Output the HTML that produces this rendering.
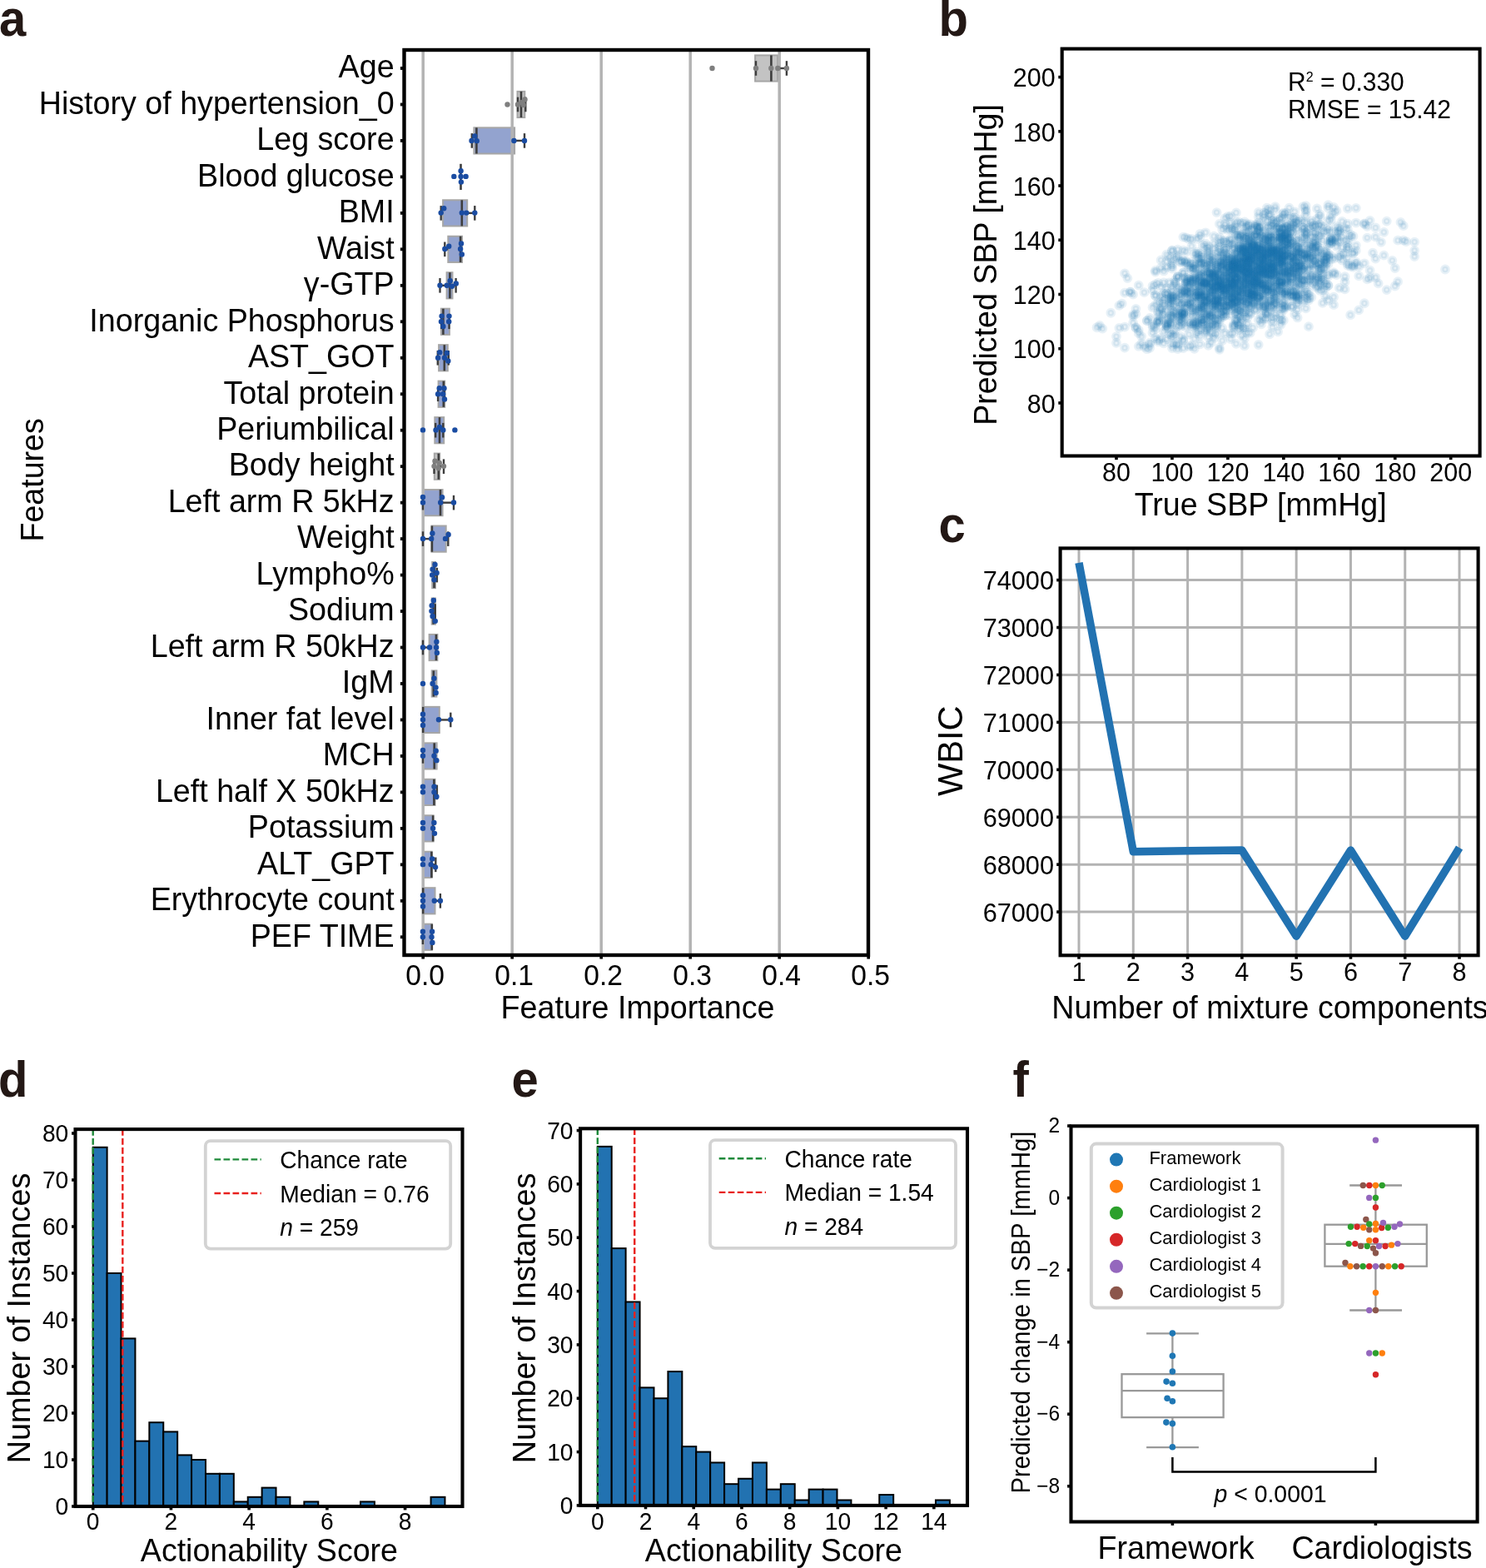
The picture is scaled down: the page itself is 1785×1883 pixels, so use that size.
<!DOCTYPE html>
<html><head><meta charset="utf-8"><title>Figure</title>
<style>html,body{margin:0;padding:0;background:#fff;}svg{display:block;}
svg text{font-family:'Liberation Sans', Arial, Helvetica, sans-serif;}</style></head>
<body><svg width="1785" height="1883" viewBox="0 0 1785 1883">
<rect x="0" y="0" width="1785" height="1883" fill="#fff"/>
<text x="0" y="0" transform="translate(-1,43.3) scale(1,1.04)" font-size="58" font-weight="bold" fill="#231815">a</text>
<text x="0" y="0" transform="translate(1127.5,43.3) scale(1,1.04)" font-size="58" font-weight="bold" fill="#231815">b</text>
<text x="0" y="0" transform="translate(1127.5,651) scale(1,1.04)" font-size="58" font-weight="bold" fill="#231815">c</text>
<text x="0" y="0" transform="translate(-2,1317.4) scale(1,1.04)" font-size="58" font-weight="bold" fill="#231815">d</text>
<text x="0" y="0" transform="translate(614.5,1317.2) scale(1,1.04)" font-size="58" font-weight="bold" fill="#231815">e</text>
<text x="0" y="0" transform="translate(1216.5,1317) scale(1,1.04)" font-size="58" font-weight="bold" fill="#231815">f</text>
<rect x="907.1" y="66.4" width="27" height="31.2" fill="#c3c3c3" stroke="#a6a6a6" stroke-width="2"/>
<rect x="621.5" y="109.87" width="8.8" height="31.2" fill="#c3c3c3" stroke="#a6a6a6" stroke-width="2"/>
<rect x="569.4" y="153.34" width="48.7" height="31.2" fill="#93a3cf" stroke="#a6a6a6" stroke-width="2"/>
<rect x="532.1" y="240.28" width="29.1" height="31.2" fill="#93a3cf" stroke="#a6a6a6" stroke-width="2"/>
<rect x="538.3" y="283.75" width="16.7" height="31.2" fill="#93a3cf" stroke="#a6a6a6" stroke-width="2"/>
<rect x="536.6" y="327.22" width="6.9" height="31.2" fill="#93a3cf" stroke="#a6a6a6" stroke-width="2"/>
<rect x="529.9" y="370.69" width="10" height="31.2" fill="#93a3cf" stroke="#a6a6a6" stroke-width="2"/>
<rect x="527.1" y="414.16" width="10.7" height="31.2" fill="#93a3cf" stroke="#a6a6a6" stroke-width="2"/>
<rect x="526.6" y="457.63" width="7.6" height="31.2" fill="#93a3cf" stroke="#a6a6a6" stroke-width="2"/>
<rect x="522.3" y="501.1" width="10.9" height="31.2" fill="#93a3cf" stroke="#a6a6a6" stroke-width="2"/>
<rect x="521.8" y="544.57" width="6.4" height="31.2" fill="#c3c3c3" stroke="#a6a6a6" stroke-width="2"/>
<rect x="508.2" y="588.04" width="23.4" height="31.2" fill="#93a3cf" stroke="#a6a6a6" stroke-width="2"/>
<rect x="518.5" y="631.51" width="17.2" height="31.2" fill="#93a3cf" stroke="#a6a6a6" stroke-width="2"/>
<rect x="519.2" y="674.98" width="3.8" height="31.2" fill="#93a3cf" stroke="#a6a6a6" stroke-width="2"/>
<rect x="518.7" y="718.45" width="4.3" height="31.2" fill="#93a3cf" stroke="#a6a6a6" stroke-width="2"/>
<rect x="515.6" y="761.92" width="9.8" height="31.2" fill="#93a3cf" stroke="#a6a6a6" stroke-width="2"/>
<rect x="518.7" y="805.39" width="5.7" height="31.2" fill="#93a3cf" stroke="#a6a6a6" stroke-width="2"/>
<rect x="508.2" y="848.86" width="19.6" height="31.2" fill="#93a3cf" stroke="#a6a6a6" stroke-width="2"/>
<rect x="508.2" y="892.33" width="16.4" height="31.2" fill="#93a3cf" stroke="#a6a6a6" stroke-width="2"/>
<rect x="508.2" y="935.8" width="14.3" height="31.2" fill="#93a3cf" stroke="#a6a6a6" stroke-width="2"/>
<rect x="508.2" y="979.27" width="12.4" height="31.2" fill="#93a3cf" stroke="#a6a6a6" stroke-width="2"/>
<rect x="508.2" y="1022.74" width="10.5" height="31.2" fill="#93a3cf" stroke="#a6a6a6" stroke-width="2"/>
<rect x="508.2" y="1066.21" width="14.3" height="31.2" fill="#93a3cf" stroke="#a6a6a6" stroke-width="2"/>
<rect x="508.2" y="1109.68" width="10.6" height="31.2" fill="#93a3cf" stroke="#a6a6a6" stroke-width="2"/>
<line x1="508.2" y1="60" x2="508.2" y2="1147" stroke="#b3b3b3" stroke-width="3.5"/>
<line x1="615.2" y1="60" x2="615.2" y2="1147" stroke="#b3b3b3" stroke-width="3.5"/>
<line x1="722.2" y1="60" x2="722.2" y2="1147" stroke="#b3b3b3" stroke-width="3.5"/>
<line x1="829.2" y1="60" x2="829.2" y2="1147" stroke="#b3b3b3" stroke-width="3.5"/>
<line x1="936.2" y1="60" x2="936.2" y2="1147" stroke="#b3b3b3" stroke-width="3.5"/>
<line x1="934.1" y1="82" x2="944.9" y2="82" stroke="#3d3d3d" stroke-width="2.4"/>
<line x1="908" y1="73.2" x2="908" y2="90.8" stroke="#3d3d3d" stroke-width="2.4"/>
<line x1="944.9" y1="73.2" x2="944.9" y2="90.8" stroke="#3d3d3d" stroke-width="2.4"/>
<line x1="926.4" y1="66.4" x2="926.4" y2="97.6" stroke="#3d3d3d" stroke-width="2.6"/>
<line x1="630.3" y1="125.47" x2="631.3" y2="125.47" stroke="#3d3d3d" stroke-width="2.4"/>
<line x1="622" y1="116.67" x2="622" y2="134.27" stroke="#3d3d3d" stroke-width="2.4"/>
<line x1="631.3" y1="116.67" x2="631.3" y2="134.27" stroke="#3d3d3d" stroke-width="2.4"/>
<line x1="626" y1="109.87" x2="626" y2="141.07" stroke="#3d3d3d" stroke-width="2.6"/>
<line x1="566.8" y1="168.94" x2="569.4" y2="168.94" stroke="#3d3d3d" stroke-width="2.4"/>
<line x1="618.1" y1="168.94" x2="630" y2="168.94" stroke="#3d3d3d" stroke-width="2.4"/>
<line x1="566.8" y1="160.14" x2="566.8" y2="177.74" stroke="#3d3d3d" stroke-width="2.4"/>
<line x1="630" y1="160.14" x2="630" y2="177.74" stroke="#3d3d3d" stroke-width="2.4"/>
<line x1="572.4" y1="153.34" x2="572.4" y2="184.54" stroke="#3d3d3d" stroke-width="2.6"/>
<line x1="553.5" y1="196.81" x2="553.5" y2="228.01" stroke="#3d3d3d" stroke-width="2.6"/>
<line x1="529.7" y1="255.88" x2="532.1" y2="255.88" stroke="#3d3d3d" stroke-width="2.4"/>
<line x1="561.2" y1="255.88" x2="570.3" y2="255.88" stroke="#3d3d3d" stroke-width="2.4"/>
<line x1="529.7" y1="247.08" x2="529.7" y2="264.68" stroke="#3d3d3d" stroke-width="2.4"/>
<line x1="570.3" y1="247.08" x2="570.3" y2="264.68" stroke="#3d3d3d" stroke-width="2.4"/>
<line x1="554.8" y1="240.28" x2="554.8" y2="271.48" stroke="#3d3d3d" stroke-width="2.6"/>
<line x1="534.3" y1="299.35" x2="538.3" y2="299.35" stroke="#3d3d3d" stroke-width="2.4"/>
<line x1="534.3" y1="290.55" x2="534.3" y2="308.15" stroke="#3d3d3d" stroke-width="2.4"/>
<line x1="553.1" y1="283.75" x2="553.1" y2="314.95" stroke="#3d3d3d" stroke-width="2.6"/>
<line x1="528.5" y1="342.82" x2="536.6" y2="342.82" stroke="#3d3d3d" stroke-width="2.4"/>
<line x1="543.5" y1="342.82" x2="547.6" y2="342.82" stroke="#3d3d3d" stroke-width="2.4"/>
<line x1="528.5" y1="334.02" x2="528.5" y2="351.62" stroke="#3d3d3d" stroke-width="2.4"/>
<line x1="547.6" y1="334.02" x2="547.6" y2="351.62" stroke="#3d3d3d" stroke-width="2.4"/>
<line x1="540.4" y1="327.22" x2="540.4" y2="358.42" stroke="#3d3d3d" stroke-width="2.6"/>
<line x1="530.2" y1="377.49" x2="530.2" y2="395.09" stroke="#3d3d3d" stroke-width="2.4"/>
<line x1="539.5" y1="377.49" x2="539.5" y2="395.09" stroke="#3d3d3d" stroke-width="2.4"/>
<line x1="532.4" y1="370.69" x2="532.4" y2="401.89" stroke="#3d3d3d" stroke-width="2.6"/>
<line x1="525.8" y1="429.76" x2="527.1" y2="429.76" stroke="#3d3d3d" stroke-width="2.4"/>
<line x1="537.8" y1="429.76" x2="538.8" y2="429.76" stroke="#3d3d3d" stroke-width="2.4"/>
<line x1="525.8" y1="420.96" x2="525.8" y2="438.56" stroke="#3d3d3d" stroke-width="2.4"/>
<line x1="538.8" y1="420.96" x2="538.8" y2="438.56" stroke="#3d3d3d" stroke-width="2.4"/>
<line x1="533.8" y1="414.16" x2="533.8" y2="445.36" stroke="#3d3d3d" stroke-width="2.6"/>
<line x1="526.1" y1="473.23" x2="526.6" y2="473.23" stroke="#3d3d3d" stroke-width="2.4"/>
<line x1="526.1" y1="464.43" x2="526.1" y2="482.03" stroke="#3d3d3d" stroke-width="2.4"/>
<line x1="534" y1="464.43" x2="534" y2="482.03" stroke="#3d3d3d" stroke-width="2.4"/>
<line x1="532.8" y1="457.63" x2="532.8" y2="488.83" stroke="#3d3d3d" stroke-width="2.6"/>
<line x1="523.2" y1="507.9" x2="523.2" y2="525.5" stroke="#3d3d3d" stroke-width="2.4"/>
<line x1="532.3" y1="507.9" x2="532.3" y2="525.5" stroke="#3d3d3d" stroke-width="2.4"/>
<line x1="528" y1="501.1" x2="528" y2="532.3" stroke="#3d3d3d" stroke-width="2.6"/>
<line x1="521.5" y1="560.17" x2="521.8" y2="560.17" stroke="#3d3d3d" stroke-width="2.4"/>
<line x1="528.2" y1="560.17" x2="533" y2="560.17" stroke="#3d3d3d" stroke-width="2.4"/>
<line x1="521.5" y1="551.37" x2="521.5" y2="568.97" stroke="#3d3d3d" stroke-width="2.4"/>
<line x1="533" y1="551.37" x2="533" y2="568.97" stroke="#3d3d3d" stroke-width="2.4"/>
<line x1="526.8" y1="544.57" x2="526.8" y2="575.77" stroke="#3d3d3d" stroke-width="2.6"/>
<line x1="508" y1="603.64" x2="508.2" y2="603.64" stroke="#3d3d3d" stroke-width="2.4"/>
<line x1="531.6" y1="603.64" x2="545" y2="603.64" stroke="#3d3d3d" stroke-width="2.4"/>
<line x1="508" y1="594.84" x2="508" y2="612.44" stroke="#3d3d3d" stroke-width="2.4"/>
<line x1="545" y1="594.84" x2="545" y2="612.44" stroke="#3d3d3d" stroke-width="2.4"/>
<line x1="529" y1="588.04" x2="529" y2="619.24" stroke="#3d3d3d" stroke-width="2.6"/>
<line x1="508" y1="647.11" x2="518.5" y2="647.11" stroke="#3d3d3d" stroke-width="2.4"/>
<line x1="535.7" y1="647.11" x2="538.3" y2="647.11" stroke="#3d3d3d" stroke-width="2.4"/>
<line x1="508" y1="638.31" x2="508" y2="655.91" stroke="#3d3d3d" stroke-width="2.4"/>
<line x1="538.3" y1="638.31" x2="538.3" y2="655.91" stroke="#3d3d3d" stroke-width="2.4"/>
<line x1="518.9" y1="631.51" x2="518.9" y2="662.71" stroke="#3d3d3d" stroke-width="2.6"/>
<line x1="523" y1="690.58" x2="524.9" y2="690.58" stroke="#3d3d3d" stroke-width="2.4"/>
<line x1="524.9" y1="681.78" x2="524.9" y2="699.38" stroke="#3d3d3d" stroke-width="2.4"/>
<line x1="521.5" y1="674.98" x2="521.5" y2="706.18" stroke="#3d3d3d" stroke-width="2.6"/>
<line x1="522.8" y1="725.25" x2="522.8" y2="742.85" stroke="#3d3d3d" stroke-width="2.4"/>
<line x1="520.6" y1="718.45" x2="520.6" y2="749.65" stroke="#3d3d3d" stroke-width="2.6"/>
<line x1="508" y1="777.52" x2="515.6" y2="777.52" stroke="#3d3d3d" stroke-width="2.4"/>
<line x1="508" y1="768.72" x2="508" y2="786.32" stroke="#3d3d3d" stroke-width="2.4"/>
<line x1="523.9" y1="761.92" x2="523.9" y2="793.12" stroke="#3d3d3d" stroke-width="2.6"/>
<line x1="520.8" y1="805.39" x2="520.8" y2="836.59" stroke="#3d3d3d" stroke-width="2.6"/>
<line x1="527.8" y1="864.46" x2="541.3" y2="864.46" stroke="#3d3d3d" stroke-width="2.4"/>
<line x1="541.3" y1="855.66" x2="541.3" y2="873.26" stroke="#3d3d3d" stroke-width="2.4"/>
<line x1="508.2" y1="848.86" x2="508.2" y2="880.06" stroke="#3d3d3d" stroke-width="2.6"/>
<line x1="508" y1="907.93" x2="508.2" y2="907.93" stroke="#3d3d3d" stroke-width="2.4"/>
<line x1="508" y1="899.13" x2="508" y2="916.73" stroke="#3d3d3d" stroke-width="2.4"/>
<line x1="521.7" y1="892.33" x2="521.7" y2="923.53" stroke="#3d3d3d" stroke-width="2.6"/>
<line x1="522.5" y1="951.4" x2="524.9" y2="951.4" stroke="#3d3d3d" stroke-width="2.4"/>
<line x1="524.9" y1="942.6" x2="524.9" y2="960.2" stroke="#3d3d3d" stroke-width="2.4"/>
<line x1="521.4" y1="935.8" x2="521.4" y2="967" stroke="#3d3d3d" stroke-width="2.6"/>
<line x1="520.1" y1="979.27" x2="520.1" y2="1010.47" stroke="#3d3d3d" stroke-width="2.6"/>
<line x1="518.7" y1="1038.34" x2="523.3" y2="1038.34" stroke="#3d3d3d" stroke-width="2.4"/>
<line x1="523.3" y1="1029.54" x2="523.3" y2="1047.14" stroke="#3d3d3d" stroke-width="2.4"/>
<line x1="518.4" y1="1022.74" x2="518.4" y2="1053.94" stroke="#3d3d3d" stroke-width="2.6"/>
<line x1="522.5" y1="1081.81" x2="528.9" y2="1081.81" stroke="#3d3d3d" stroke-width="2.4"/>
<line x1="528.9" y1="1073.01" x2="528.9" y2="1090.61" stroke="#3d3d3d" stroke-width="2.4"/>
<line x1="508.2" y1="1066.21" x2="508.2" y2="1097.41" stroke="#3d3d3d" stroke-width="2.6"/>
<line x1="507.9" y1="1125.28" x2="508.2" y2="1125.28" stroke="#3d3d3d" stroke-width="2.4"/>
<line x1="507.9" y1="1116.48" x2="507.9" y2="1134.08" stroke="#3d3d3d" stroke-width="2.4"/>
<line x1="518.8" y1="1109.68" x2="518.8" y2="1140.88" stroke="#3d3d3d" stroke-width="2.6"/>
<circle cx="855.5" cy="82" r="3.2" fill="#7f7f7f"/>
<circle cx="908" cy="82" r="3.2" fill="#7f7f7f"/>
<circle cx="926.3" cy="82" r="3.2" fill="#7f7f7f"/>
<circle cx="934.3" cy="82" r="3.2" fill="#7f7f7f"/>
<circle cx="944.9" cy="82" r="3.2" fill="#7f7f7f"/>
<circle cx="609.5" cy="125.47" r="3.2" fill="#7f7f7f"/>
<circle cx="622" cy="125.47" r="3.2" fill="#7f7f7f"/>
<circle cx="630.5" cy="119.47" r="3.2" fill="#7f7f7f"/>
<circle cx="628.6" cy="125.97" r="3.2" fill="#7f7f7f"/>
<circle cx="626.5" cy="122.97" r="3.2" fill="#7f7f7f"/>
<circle cx="566.5" cy="168.94" r="3.2" fill="#1a4ca2"/>
<circle cx="570.3" cy="163.44" r="3.2" fill="#1a4ca2"/>
<circle cx="572.7" cy="169.14" r="3.2" fill="#1a4ca2"/>
<circle cx="617.4" cy="168.94" r="3.2" fill="#1a4ca2"/>
<circle cx="630" cy="168.94" r="3.2" fill="#1a4ca2"/>
<circle cx="545.3" cy="211.91" r="3.2" fill="#1a4ca2"/>
<circle cx="553.6" cy="205.21" r="3.2" fill="#1a4ca2"/>
<circle cx="553.6" cy="211.91" r="3.2" fill="#1a4ca2"/>
<circle cx="559.6" cy="211.91" r="3.2" fill="#1a4ca2"/>
<circle cx="553.9" cy="218.61" r="3.2" fill="#1a4ca2"/>
<circle cx="529.7" cy="255.58" r="3.2" fill="#1a4ca2"/>
<circle cx="533.2" cy="250.28" r="3.2" fill="#1a4ca2"/>
<circle cx="554.8" cy="255.58" r="3.2" fill="#1a4ca2"/>
<circle cx="560.3" cy="255.58" r="3.2" fill="#1a4ca2"/>
<circle cx="570.3" cy="255.58" r="3.2" fill="#1a4ca2"/>
<circle cx="534.3" cy="298.95" r="3.2" fill="#1a4ca2"/>
<circle cx="539.2" cy="295.75" r="3.2" fill="#1a4ca2"/>
<circle cx="554" cy="292.55" r="3.2" fill="#1a4ca2"/>
<circle cx="553.1" cy="298.95" r="3.2" fill="#1a4ca2"/>
<circle cx="554.8" cy="305.45" r="3.2" fill="#1a4ca2"/>
<circle cx="528.5" cy="342.82" r="3.2" fill="#1a4ca2"/>
<circle cx="536.8" cy="342.82" r="3.2" fill="#1a4ca2"/>
<circle cx="540.7" cy="337.32" r="3.2" fill="#1a4ca2"/>
<circle cx="542.9" cy="343.82" r="3.2" fill="#1a4ca2"/>
<circle cx="547.8" cy="340.42" r="3.2" fill="#1a4ca2"/>
<circle cx="530.6" cy="379.59" r="3.2" fill="#1a4ca2"/>
<circle cx="530" cy="386.29" r="3.2" fill="#1a4ca2"/>
<circle cx="532.4" cy="391.99" r="3.2" fill="#1a4ca2"/>
<circle cx="539.5" cy="379.59" r="3.2" fill="#1a4ca2"/>
<circle cx="539.2" cy="386.29" r="3.2" fill="#1a4ca2"/>
<circle cx="528.2" cy="423.16" r="3.2" fill="#1a4ca2"/>
<circle cx="526.1" cy="429.66" r="3.2" fill="#1a4ca2"/>
<circle cx="536.8" cy="424.06" r="3.2" fill="#1a4ca2"/>
<circle cx="534" cy="429.66" r="3.2" fill="#1a4ca2"/>
<circle cx="538.3" cy="433.46" r="3.2" fill="#1a4ca2"/>
<circle cx="527.8" cy="466.23" r="3.2" fill="#1a4ca2"/>
<circle cx="533.5" cy="466.23" r="3.2" fill="#1a4ca2"/>
<circle cx="526.1" cy="473.13" r="3.2" fill="#1a4ca2"/>
<circle cx="532.1" cy="473.13" r="3.2" fill="#1a4ca2"/>
<circle cx="534" cy="479.43" r="3.2" fill="#1a4ca2"/>
<circle cx="508" cy="516.4" r="3.2" fill="#1a4ca2"/>
<circle cx="523.5" cy="516.4" r="3.2" fill="#1a4ca2"/>
<circle cx="528" cy="513" r="3.2" fill="#1a4ca2"/>
<circle cx="532.3" cy="516.4" r="3.2" fill="#1a4ca2"/>
<circle cx="546.4" cy="516.4" r="3.2" fill="#1a4ca2"/>
<circle cx="522.5" cy="553.67" r="3.2" fill="#7f7f7f"/>
<circle cx="521.5" cy="559.87" r="3.2" fill="#7f7f7f"/>
<circle cx="527.8" cy="555.97" r="3.2" fill="#7f7f7f"/>
<circle cx="526.8" cy="562.27" r="3.2" fill="#7f7f7f"/>
<circle cx="533" cy="559.87" r="3.2" fill="#7f7f7f"/>
<circle cx="508" cy="597.04" r="3.2" fill="#1a4ca2"/>
<circle cx="508" cy="603.44" r="3.2" fill="#1a4ca2"/>
<circle cx="531.1" cy="597.24" r="3.2" fill="#1a4ca2"/>
<circle cx="529.2" cy="603.44" r="3.2" fill="#1a4ca2"/>
<circle cx="545" cy="603.44" r="3.2" fill="#1a4ca2"/>
<circle cx="508" cy="646.91" r="3.2" fill="#1a4ca2"/>
<circle cx="518.2" cy="646.91" r="3.2" fill="#1a4ca2"/>
<circle cx="519.4" cy="640.41" r="3.2" fill="#1a4ca2"/>
<circle cx="535" cy="646.91" r="3.2" fill="#1a4ca2"/>
<circle cx="538.6" cy="642.01" r="3.2" fill="#1a4ca2"/>
<circle cx="522.5" cy="677.98" r="3.2" fill="#1a4ca2"/>
<circle cx="519.6" cy="683.68" r="3.2" fill="#1a4ca2"/>
<circle cx="524.6" cy="687.98" r="3.2" fill="#1a4ca2"/>
<circle cx="519.2" cy="690.38" r="3.2" fill="#1a4ca2"/>
<circle cx="521.5" cy="696.18" r="3.2" fill="#1a4ca2"/>
<circle cx="520.8" cy="720.95" r="3.2" fill="#1a4ca2"/>
<circle cx="518.7" cy="727.15" r="3.2" fill="#1a4ca2"/>
<circle cx="518.4" cy="733.85" r="3.2" fill="#1a4ca2"/>
<circle cx="519.6" cy="740.05" r="3.2" fill="#1a4ca2"/>
<circle cx="522.8" cy="745.85" r="3.2" fill="#1a4ca2"/>
<circle cx="508" cy="777.52" r="3.2" fill="#1a4ca2"/>
<circle cx="516" cy="777.52" r="3.2" fill="#1a4ca2"/>
<circle cx="524.4" cy="770.82" r="3.2" fill="#1a4ca2"/>
<circle cx="524.1" cy="777.52" r="3.2" fill="#1a4ca2"/>
<circle cx="524.9" cy="783.92" r="3.2" fill="#1a4ca2"/>
<circle cx="508" cy="820.99" r="3.2" fill="#1a4ca2"/>
<circle cx="521.4" cy="814.79" r="3.2" fill="#1a4ca2"/>
<circle cx="519.6" cy="820.99" r="3.2" fill="#1a4ca2"/>
<circle cx="523.5" cy="825.59" r="3.2" fill="#1a4ca2"/>
<circle cx="523.7" cy="831.99" r="3.2" fill="#1a4ca2"/>
<circle cx="508" cy="857.76" r="3.2" fill="#1a4ca2"/>
<circle cx="508" cy="864.26" r="3.2" fill="#1a4ca2"/>
<circle cx="508" cy="870.96" r="3.2" fill="#1a4ca2"/>
<circle cx="527" cy="864.26" r="3.2" fill="#1a4ca2"/>
<circle cx="541.3" cy="864.26" r="3.2" fill="#1a4ca2"/>
<circle cx="508" cy="900.93" r="3.2" fill="#1a4ca2"/>
<circle cx="508" cy="907.73" r="3.2" fill="#1a4ca2"/>
<circle cx="523.7" cy="901.63" r="3.2" fill="#1a4ca2"/>
<circle cx="521.5" cy="907.73" r="3.2" fill="#1a4ca2"/>
<circle cx="524.4" cy="913.13" r="3.2" fill="#1a4ca2"/>
<circle cx="508" cy="944.8" r="3.2" fill="#1a4ca2"/>
<circle cx="508" cy="951.2" r="3.2" fill="#1a4ca2"/>
<circle cx="521.5" cy="944.8" r="3.2" fill="#1a4ca2"/>
<circle cx="521.5" cy="951.2" r="3.2" fill="#1a4ca2"/>
<circle cx="524.4" cy="956.8" r="3.2" fill="#1a4ca2"/>
<circle cx="508" cy="988.07" r="3.2" fill="#1a4ca2"/>
<circle cx="508" cy="994.77" r="3.2" fill="#1a4ca2"/>
<circle cx="521.4" cy="988.07" r="3.2" fill="#1a4ca2"/>
<circle cx="520.1" cy="994.77" r="3.2" fill="#1a4ca2"/>
<circle cx="522" cy="1000.87" r="3.2" fill="#1a4ca2"/>
<circle cx="508" cy="1031.44" r="3.2" fill="#1a4ca2"/>
<circle cx="508" cy="1038.14" r="3.2" fill="#1a4ca2"/>
<circle cx="519.2" cy="1031.44" r="3.2" fill="#1a4ca2"/>
<circle cx="517.7" cy="1038.14" r="3.2" fill="#1a4ca2"/>
<circle cx="523" cy="1041.34" r="3.2" fill="#1a4ca2"/>
<circle cx="508" cy="1075.31" r="3.2" fill="#1a4ca2"/>
<circle cx="508" cy="1081.81" r="3.2" fill="#1a4ca2"/>
<circle cx="508" cy="1088.51" r="3.2" fill="#1a4ca2"/>
<circle cx="521.8" cy="1081.81" r="3.2" fill="#1a4ca2"/>
<circle cx="528.9" cy="1081.81" r="3.2" fill="#1a4ca2"/>
<circle cx="507.9" cy="1118.78" r="3.2" fill="#1a4ca2"/>
<circle cx="507.9" cy="1125.18" r="3.2" fill="#1a4ca2"/>
<circle cx="519.1" cy="1118.78" r="3.2" fill="#1a4ca2"/>
<circle cx="518.5" cy="1125.18" r="3.2" fill="#1a4ca2"/>
<circle cx="519.4" cy="1131.88" r="3.2" fill="#1a4ca2"/>
<rect x="485.5" y="60" width="557.5" height="1087" fill="none" stroke="#000" stroke-width="4.4" stroke-linejoin="miter"/>
<line x1="508.2" y1="1147" x2="508.2" y2="1151.6" stroke="#000" stroke-width="3.6"/>
<text x="0" y="0" transform="translate(510.7,1182.8) scale(1,1.04)" font-size="33.6" text-anchor="middle">0.0</text>
<line x1="615.2" y1="1147" x2="615.2" y2="1151.6" stroke="#000" stroke-width="3.6"/>
<text x="0" y="0" transform="translate(617.7,1182.8) scale(1,1.04)" font-size="33.6" text-anchor="middle">0.1</text>
<line x1="722.2" y1="1147" x2="722.2" y2="1151.6" stroke="#000" stroke-width="3.6"/>
<text x="0" y="0" transform="translate(724.7,1182.8) scale(1,1.04)" font-size="33.6" text-anchor="middle">0.2</text>
<line x1="829.2" y1="1147" x2="829.2" y2="1151.6" stroke="#000" stroke-width="3.6"/>
<text x="0" y="0" transform="translate(831.7,1182.8) scale(1,1.04)" font-size="33.6" text-anchor="middle">0.3</text>
<line x1="936.2" y1="1147" x2="936.2" y2="1151.6" stroke="#000" stroke-width="3.6"/>
<text x="0" y="0" transform="translate(938.7,1182.8) scale(1,1.04)" font-size="33.6" text-anchor="middle">0.4</text>
<line x1="1043.2" y1="1147" x2="1043.2" y2="1151.6" stroke="#000" stroke-width="3.6"/>
<text x="0" y="0" transform="translate(1045.7,1182.8) scale(1,1.04)" font-size="33.6" text-anchor="middle">0.5</text>
<line x1="480.9" y1="82" x2="485.5" y2="82" stroke="#000" stroke-width="3.8"/>
<text x="0" y="0" transform="translate(473.6,93.3) scale(1,1.04)" font-size="37.65" text-anchor="end">Age</text>
<line x1="480.9" y1="125.47" x2="485.5" y2="125.47" stroke="#000" stroke-width="3.8"/>
<text x="0" y="0" transform="translate(473.6,136.77) scale(1,1.04)" font-size="37.65" text-anchor="end">History of hypertension_0</text>
<line x1="480.9" y1="168.94" x2="485.5" y2="168.94" stroke="#000" stroke-width="3.8"/>
<text x="0" y="0" transform="translate(473.6,180.24) scale(1,1.04)" font-size="37.65" text-anchor="end">Leg score</text>
<line x1="480.9" y1="212.41" x2="485.5" y2="212.41" stroke="#000" stroke-width="3.8"/>
<text x="0" y="0" transform="translate(473.6,223.71) scale(1,1.04)" font-size="37.65" text-anchor="end">Blood glucose</text>
<line x1="480.9" y1="255.88" x2="485.5" y2="255.88" stroke="#000" stroke-width="3.8"/>
<text x="0" y="0" transform="translate(473.6,267.18) scale(1,1.04)" font-size="37.65" text-anchor="end">BMI</text>
<line x1="480.9" y1="299.35" x2="485.5" y2="299.35" stroke="#000" stroke-width="3.8"/>
<text x="0" y="0" transform="translate(473.6,310.65) scale(1,1.04)" font-size="37.65" text-anchor="end">Waist</text>
<line x1="480.9" y1="342.82" x2="485.5" y2="342.82" stroke="#000" stroke-width="3.8"/>
<text x="0" y="0" transform="translate(473.6,354.12) scale(1,1.04)" font-size="37.65" text-anchor="end">&#947;-GTP</text>
<line x1="480.9" y1="386.29" x2="485.5" y2="386.29" stroke="#000" stroke-width="3.8"/>
<text x="0" y="0" transform="translate(473.6,397.59) scale(1,1.04)" font-size="37.65" text-anchor="end">Inorganic Phosphorus</text>
<line x1="480.9" y1="429.76" x2="485.5" y2="429.76" stroke="#000" stroke-width="3.8"/>
<text x="0" y="0" transform="translate(473.6,441.06) scale(1,1.04)" font-size="37.65" text-anchor="end">AST_GOT</text>
<line x1="480.9" y1="473.23" x2="485.5" y2="473.23" stroke="#000" stroke-width="3.8"/>
<text x="0" y="0" transform="translate(473.6,484.53) scale(1,1.04)" font-size="37.65" text-anchor="end">Total protein</text>
<line x1="480.9" y1="516.7" x2="485.5" y2="516.7" stroke="#000" stroke-width="3.8"/>
<text x="0" y="0" transform="translate(473.6,528) scale(1,1.04)" font-size="37.65" text-anchor="end">Periumbilical</text>
<line x1="480.9" y1="560.17" x2="485.5" y2="560.17" stroke="#000" stroke-width="3.8"/>
<text x="0" y="0" transform="translate(473.6,571.47) scale(1,1.04)" font-size="37.65" text-anchor="end">Body height</text>
<line x1="480.9" y1="603.64" x2="485.5" y2="603.64" stroke="#000" stroke-width="3.8"/>
<text x="0" y="0" transform="translate(473.6,614.94) scale(1,1.04)" font-size="37.65" text-anchor="end">Left arm R 5kHz</text>
<line x1="480.9" y1="647.11" x2="485.5" y2="647.11" stroke="#000" stroke-width="3.8"/>
<text x="0" y="0" transform="translate(473.6,658.41) scale(1,1.04)" font-size="37.65" text-anchor="end">Weight</text>
<line x1="480.9" y1="690.58" x2="485.5" y2="690.58" stroke="#000" stroke-width="3.8"/>
<text x="0" y="0" transform="translate(473.6,701.88) scale(1,1.04)" font-size="37.65" text-anchor="end">Lympho%</text>
<line x1="480.9" y1="734.05" x2="485.5" y2="734.05" stroke="#000" stroke-width="3.8"/>
<text x="0" y="0" transform="translate(473.6,745.35) scale(1,1.04)" font-size="37.65" text-anchor="end">Sodium</text>
<line x1="480.9" y1="777.52" x2="485.5" y2="777.52" stroke="#000" stroke-width="3.8"/>
<text x="0" y="0" transform="translate(473.6,788.82) scale(1,1.04)" font-size="37.65" text-anchor="end">Left arm R 50kHz</text>
<line x1="480.9" y1="820.99" x2="485.5" y2="820.99" stroke="#000" stroke-width="3.8"/>
<text x="0" y="0" transform="translate(473.6,832.29) scale(1,1.04)" font-size="37.65" text-anchor="end">IgM</text>
<line x1="480.9" y1="864.46" x2="485.5" y2="864.46" stroke="#000" stroke-width="3.8"/>
<text x="0" y="0" transform="translate(473.6,875.76) scale(1,1.04)" font-size="37.65" text-anchor="end">Inner fat level</text>
<line x1="480.9" y1="907.93" x2="485.5" y2="907.93" stroke="#000" stroke-width="3.8"/>
<text x="0" y="0" transform="translate(473.6,919.23) scale(1,1.04)" font-size="37.65" text-anchor="end">MCH</text>
<line x1="480.9" y1="951.4" x2="485.5" y2="951.4" stroke="#000" stroke-width="3.8"/>
<text x="0" y="0" transform="translate(473.6,962.7) scale(1,1.04)" font-size="37.65" text-anchor="end">Left half X 50kHz</text>
<line x1="480.9" y1="994.87" x2="485.5" y2="994.87" stroke="#000" stroke-width="3.8"/>
<text x="0" y="0" transform="translate(473.6,1006.17) scale(1,1.04)" font-size="37.65" text-anchor="end">Potassium</text>
<line x1="480.9" y1="1038.34" x2="485.5" y2="1038.34" stroke="#000" stroke-width="3.8"/>
<text x="0" y="0" transform="translate(473.6,1049.64) scale(1,1.04)" font-size="37.65" text-anchor="end">ALT_GPT</text>
<line x1="480.9" y1="1081.81" x2="485.5" y2="1081.81" stroke="#000" stroke-width="3.8"/>
<text x="0" y="0" transform="translate(473.6,1093.11) scale(1,1.04)" font-size="37.65" text-anchor="end">Erythrocyte count</text>
<line x1="480.9" y1="1125.28" x2="485.5" y2="1125.28" stroke="#000" stroke-width="3.8"/>
<text x="0" y="0" transform="translate(473.6,1136.58) scale(1,1.04)" font-size="37.65" text-anchor="end">PEF TIME</text>
<text x="0" y="0" transform="translate(766,1222.8) scale(1,1.04)" font-size="37.7" text-anchor="middle">Feature Importance</text>
<text x="0" y="0" transform="translate(51.5,576.4) rotate(-90) scale(1,1.04)" font-size="37.6" text-anchor="middle">Features</text>
<g fill="#1f77b4" fill-opacity="0.1" stroke="#1f77b4" stroke-opacity="0.1" stroke-width="4.4"><circle cx="1736.01" cy="323.48" r="3.7"/><circle cx="1317.57" cy="393.26" r="3.7"/><circle cx="1558.59" cy="296.86" r="3.7"/><circle cx="1478.25" cy="331.23" r="3.7"/><circle cx="1401.26" cy="346.5" r="3.7"/><circle cx="1508.38" cy="282.48" r="3.7"/><circle cx="1444.77" cy="366.2" r="3.7"/><circle cx="1605.45" cy="284.39" r="3.7"/><circle cx="1515.07" cy="310.42" r="3.7"/><circle cx="1511.72" cy="341.43" r="3.7"/><circle cx="1461.51" cy="366.37" r="3.7"/><circle cx="1515.07" cy="318.37" r="3.7"/><circle cx="1471.55" cy="368.14" r="3.7"/><circle cx="1441.42" cy="370.73" r="3.7"/><circle cx="1521.77" cy="365.72" r="3.7"/><circle cx="1434.73" cy="373.61" r="3.7"/><circle cx="1491.64" cy="356.11" r="3.7"/><circle cx="1541.85" cy="291.16" r="3.7"/><circle cx="1535.15" cy="286.17" r="3.7"/><circle cx="1448.12" cy="395.62" r="3.7"/><circle cx="1531.81" cy="335.14" r="3.7"/><circle cx="1434.73" cy="379.3" r="3.7"/><circle cx="1568.63" cy="370.43" r="3.7"/><circle cx="1484.94" cy="342.81" r="3.7"/><circle cx="1484.94" cy="303.95" r="3.7"/><circle cx="1558.59" cy="305.04" r="3.7"/><circle cx="1511.72" cy="316.55" r="3.7"/><circle cx="1525.11" cy="302.04" r="3.7"/><circle cx="1511.72" cy="332.81" r="3.7"/><circle cx="1384.52" cy="399.48" r="3.7"/><circle cx="1528.46" cy="336.29" r="3.7"/><circle cx="1421.34" cy="313.91" r="3.7"/><circle cx="1518.42" cy="305.77" r="3.7"/><circle cx="1505.03" cy="291.05" r="3.7"/><circle cx="1494.99" cy="327.07" r="3.7"/><circle cx="1448.12" cy="321.21" r="3.7"/><circle cx="1471.55" cy="373.16" r="3.7"/><circle cx="1488.29" cy="341.42" r="3.7"/><circle cx="1518.42" cy="382.63" r="3.7"/><circle cx="1451.47" cy="329.23" r="3.7"/><circle cx="1481.6" cy="342.94" r="3.7"/><circle cx="1505.03" cy="308.53" r="3.7"/><circle cx="1498.33" cy="328.4" r="3.7"/><circle cx="1538.5" cy="296.59" r="3.7"/><circle cx="1551.89" cy="341.04" r="3.7"/><circle cx="1494.99" cy="301.52" r="3.7"/><circle cx="1575.33" cy="265.44" r="3.7"/><circle cx="1431.38" cy="350.9" r="3.7"/><circle cx="1538.5" cy="297.13" r="3.7"/><circle cx="1511.72" cy="339.73" r="3.7"/><circle cx="1561.93" cy="320.68" r="3.7"/><circle cx="1484.94" cy="335.43" r="3.7"/><circle cx="1608.8" cy="309.54" r="3.7"/><circle cx="1491.64" cy="301.83" r="3.7"/><circle cx="1505.03" cy="363.62" r="3.7"/><circle cx="1478.25" cy="316.85" r="3.7"/><circle cx="1608.8" cy="306.98" r="3.7"/><circle cx="1535.15" cy="360.9" r="3.7"/><circle cx="1444.77" cy="355.03" r="3.7"/><circle cx="1541.85" cy="308.38" r="3.7"/><circle cx="1652.32" cy="333.28" r="3.7"/><circle cx="1471.55" cy="322.54" r="3.7"/><circle cx="1508.38" cy="305.37" r="3.7"/><circle cx="1585.37" cy="339.73" r="3.7"/><circle cx="1438.08" cy="400.18" r="3.7"/><circle cx="1431.38" cy="415.27" r="3.7"/><circle cx="1498.33" cy="363.57" r="3.7"/><circle cx="1508.38" cy="351.68" r="3.7"/><circle cx="1551.89" cy="316.46" r="3.7"/><circle cx="1582.02" cy="322.03" r="3.7"/><circle cx="1518.42" cy="308.71" r="3.7"/><circle cx="1508.38" cy="341.1" r="3.7"/><circle cx="1578.67" cy="311.98" r="3.7"/><circle cx="1468.2" cy="345.33" r="3.7"/><circle cx="1578.67" cy="314.52" r="3.7"/><circle cx="1551.89" cy="324.25" r="3.7"/><circle cx="1515.07" cy="341.24" r="3.7"/><circle cx="1484.94" cy="311.59" r="3.7"/><circle cx="1491.64" cy="299.17" r="3.7"/><circle cx="1541.85" cy="328.06" r="3.7"/><circle cx="1391.21" cy="410.33" r="3.7"/><circle cx="1555.24" cy="328.32" r="3.7"/><circle cx="1484.94" cy="334.38" r="3.7"/><circle cx="1498.33" cy="326.13" r="3.7"/><circle cx="1528.46" cy="286.94" r="3.7"/><circle cx="1448.12" cy="359.68" r="3.7"/><circle cx="1404.6" cy="389.58" r="3.7"/><circle cx="1458.16" cy="353.9" r="3.7"/><circle cx="1505.03" cy="362.31" r="3.7"/><circle cx="1505.03" cy="393.7" r="3.7"/><circle cx="1444.77" cy="375.48" r="3.7"/><circle cx="1474.9" cy="368.66" r="3.7"/><circle cx="1361.09" cy="379.63" r="3.7"/><circle cx="1592.06" cy="355.41" r="3.7"/><circle cx="1371.13" cy="412.59" r="3.7"/><circle cx="1515.07" cy="310.65" r="3.7"/><circle cx="1535.15" cy="305.15" r="3.7"/><circle cx="1448.12" cy="397.16" r="3.7"/><circle cx="1548.55" cy="271.44" r="3.7"/><circle cx="1568.63" cy="258.49" r="3.7"/><circle cx="1324.26" cy="394.56" r="3.7"/><circle cx="1528.46" cy="289.94" r="3.7"/><circle cx="1478.25" cy="318.81" r="3.7"/><circle cx="1494.99" cy="335.83" r="3.7"/><circle cx="1484.94" cy="331.37" r="3.7"/><circle cx="1448.12" cy="376.02" r="3.7"/><circle cx="1595.41" cy="308.64" r="3.7"/><circle cx="1531.81" cy="301.65" r="3.7"/><circle cx="1505.03" cy="350.11" r="3.7"/><circle cx="1384.52" cy="348.38" r="3.7"/><circle cx="1494.99" cy="312.43" r="3.7"/><circle cx="1417.99" cy="385.32" r="3.7"/><circle cx="1578.67" cy="289.89" r="3.7"/><circle cx="1618.84" cy="268.77" r="3.7"/><circle cx="1505.03" cy="338.32" r="3.7"/><circle cx="1598.76" cy="278.18" r="3.7"/><circle cx="1458.16" cy="312.37" r="3.7"/><circle cx="1491.64" cy="315.04" r="3.7"/><circle cx="1498.33" cy="313.89" r="3.7"/><circle cx="1531.81" cy="309.98" r="3.7"/><circle cx="1464.86" cy="293.38" r="3.7"/><circle cx="1461.51" cy="343.71" r="3.7"/><circle cx="1538.5" cy="311.29" r="3.7"/><circle cx="1488.29" cy="370.86" r="3.7"/><circle cx="1364.43" cy="377.07" r="3.7"/><circle cx="1521.77" cy="349.66" r="3.7"/><circle cx="1525.11" cy="345.24" r="3.7"/><circle cx="1541.85" cy="354.45" r="3.7"/><circle cx="1454.82" cy="330.99" r="3.7"/><circle cx="1511.72" cy="315.17" r="3.7"/><circle cx="1494.99" cy="311.55" r="3.7"/><circle cx="1558.59" cy="361.93" r="3.7"/><circle cx="1488.29" cy="309.91" r="3.7"/><circle cx="1464.86" cy="337.54" r="3.7"/><circle cx="1484.94" cy="255.45" r="3.7"/><circle cx="1454.82" cy="353.65" r="3.7"/><circle cx="1675.75" cy="322.01" r="3.7"/><circle cx="1541.85" cy="301.7" r="3.7"/><circle cx="1642.28" cy="285.62" r="3.7"/><circle cx="1481.6" cy="329.45" r="3.7"/><circle cx="1481.6" cy="313.7" r="3.7"/><circle cx="1404.6" cy="380.57" r="3.7"/><circle cx="1471.55" cy="400.38" r="3.7"/><circle cx="1421.34" cy="284.56" r="3.7"/><circle cx="1484.94" cy="376.94" r="3.7"/><circle cx="1558.59" cy="365.46" r="3.7"/><circle cx="1484.94" cy="389.28" r="3.7"/><circle cx="1431.38" cy="363.77" r="3.7"/><circle cx="1531.81" cy="370.4" r="3.7"/><circle cx="1565.28" cy="337.7" r="3.7"/><circle cx="1498.33" cy="320.96" r="3.7"/><circle cx="1478.25" cy="324.87" r="3.7"/><circle cx="1421.34" cy="378.76" r="3.7"/><circle cx="1598.76" cy="287.98" r="3.7"/><circle cx="1407.95" cy="413.67" r="3.7"/><circle cx="1478.25" cy="337.89" r="3.7"/><circle cx="1454.82" cy="351.79" r="3.7"/><circle cx="1588.71" cy="310.07" r="3.7"/><circle cx="1541.85" cy="308.2" r="3.7"/><circle cx="1417.99" cy="349.59" r="3.7"/><circle cx="1511.72" cy="324.84" r="3.7"/><circle cx="1448.12" cy="339.41" r="3.7"/><circle cx="1498.33" cy="350.76" r="3.7"/><circle cx="1417.99" cy="374.28" r="3.7"/><circle cx="1561.93" cy="324.35" r="3.7"/><circle cx="1501.68" cy="300.82" r="3.7"/><circle cx="1645.62" cy="264.84" r="3.7"/><circle cx="1505.03" cy="293.35" r="3.7"/><circle cx="1484.94" cy="315.04" r="3.7"/><circle cx="1628.88" cy="314.61" r="3.7"/><circle cx="1481.6" cy="319.09" r="3.7"/><circle cx="1488.29" cy="396.18" r="3.7"/><circle cx="1491.64" cy="323.42" r="3.7"/><circle cx="1618.84" cy="298" r="3.7"/><circle cx="1498.33" cy="353.37" r="3.7"/><circle cx="1511.72" cy="338.6" r="3.7"/><circle cx="1538.5" cy="262.85" r="3.7"/><circle cx="1498.33" cy="277.58" r="3.7"/><circle cx="1585.37" cy="284.64" r="3.7"/><circle cx="1625.54" cy="320.85" r="3.7"/><circle cx="1541.85" cy="299.17" r="3.7"/><circle cx="1505.03" cy="342.1" r="3.7"/><circle cx="1625.54" cy="303.7" r="3.7"/><circle cx="1565.28" cy="362.37" r="3.7"/><circle cx="1598.76" cy="286.59" r="3.7"/><circle cx="1421.34" cy="327.22" r="3.7"/><circle cx="1471.55" cy="291.42" r="3.7"/><circle cx="1525.11" cy="318.09" r="3.7"/><circle cx="1414.64" cy="299.72" r="3.7"/><circle cx="1535.15" cy="342.87" r="3.7"/><circle cx="1505.03" cy="331.94" r="3.7"/><circle cx="1341" cy="411.95" r="3.7"/><circle cx="1458.16" cy="359.94" r="3.7"/><circle cx="1518.42" cy="303.84" r="3.7"/><circle cx="1615.49" cy="288.33" r="3.7"/><circle cx="1618.84" cy="316.56" r="3.7"/><circle cx="1505.03" cy="302.56" r="3.7"/><circle cx="1525.11" cy="317.21" r="3.7"/><circle cx="1541.85" cy="273.98" r="3.7"/><circle cx="1434.73" cy="388.76" r="3.7"/><circle cx="1531.81" cy="322.16" r="3.7"/><circle cx="1515.07" cy="306.93" r="3.7"/><circle cx="1491.64" cy="372.99" r="3.7"/><circle cx="1414.64" cy="369.58" r="3.7"/><circle cx="1538.5" cy="385.64" r="3.7"/><circle cx="1545.2" cy="307.66" r="3.7"/><circle cx="1488.29" cy="348.69" r="3.7"/><circle cx="1381.17" cy="382.02" r="3.7"/><circle cx="1494.99" cy="278.5" r="3.7"/><circle cx="1448.12" cy="327.4" r="3.7"/><circle cx="1488.29" cy="311.22" r="3.7"/><circle cx="1555.24" cy="264.68" r="3.7"/><circle cx="1464.86" cy="338.92" r="3.7"/><circle cx="1434.73" cy="304.86" r="3.7"/><circle cx="1521.77" cy="281.38" r="3.7"/><circle cx="1458.16" cy="329.13" r="3.7"/><circle cx="1528.46" cy="322.36" r="3.7"/><circle cx="1471.55" cy="378.87" r="3.7"/><circle cx="1484.94" cy="326.64" r="3.7"/><circle cx="1628.88" cy="267.54" r="3.7"/><circle cx="1575.33" cy="318.26" r="3.7"/><circle cx="1454.82" cy="343.49" r="3.7"/><circle cx="1582.02" cy="317.6" r="3.7"/><circle cx="1561.93" cy="304.38" r="3.7"/><circle cx="1458.16" cy="333.94" r="3.7"/><circle cx="1531.81" cy="326.35" r="3.7"/><circle cx="1464.86" cy="314.82" r="3.7"/><circle cx="1528.46" cy="265.75" r="3.7"/><circle cx="1458.16" cy="345.96" r="3.7"/><circle cx="1458.16" cy="292.77" r="3.7"/><circle cx="1515.07" cy="271.51" r="3.7"/><circle cx="1558.59" cy="320.54" r="3.7"/><circle cx="1505.03" cy="294.77" r="3.7"/><circle cx="1528.46" cy="323.07" r="3.7"/><circle cx="1515.07" cy="319.05" r="3.7"/><circle cx="1592.06" cy="342.11" r="3.7"/><circle cx="1628.88" cy="300.94" r="3.7"/><circle cx="1578.67" cy="297.42" r="3.7"/><circle cx="1461.51" cy="324.1" r="3.7"/><circle cx="1541.85" cy="312.27" r="3.7"/><circle cx="1525.11" cy="323.18" r="3.7"/><circle cx="1511.72" cy="295.96" r="3.7"/><circle cx="1521.77" cy="349.4" r="3.7"/><circle cx="1441.42" cy="348.57" r="3.7"/><circle cx="1515.07" cy="295.17" r="3.7"/><circle cx="1555.24" cy="304.47" r="3.7"/><circle cx="1498.33" cy="337.4" r="3.7"/><circle cx="1615.49" cy="274.41" r="3.7"/><circle cx="1494.99" cy="395.4" r="3.7"/><circle cx="1478.25" cy="259.61" r="3.7"/><circle cx="1488.29" cy="283.75" r="3.7"/><circle cx="1494.99" cy="327.21" r="3.7"/><circle cx="1565.28" cy="330.5" r="3.7"/><circle cx="1538.5" cy="310.54" r="3.7"/><circle cx="1632.23" cy="319.99" r="3.7"/><circle cx="1494.99" cy="297.34" r="3.7"/><circle cx="1528.46" cy="326.12" r="3.7"/><circle cx="1488.29" cy="389.16" r="3.7"/><circle cx="1458.16" cy="362.38" r="3.7"/><circle cx="1431.38" cy="317.53" r="3.7"/><circle cx="1528.46" cy="269.14" r="3.7"/><circle cx="1511.72" cy="320.54" r="3.7"/><circle cx="1424.69" cy="285.3" r="3.7"/><circle cx="1541.85" cy="314.56" r="3.7"/><circle cx="1551.89" cy="290.5" r="3.7"/><circle cx="1458.16" cy="338" r="3.7"/><circle cx="1434.73" cy="388.23" r="3.7"/><circle cx="1545.2" cy="349.29" r="3.7"/><circle cx="1521.77" cy="341.57" r="3.7"/><circle cx="1431.38" cy="322.44" r="3.7"/><circle cx="1498.33" cy="305.62" r="3.7"/><circle cx="1551.89" cy="337.8" r="3.7"/><circle cx="1354.39" cy="334.07" r="3.7"/><circle cx="1508.38" cy="269.6" r="3.7"/><circle cx="1521.77" cy="320.86" r="3.7"/><circle cx="1541.85" cy="366.01" r="3.7"/><circle cx="1541.85" cy="306.3" r="3.7"/><circle cx="1545.2" cy="324.71" r="3.7"/><circle cx="1454.82" cy="339.48" r="3.7"/><circle cx="1521.77" cy="324.9" r="3.7"/><circle cx="1468.2" cy="355.13" r="3.7"/><circle cx="1521.77" cy="303.99" r="3.7"/><circle cx="1428.04" cy="386.04" r="3.7"/><circle cx="1548.55" cy="309.63" r="3.7"/><circle cx="1515.07" cy="298.15" r="3.7"/><circle cx="1518.42" cy="358.36" r="3.7"/><circle cx="1541.85" cy="294.43" r="3.7"/><circle cx="1481.6" cy="345.01" r="3.7"/><circle cx="1478.25" cy="365.6" r="3.7"/><circle cx="1448.12" cy="279.28" r="3.7"/><circle cx="1448.12" cy="361.92" r="3.7"/><circle cx="1622.19" cy="378.22" r="3.7"/><circle cx="1525.11" cy="272.06" r="3.7"/><circle cx="1618.84" cy="298.13" r="3.7"/><circle cx="1521.77" cy="348.34" r="3.7"/><circle cx="1464.86" cy="337.63" r="3.7"/><circle cx="1417.99" cy="378.85" r="3.7"/><circle cx="1565.28" cy="286.03" r="3.7"/><circle cx="1464.86" cy="342.55" r="3.7"/><circle cx="1367.78" cy="396.33" r="3.7"/><circle cx="1394.56" cy="372.35" r="3.7"/><circle cx="1505.03" cy="311.08" r="3.7"/><circle cx="1561.93" cy="314.68" r="3.7"/><circle cx="1548.55" cy="325.17" r="3.7"/><circle cx="1417.99" cy="404.13" r="3.7"/><circle cx="1505.03" cy="347.35" r="3.7"/><circle cx="1558.59" cy="357.25" r="3.7"/><circle cx="1508.38" cy="294.59" r="3.7"/><circle cx="1474.9" cy="326.68" r="3.7"/><circle cx="1478.25" cy="400.54" r="3.7"/><circle cx="1407.95" cy="389.48" r="3.7"/><circle cx="1511.72" cy="336.77" r="3.7"/><circle cx="1421.34" cy="376.58" r="3.7"/><circle cx="1431.38" cy="338.87" r="3.7"/><circle cx="1461.51" cy="371.73" r="3.7"/><circle cx="1575.33" cy="300.78" r="3.7"/><circle cx="1505.03" cy="274.33" r="3.7"/><circle cx="1461.51" cy="338.7" r="3.7"/><circle cx="1518.42" cy="311.26" r="3.7"/><circle cx="1548.55" cy="293.54" r="3.7"/><circle cx="1575.33" cy="295.96" r="3.7"/><circle cx="1484.94" cy="386.37" r="3.7"/><circle cx="1558.59" cy="297.73" r="3.7"/><circle cx="1525.11" cy="323.87" r="3.7"/><circle cx="1588.71" cy="305.94" r="3.7"/><circle cx="1618.84" cy="318.93" r="3.7"/><circle cx="1528.46" cy="386.36" r="3.7"/><circle cx="1441.42" cy="311.99" r="3.7"/><circle cx="1531.81" cy="331.26" r="3.7"/><circle cx="1538.5" cy="285.53" r="3.7"/><circle cx="1508.38" cy="301.82" r="3.7"/><circle cx="1491.64" cy="323.44" r="3.7"/><circle cx="1568.63" cy="247.1" r="3.7"/><circle cx="1525.11" cy="330.22" r="3.7"/><circle cx="1548.55" cy="286.63" r="3.7"/><circle cx="1424.69" cy="313.6" r="3.7"/><circle cx="1394.56" cy="406.23" r="3.7"/><circle cx="1575.33" cy="308.92" r="3.7"/><circle cx="1508.38" cy="347.92" r="3.7"/><circle cx="1448.12" cy="363.75" r="3.7"/><circle cx="1464.86" cy="335.28" r="3.7"/><circle cx="1598.76" cy="286.06" r="3.7"/><circle cx="1612.15" cy="284.02" r="3.7"/><circle cx="1505.03" cy="359.64" r="3.7"/><circle cx="1525.11" cy="303.97" r="3.7"/><circle cx="1528.46" cy="315.41" r="3.7"/><circle cx="1498.33" cy="306" r="3.7"/><circle cx="1528.46" cy="352.98" r="3.7"/><circle cx="1458.16" cy="370.09" r="3.7"/><circle cx="1451.47" cy="327.48" r="3.7"/><circle cx="1481.6" cy="298.7" r="3.7"/><circle cx="1541.85" cy="306.48" r="3.7"/><circle cx="1441.42" cy="309.48" r="3.7"/><circle cx="1501.68" cy="353.42" r="3.7"/><circle cx="1561.93" cy="263.28" r="3.7"/><circle cx="1461.51" cy="336.14" r="3.7"/><circle cx="1488.29" cy="351.04" r="3.7"/><circle cx="1518.42" cy="320.41" r="3.7"/><circle cx="1488.29" cy="316.46" r="3.7"/><circle cx="1484.94" cy="361.87" r="3.7"/><circle cx="1454.82" cy="339.59" r="3.7"/><circle cx="1464.86" cy="345.07" r="3.7"/><circle cx="1515.07" cy="312.5" r="3.7"/><circle cx="1679.1" cy="338.19" r="3.7"/><circle cx="1404.6" cy="360.33" r="3.7"/><circle cx="1501.68" cy="313.1" r="3.7"/><circle cx="1545.2" cy="305.45" r="3.7"/><circle cx="1458.16" cy="401.06" r="3.7"/><circle cx="1488.29" cy="293.54" r="3.7"/><circle cx="1511.72" cy="359.95" r="3.7"/><circle cx="1505.03" cy="329.84" r="3.7"/><circle cx="1505.03" cy="275.77" r="3.7"/><circle cx="1494.99" cy="357.1" r="3.7"/><circle cx="1478.25" cy="315.99" r="3.7"/><circle cx="1438.08" cy="389.58" r="3.7"/><circle cx="1558.59" cy="314.4" r="3.7"/><circle cx="1461.51" cy="400.96" r="3.7"/><circle cx="1484.94" cy="372.84" r="3.7"/><circle cx="1515.07" cy="280.92" r="3.7"/><circle cx="1525.11" cy="327.94" r="3.7"/><circle cx="1598.76" cy="259.22" r="3.7"/><circle cx="1505.03" cy="320.41" r="3.7"/><circle cx="1468.2" cy="381.1" r="3.7"/><circle cx="1494.99" cy="341.11" r="3.7"/><circle cx="1428.04" cy="317.22" r="3.7"/><circle cx="1511.72" cy="330.87" r="3.7"/><circle cx="1615.49" cy="338.55" r="3.7"/><circle cx="1505.03" cy="311.8" r="3.7"/><circle cx="1555.24" cy="356.24" r="3.7"/><circle cx="1531.81" cy="354.97" r="3.7"/><circle cx="1518.42" cy="313.11" r="3.7"/><circle cx="1511.72" cy="297.91" r="3.7"/><circle cx="1538.5" cy="310.85" r="3.7"/><circle cx="1484.94" cy="362.2" r="3.7"/><circle cx="1561.93" cy="317.43" r="3.7"/><circle cx="1484.94" cy="338.71" r="3.7"/><circle cx="1407.95" cy="349.26" r="3.7"/><circle cx="1478.25" cy="372.5" r="3.7"/><circle cx="1511.72" cy="333.91" r="3.7"/><circle cx="1498.33" cy="327.24" r="3.7"/><circle cx="1531.81" cy="351.98" r="3.7"/><circle cx="1501.68" cy="313.07" r="3.7"/><circle cx="1558.59" cy="298.15" r="3.7"/><circle cx="1458.16" cy="349.81" r="3.7"/><circle cx="1535.15" cy="329.96" r="3.7"/><circle cx="1498.33" cy="281.45" r="3.7"/><circle cx="1545.2" cy="302.23" r="3.7"/><circle cx="1417.99" cy="389.88" r="3.7"/><circle cx="1528.46" cy="262.59" r="3.7"/><circle cx="1558.59" cy="303.34" r="3.7"/><circle cx="1538.5" cy="343.88" r="3.7"/><circle cx="1494.99" cy="326.33" r="3.7"/><circle cx="1558.59" cy="308.42" r="3.7"/><circle cx="1401.26" cy="388.53" r="3.7"/><circle cx="1538.5" cy="289.01" r="3.7"/><circle cx="1428.04" cy="344.05" r="3.7"/><circle cx="1548.55" cy="325.56" r="3.7"/><circle cx="1481.6" cy="317.77" r="3.7"/><circle cx="1468.2" cy="355.63" r="3.7"/><circle cx="1582.02" cy="295.8" r="3.7"/><circle cx="1525.11" cy="336.07" r="3.7"/><circle cx="1558.59" cy="319.22" r="3.7"/><circle cx="1528.46" cy="319.5" r="3.7"/><circle cx="1471.55" cy="314.57" r="3.7"/><circle cx="1528.46" cy="303.74" r="3.7"/><circle cx="1407.95" cy="355.29" r="3.7"/><circle cx="1571.98" cy="299.37" r="3.7"/><circle cx="1551.89" cy="354.69" r="3.7"/><circle cx="1555.24" cy="353.8" r="3.7"/><circle cx="1494.99" cy="303.62" r="3.7"/><circle cx="1555.24" cy="314.24" r="3.7"/><circle cx="1454.82" cy="340.37" r="3.7"/><circle cx="1585.37" cy="298.14" r="3.7"/><circle cx="1407.95" cy="388.58" r="3.7"/><circle cx="1421.34" cy="379.89" r="3.7"/><circle cx="1571.98" cy="354.43" r="3.7"/><circle cx="1545.2" cy="328.11" r="3.7"/><circle cx="1464.86" cy="383.12" r="3.7"/><circle cx="1518.42" cy="353.29" r="3.7"/><circle cx="1381.17" cy="411.57" r="3.7"/><circle cx="1505.03" cy="343.65" r="3.7"/><circle cx="1488.29" cy="297.74" r="3.7"/><circle cx="1471.55" cy="372.94" r="3.7"/><circle cx="1464.86" cy="385.71" r="3.7"/><circle cx="1491.64" cy="362.28" r="3.7"/><circle cx="1488.29" cy="320.73" r="3.7"/><circle cx="1582.02" cy="304.62" r="3.7"/><circle cx="1468.2" cy="346.88" r="3.7"/><circle cx="1511.72" cy="327.78" r="3.7"/><circle cx="1501.68" cy="369.05" r="3.7"/><circle cx="1538.5" cy="316.02" r="3.7"/><circle cx="1538.5" cy="279.07" r="3.7"/><circle cx="1471.55" cy="329.09" r="3.7"/><circle cx="1441.42" cy="316.98" r="3.7"/><circle cx="1568.63" cy="331.08" r="3.7"/><circle cx="1448.12" cy="338.35" r="3.7"/><circle cx="1642.28" cy="335.3" r="3.7"/><circle cx="1414.64" cy="391.61" r="3.7"/><circle cx="1505.03" cy="285.15" r="3.7"/><circle cx="1571.98" cy="293.28" r="3.7"/><circle cx="1461.51" cy="344.42" r="3.7"/><circle cx="1555.24" cy="261.41" r="3.7"/><circle cx="1498.33" cy="327.79" r="3.7"/><circle cx="1545.2" cy="351.47" r="3.7"/><circle cx="1531.81" cy="362.12" r="3.7"/><circle cx="1595.41" cy="249.74" r="3.7"/><circle cx="1535.15" cy="311.58" r="3.7"/><circle cx="1464.86" cy="345.64" r="3.7"/><circle cx="1699.18" cy="308.06" r="3.7"/><circle cx="1494.99" cy="315.65" r="3.7"/><circle cx="1508.38" cy="272.18" r="3.7"/><circle cx="1568.63" cy="253.81" r="3.7"/><circle cx="1555.24" cy="254.28" r="3.7"/><circle cx="1511.72" cy="368.4" r="3.7"/><circle cx="1521.77" cy="376.95" r="3.7"/><circle cx="1471.55" cy="374.11" r="3.7"/><circle cx="1387.87" cy="354.71" r="3.7"/><circle cx="1491.64" cy="308.76" r="3.7"/><circle cx="1478.25" cy="335.49" r="3.7"/><circle cx="1538.5" cy="285.86" r="3.7"/><circle cx="1622.19" cy="281.73" r="3.7"/><circle cx="1441.42" cy="383.29" r="3.7"/><circle cx="1568.63" cy="336.56" r="3.7"/><circle cx="1434.73" cy="392.58" r="3.7"/><circle cx="1441.42" cy="395.47" r="3.7"/><circle cx="1638.93" cy="364.24" r="3.7"/><circle cx="1508.38" cy="333.47" r="3.7"/><circle cx="1417.99" cy="346" r="3.7"/><circle cx="1454.82" cy="398.88" r="3.7"/><circle cx="1481.6" cy="364.22" r="3.7"/><circle cx="1521.77" cy="308.22" r="3.7"/><circle cx="1454.82" cy="376.81" r="3.7"/><circle cx="1535.15" cy="398.35" r="3.7"/><circle cx="1491.64" cy="323.9" r="3.7"/><circle cx="1448.12" cy="362.62" r="3.7"/><circle cx="1568.63" cy="306.28" r="3.7"/><circle cx="1481.6" cy="305.76" r="3.7"/><circle cx="1448.12" cy="351.28" r="3.7"/><circle cx="1501.68" cy="290.41" r="3.7"/><circle cx="1458.16" cy="329" r="3.7"/><circle cx="1374.47" cy="416.44" r="3.7"/><circle cx="1444.77" cy="389.96" r="3.7"/><circle cx="1448.12" cy="367.12" r="3.7"/><circle cx="1441.42" cy="337.89" r="3.7"/><circle cx="1518.42" cy="310.85" r="3.7"/><circle cx="1575.33" cy="328.91" r="3.7"/><circle cx="1481.6" cy="358.4" r="3.7"/><circle cx="1521.77" cy="364.98" r="3.7"/><circle cx="1394.56" cy="383.57" r="3.7"/><circle cx="1491.64" cy="316.21" r="3.7"/><circle cx="1428.04" cy="364.88" r="3.7"/><circle cx="1498.33" cy="389.12" r="3.7"/><circle cx="1424.69" cy="392.87" r="3.7"/><circle cx="1505.03" cy="339.2" r="3.7"/><circle cx="1464.86" cy="339.08" r="3.7"/><circle cx="1498.33" cy="270.99" r="3.7"/><circle cx="1598.76" cy="292.02" r="3.7"/><circle cx="1474.9" cy="341.54" r="3.7"/><circle cx="1454.82" cy="343.19" r="3.7"/><circle cx="1515.07" cy="336.19" r="3.7"/><circle cx="1387.87" cy="341.36" r="3.7"/><circle cx="1538.5" cy="382.91" r="3.7"/><circle cx="1528.46" cy="270.11" r="3.7"/><circle cx="1699.18" cy="290.59" r="3.7"/><circle cx="1505.03" cy="337.56" r="3.7"/><circle cx="1491.64" cy="349.38" r="3.7"/><circle cx="1478.25" cy="335.03" r="3.7"/><circle cx="1441.42" cy="368.43" r="3.7"/><circle cx="1558.59" cy="266.61" r="3.7"/><circle cx="1448.12" cy="384.34" r="3.7"/><circle cx="1421.34" cy="327.84" r="3.7"/><circle cx="1511.72" cy="362.44" r="3.7"/><circle cx="1638.93" cy="268.32" r="3.7"/><circle cx="1521.77" cy="344.4" r="3.7"/><circle cx="1602.11" cy="310.61" r="3.7"/><circle cx="1474.9" cy="306.92" r="3.7"/><circle cx="1434.73" cy="324.15" r="3.7"/><circle cx="1578.67" cy="340.24" r="3.7"/><circle cx="1541.85" cy="312.46" r="3.7"/><circle cx="1407.95" cy="399" r="3.7"/><circle cx="1602.11" cy="287.21" r="3.7"/><circle cx="1545.2" cy="341.73" r="3.7"/><circle cx="1558.59" cy="354.6" r="3.7"/><circle cx="1541.85" cy="327.31" r="3.7"/><circle cx="1401.26" cy="390.84" r="3.7"/><circle cx="1498.33" cy="399.64" r="3.7"/><circle cx="1428.04" cy="388.71" r="3.7"/><circle cx="1508.38" cy="302.31" r="3.7"/><circle cx="1511.72" cy="356.58" r="3.7"/><circle cx="1531.81" cy="365.81" r="3.7"/><circle cx="1391.21" cy="408.46" r="3.7"/><circle cx="1431.38" cy="363.15" r="3.7"/><circle cx="1511.72" cy="305.14" r="3.7"/><circle cx="1481.6" cy="362.47" r="3.7"/><circle cx="1441.42" cy="332.21" r="3.7"/><circle cx="1682.45" cy="266.91" r="3.7"/><circle cx="1558.59" cy="283.03" r="3.7"/><circle cx="1538.5" cy="279.58" r="3.7"/><circle cx="1484.94" cy="334.27" r="3.7"/><circle cx="1612.15" cy="304.76" r="3.7"/><circle cx="1454.82" cy="356.74" r="3.7"/><circle cx="1374.47" cy="351.18" r="3.7"/><circle cx="1558.59" cy="381.47" r="3.7"/><circle cx="1535.15" cy="310.32" r="3.7"/><circle cx="1511.72" cy="318.75" r="3.7"/><circle cx="1538.5" cy="338.58" r="3.7"/><circle cx="1515.07" cy="328.49" r="3.7"/><circle cx="1474.9" cy="327.86" r="3.7"/><circle cx="1494.99" cy="290.36" r="3.7"/><circle cx="1578.67" cy="318.78" r="3.7"/><circle cx="1464.86" cy="336.3" r="3.7"/><circle cx="1538.5" cy="315.07" r="3.7"/><circle cx="1494.99" cy="301.3" r="3.7"/><circle cx="1585.37" cy="338.26" r="3.7"/><circle cx="1518.42" cy="368.23" r="3.7"/><circle cx="1515.07" cy="323.45" r="3.7"/><circle cx="1501.68" cy="399.94" r="3.7"/><circle cx="1474.9" cy="298.07" r="3.7"/><circle cx="1535.15" cy="298.48" r="3.7"/><circle cx="1541.85" cy="288.02" r="3.7"/><circle cx="1498.33" cy="311.62" r="3.7"/><circle cx="1585.37" cy="301.44" r="3.7"/><circle cx="1622.19" cy="284.56" r="3.7"/><circle cx="1602.11" cy="327.25" r="3.7"/><circle cx="1535.15" cy="289.48" r="3.7"/><circle cx="1595.41" cy="329.08" r="3.7"/><circle cx="1448.12" cy="341.98" r="3.7"/><circle cx="1417.99" cy="358.83" r="3.7"/><circle cx="1501.68" cy="317.08" r="3.7"/><circle cx="1468.2" cy="346.08" r="3.7"/><circle cx="1491.64" cy="299.65" r="3.7"/><circle cx="1481.6" cy="276.6" r="3.7"/><circle cx="1528.46" cy="286.63" r="3.7"/><circle cx="1518.42" cy="329.9" r="3.7"/><circle cx="1608.8" cy="278.55" r="3.7"/><circle cx="1511.72" cy="289.83" r="3.7"/><circle cx="1494.99" cy="309.29" r="3.7"/><circle cx="1699.18" cy="300.82" r="3.7"/><circle cx="1535.15" cy="300.58" r="3.7"/><circle cx="1582.02" cy="288.43" r="3.7"/><circle cx="1508.38" cy="325.68" r="3.7"/><circle cx="1662.36" cy="278.87" r="3.7"/><circle cx="1434.73" cy="418.8" r="3.7"/><circle cx="1545.2" cy="327.21" r="3.7"/><circle cx="1481.6" cy="328.54" r="3.7"/><circle cx="1407.95" cy="358.27" r="3.7"/><circle cx="1508.38" cy="349.46" r="3.7"/><circle cx="1498.33" cy="365.19" r="3.7"/><circle cx="1438.08" cy="372.98" r="3.7"/><circle cx="1478.25" cy="339.35" r="3.7"/><circle cx="1438.08" cy="302.54" r="3.7"/><circle cx="1531.81" cy="282.93" r="3.7"/><circle cx="1401.26" cy="305.73" r="3.7"/><circle cx="1508.38" cy="308.21" r="3.7"/><circle cx="1464.86" cy="327.68" r="3.7"/><circle cx="1448.12" cy="378.65" r="3.7"/><circle cx="1598.76" cy="307.15" r="3.7"/><circle cx="1468.2" cy="341.96" r="3.7"/><circle cx="1541.85" cy="368.83" r="3.7"/><circle cx="1481.6" cy="363.88" r="3.7"/><circle cx="1605.45" cy="278.52" r="3.7"/><circle cx="1428.04" cy="358.8" r="3.7"/><circle cx="1484.94" cy="334.96" r="3.7"/><circle cx="1501.68" cy="308.2" r="3.7"/><circle cx="1494.99" cy="273.33" r="3.7"/><circle cx="1568.63" cy="281.09" r="3.7"/><circle cx="1571.98" cy="302.98" r="3.7"/><circle cx="1407.95" cy="376.63" r="3.7"/><circle cx="1558.59" cy="345.47" r="3.7"/><circle cx="1545.2" cy="287.17" r="3.7"/><circle cx="1491.64" cy="315.69" r="3.7"/><circle cx="1545.2" cy="281.04" r="3.7"/><circle cx="1541.85" cy="280.79" r="3.7"/><circle cx="1551.89" cy="261.79" r="3.7"/><circle cx="1451.47" cy="327.98" r="3.7"/><circle cx="1441.42" cy="358.41" r="3.7"/><circle cx="1505.03" cy="353.64" r="3.7"/><circle cx="1464.86" cy="313.86" r="3.7"/><circle cx="1538.5" cy="377.73" r="3.7"/><circle cx="1508.38" cy="333.26" r="3.7"/><circle cx="1625.54" cy="318.8" r="3.7"/><circle cx="1424.69" cy="341.24" r="3.7"/><circle cx="1474.9" cy="339.41" r="3.7"/><circle cx="1484.94" cy="333.7" r="3.7"/><circle cx="1592.06" cy="314.2" r="3.7"/><circle cx="1428.04" cy="401.44" r="3.7"/><circle cx="1508.38" cy="330.32" r="3.7"/><circle cx="1488.29" cy="286.33" r="3.7"/><circle cx="1371.13" cy="404.04" r="3.7"/><circle cx="1494.99" cy="292.68" r="3.7"/><circle cx="1541.85" cy="320.39" r="3.7"/><circle cx="1478.25" cy="348.37" r="3.7"/><circle cx="1561.93" cy="319.32" r="3.7"/><circle cx="1428.04" cy="352.07" r="3.7"/><circle cx="1518.42" cy="309.85" r="3.7"/><circle cx="1458.16" cy="331.32" r="3.7"/><circle cx="1558.59" cy="289.66" r="3.7"/><circle cx="1438.08" cy="380.49" r="3.7"/><circle cx="1525.11" cy="272.83" r="3.7"/><circle cx="1421.34" cy="375.81" r="3.7"/><circle cx="1481.6" cy="313.53" r="3.7"/><circle cx="1441.42" cy="355.83" r="3.7"/><circle cx="1548.55" cy="309.44" r="3.7"/><circle cx="1501.68" cy="288.4" r="3.7"/><circle cx="1461.51" cy="255.1" r="3.7"/><circle cx="1501.68" cy="345.23" r="3.7"/><circle cx="1538.5" cy="337.82" r="3.7"/><circle cx="1451.47" cy="327.22" r="3.7"/><circle cx="1528.46" cy="303.73" r="3.7"/><circle cx="1494.99" cy="347.55" r="3.7"/><circle cx="1444.77" cy="315.07" r="3.7"/><circle cx="1558.59" cy="355.88" r="3.7"/><circle cx="1491.64" cy="381.49" r="3.7"/><circle cx="1397.91" cy="365.86" r="3.7"/><circle cx="1521.77" cy="328.22" r="3.7"/><circle cx="1592.06" cy="302.74" r="3.7"/><circle cx="1351.04" cy="392.54" r="3.7"/><circle cx="1411.3" cy="341.7" r="3.7"/><circle cx="1454.82" cy="365.66" r="3.7"/><circle cx="1407.95" cy="356.94" r="3.7"/><circle cx="1441.42" cy="328.73" r="3.7"/><circle cx="1451.47" cy="300.1" r="3.7"/><circle cx="1434.73" cy="356.65" r="3.7"/><circle cx="1484.94" cy="317.33" r="3.7"/><circle cx="1474.9" cy="343.63" r="3.7"/><circle cx="1448.12" cy="297.44" r="3.7"/><circle cx="1535.15" cy="320.47" r="3.7"/><circle cx="1505.03" cy="328.56" r="3.7"/><circle cx="1434.73" cy="371.01" r="3.7"/><circle cx="1508.38" cy="362.65" r="3.7"/><circle cx="1428.04" cy="364.05" r="3.7"/><circle cx="1454.82" cy="328.5" r="3.7"/><circle cx="1414.64" cy="306.55" r="3.7"/><circle cx="1471.55" cy="341.02" r="3.7"/><circle cx="1438.08" cy="332.16" r="3.7"/><circle cx="1602.11" cy="356.72" r="3.7"/><circle cx="1421.34" cy="347.51" r="3.7"/><circle cx="1458.16" cy="313.94" r="3.7"/><circle cx="1521.77" cy="296.49" r="3.7"/><circle cx="1528.46" cy="350.24" r="3.7"/><circle cx="1565.28" cy="337.59" r="3.7"/><circle cx="1615.49" cy="304.74" r="3.7"/><circle cx="1521.77" cy="298.95" r="3.7"/><circle cx="1461.51" cy="344.3" r="3.7"/><circle cx="1444.77" cy="382.25" r="3.7"/><circle cx="1578.67" cy="308.15" r="3.7"/><circle cx="1411.3" cy="339.65" r="3.7"/><circle cx="1494.99" cy="332.37" r="3.7"/><circle cx="1538.5" cy="348.02" r="3.7"/><circle cx="1518.42" cy="287.3" r="3.7"/><circle cx="1488.29" cy="288.28" r="3.7"/><circle cx="1571.98" cy="308.31" r="3.7"/><circle cx="1521.77" cy="307.68" r="3.7"/><circle cx="1518.42" cy="312.53" r="3.7"/><circle cx="1391.21" cy="385.16" r="3.7"/><circle cx="1505.03" cy="336.46" r="3.7"/><circle cx="1501.68" cy="354.23" r="3.7"/><circle cx="1474.9" cy="322.33" r="3.7"/><circle cx="1595.41" cy="264.78" r="3.7"/><circle cx="1461.51" cy="316.45" r="3.7"/><circle cx="1608.8" cy="279.59" r="3.7"/><circle cx="1555.24" cy="318.72" r="3.7"/><circle cx="1498.33" cy="319.42" r="3.7"/><circle cx="1528.46" cy="338.7" r="3.7"/><circle cx="1515.07" cy="346.38" r="3.7"/><circle cx="1561.93" cy="318.21" r="3.7"/><circle cx="1498.33" cy="298.18" r="3.7"/><circle cx="1505.03" cy="300.23" r="3.7"/><circle cx="1394.56" cy="370.33" r="3.7"/><circle cx="1521.77" cy="294.45" r="3.7"/><circle cx="1541.85" cy="317.24" r="3.7"/><circle cx="1548.55" cy="286.55" r="3.7"/><circle cx="1478.25" cy="329.51" r="3.7"/><circle cx="1521.77" cy="345.4" r="3.7"/><circle cx="1515.07" cy="299.16" r="3.7"/><circle cx="1578.67" cy="296.58" r="3.7"/><circle cx="1545.2" cy="272.33" r="3.7"/><circle cx="1484.94" cy="275.76" r="3.7"/><circle cx="1394.56" cy="355.32" r="3.7"/><circle cx="1525.11" cy="294.76" r="3.7"/><circle cx="1394.56" cy="321.65" r="3.7"/><circle cx="1561.93" cy="320.32" r="3.7"/><circle cx="1468.2" cy="335.68" r="3.7"/><circle cx="1488.29" cy="266.71" r="3.7"/><circle cx="1468.2" cy="323.44" r="3.7"/><circle cx="1525.11" cy="258.35" r="3.7"/><circle cx="1424.69" cy="364.77" r="3.7"/><circle cx="1505.03" cy="356.1" r="3.7"/><circle cx="1451.47" cy="359.5" r="3.7"/><circle cx="1528.46" cy="307.76" r="3.7"/><circle cx="1461.51" cy="302.93" r="3.7"/><circle cx="1448.12" cy="361.24" r="3.7"/><circle cx="1491.64" cy="320.23" r="3.7"/><circle cx="1501.68" cy="311.65" r="3.7"/><circle cx="1484.94" cy="302.99" r="3.7"/><circle cx="1515.07" cy="385.19" r="3.7"/><circle cx="1528.46" cy="299.4" r="3.7"/><circle cx="1461.51" cy="384.59" r="3.7"/><circle cx="1424.69" cy="338.15" r="3.7"/><circle cx="1498.33" cy="269.25" r="3.7"/><circle cx="1471.55" cy="352.86" r="3.7"/><circle cx="1575.33" cy="333.03" r="3.7"/><circle cx="1511.72" cy="321.52" r="3.7"/><circle cx="1511.72" cy="299.05" r="3.7"/><circle cx="1545.2" cy="305.69" r="3.7"/><circle cx="1541.85" cy="259.72" r="3.7"/><circle cx="1488.29" cy="355.27" r="3.7"/><circle cx="1608.8" cy="274.5" r="3.7"/><circle cx="1411.3" cy="310.18" r="3.7"/><circle cx="1525.11" cy="296.89" r="3.7"/><circle cx="1508.38" cy="319.53" r="3.7"/><circle cx="1458.16" cy="345.37" r="3.7"/><circle cx="1471.55" cy="378.73" r="3.7"/><circle cx="1555.24" cy="313.02" r="3.7"/><circle cx="1521.77" cy="382.87" r="3.7"/><circle cx="1558.59" cy="313.99" r="3.7"/><circle cx="1391.21" cy="386.92" r="3.7"/><circle cx="1501.68" cy="360.45" r="3.7"/><circle cx="1525.11" cy="282.72" r="3.7"/><circle cx="1565.28" cy="324.96" r="3.7"/><circle cx="1454.82" cy="369.31" r="3.7"/><circle cx="1484.94" cy="353.3" r="3.7"/><circle cx="1541.85" cy="318.89" r="3.7"/><circle cx="1525.11" cy="329.67" r="3.7"/><circle cx="1461.51" cy="376.81" r="3.7"/><circle cx="1491.64" cy="346.45" r="3.7"/><circle cx="1535.15" cy="290.37" r="3.7"/><circle cx="1555.24" cy="295" r="3.7"/><circle cx="1431.38" cy="336.29" r="3.7"/><circle cx="1571.98" cy="358.29" r="3.7"/><circle cx="1518.42" cy="302.22" r="3.7"/><circle cx="1528.46" cy="314.69" r="3.7"/><circle cx="1515.07" cy="306.95" r="3.7"/><circle cx="1578.67" cy="285.85" r="3.7"/><circle cx="1528.46" cy="329.73" r="3.7"/><circle cx="1508.38" cy="282.86" r="3.7"/><circle cx="1541.85" cy="326.27" r="3.7"/><circle cx="1484.94" cy="351.72" r="3.7"/><circle cx="1511.72" cy="255" r="3.7"/><circle cx="1501.68" cy="377.22" r="3.7"/><circle cx="1401.26" cy="372.92" r="3.7"/><circle cx="1538.5" cy="261.84" r="3.7"/><circle cx="1515.07" cy="328.14" r="3.7"/><circle cx="1531.81" cy="276.73" r="3.7"/><circle cx="1387.87" cy="366.13" r="3.7"/><circle cx="1391.21" cy="386.19" r="3.7"/><circle cx="1528.46" cy="330.15" r="3.7"/><circle cx="1545.2" cy="351.55" r="3.7"/><circle cx="1575.33" cy="268.68" r="3.7"/><circle cx="1515.07" cy="302.16" r="3.7"/><circle cx="1414.64" cy="332.85" r="3.7"/><circle cx="1474.9" cy="322.97" r="3.7"/><circle cx="1535.15" cy="274.2" r="3.7"/><circle cx="1538.5" cy="389.93" r="3.7"/><circle cx="1548.55" cy="279.63" r="3.7"/><circle cx="1511.72" cy="324.11" r="3.7"/><circle cx="1491.64" cy="297.94" r="3.7"/><circle cx="1417.99" cy="374.25" r="3.7"/><circle cx="1578.67" cy="330.97" r="3.7"/><circle cx="1521.77" cy="348.9" r="3.7"/><circle cx="1404.6" cy="358.11" r="3.7"/><circle cx="1538.5" cy="340.08" r="3.7"/><circle cx="1474.9" cy="313.84" r="3.7"/><circle cx="1521.77" cy="254.07" r="3.7"/><circle cx="1474.9" cy="259.85" r="3.7"/><circle cx="1474.9" cy="333.13" r="3.7"/><circle cx="1478.25" cy="355.87" r="3.7"/><circle cx="1464.86" cy="308.5" r="3.7"/><circle cx="1478.25" cy="344.53" r="3.7"/><circle cx="1545.2" cy="292.62" r="3.7"/><circle cx="1501.68" cy="339.63" r="3.7"/><circle cx="1505.03" cy="354.21" r="3.7"/><circle cx="1551.89" cy="349.85" r="3.7"/><circle cx="1481.6" cy="320.16" r="3.7"/><circle cx="1521.77" cy="334.34" r="3.7"/><circle cx="1488.29" cy="332.58" r="3.7"/><circle cx="1521.77" cy="320.4" r="3.7"/><circle cx="1561.93" cy="303.43" r="3.7"/><circle cx="1568.63" cy="348.86" r="3.7"/><circle cx="1491.64" cy="341.09" r="3.7"/><circle cx="1508.38" cy="299.59" r="3.7"/><circle cx="1441.42" cy="352.82" r="3.7"/><circle cx="1468.2" cy="342.96" r="3.7"/><circle cx="1471.55" cy="353.43" r="3.7"/><circle cx="1518.42" cy="370.12" r="3.7"/><circle cx="1458.16" cy="343.6" r="3.7"/><circle cx="1478.25" cy="339.68" r="3.7"/><circle cx="1505.03" cy="320.23" r="3.7"/><circle cx="1541.85" cy="370.12" r="3.7"/><circle cx="1548.55" cy="284.2" r="3.7"/><circle cx="1444.77" cy="339.06" r="3.7"/><circle cx="1471.55" cy="367.09" r="3.7"/><circle cx="1578.67" cy="299.26" r="3.7"/><circle cx="1471.55" cy="344.77" r="3.7"/><circle cx="1357.74" cy="350.82" r="3.7"/><circle cx="1518.42" cy="373.95" r="3.7"/><circle cx="1464.86" cy="301.06" r="3.7"/><circle cx="1458.16" cy="333.66" r="3.7"/><circle cx="1555.24" cy="323.56" r="3.7"/><circle cx="1481.6" cy="292.4" r="3.7"/><circle cx="1561.93" cy="333.21" r="3.7"/><circle cx="1481.6" cy="347.26" r="3.7"/><circle cx="1518.42" cy="366.8" r="3.7"/><circle cx="1474.9" cy="332.33" r="3.7"/><circle cx="1494.99" cy="308.74" r="3.7"/><circle cx="1551.89" cy="308.44" r="3.7"/><circle cx="1481.6" cy="315.49" r="3.7"/><circle cx="1417.99" cy="382.68" r="3.7"/><circle cx="1501.68" cy="376.22" r="3.7"/><circle cx="1568.63" cy="283.81" r="3.7"/><circle cx="1518.42" cy="289.13" r="3.7"/><circle cx="1448.12" cy="336.2" r="3.7"/><circle cx="1545.2" cy="339.03" r="3.7"/><circle cx="1471.55" cy="298.5" r="3.7"/><circle cx="1498.33" cy="294.9" r="3.7"/><circle cx="1505.03" cy="309.65" r="3.7"/><circle cx="1505.03" cy="329.65" r="3.7"/><circle cx="1541.85" cy="315.73" r="3.7"/><circle cx="1448.12" cy="399.07" r="3.7"/><circle cx="1461.51" cy="337.1" r="3.7"/><circle cx="1417.99" cy="381.13" r="3.7"/><circle cx="1531.81" cy="265.88" r="3.7"/><circle cx="1401.26" cy="390.04" r="3.7"/><circle cx="1588.71" cy="348.19" r="3.7"/><circle cx="1491.64" cy="360.77" r="3.7"/><circle cx="1478.25" cy="350.06" r="3.7"/><circle cx="1538.5" cy="343.07" r="3.7"/><circle cx="1501.68" cy="324.69" r="3.7"/><circle cx="1548.55" cy="249.61" r="3.7"/><circle cx="1501.68" cy="364.84" r="3.7"/><circle cx="1521.77" cy="314.52" r="3.7"/><circle cx="1515.07" cy="340.24" r="3.7"/><circle cx="1582.02" cy="280.04" r="3.7"/><circle cx="1478.25" cy="346.79" r="3.7"/><circle cx="1484.94" cy="412.87" r="3.7"/><circle cx="1414.64" cy="361.57" r="3.7"/><circle cx="1438.08" cy="322.97" r="3.7"/><circle cx="1525.11" cy="322.66" r="3.7"/><circle cx="1538.5" cy="301.56" r="3.7"/><circle cx="1535.15" cy="309.04" r="3.7"/><circle cx="1551.89" cy="359.88" r="3.7"/><circle cx="1428.04" cy="343.61" r="3.7"/><circle cx="1585.37" cy="315.33" r="3.7"/><circle cx="1481.6" cy="314.86" r="3.7"/><circle cx="1461.51" cy="329.29" r="3.7"/><circle cx="1561.93" cy="353.56" r="3.7"/><circle cx="1397.91" cy="397.84" r="3.7"/><circle cx="1582.02" cy="344.14" r="3.7"/><circle cx="1545.2" cy="282.48" r="3.7"/><circle cx="1518.42" cy="340.68" r="3.7"/><circle cx="1461.51" cy="363" r="3.7"/><circle cx="1471.55" cy="269.24" r="3.7"/><circle cx="1508.38" cy="314.57" r="3.7"/><circle cx="1494.99" cy="334.27" r="3.7"/><circle cx="1448.12" cy="340.76" r="3.7"/><circle cx="1521.77" cy="272.56" r="3.7"/><circle cx="1551.89" cy="350.66" r="3.7"/><circle cx="1478.25" cy="358.81" r="3.7"/><circle cx="1431.38" cy="359.7" r="3.7"/><circle cx="1451.47" cy="344.16" r="3.7"/><circle cx="1397.91" cy="362.24" r="3.7"/><circle cx="1341" cy="404.1" r="3.7"/><circle cx="1565.28" cy="305.93" r="3.7"/><circle cx="1501.68" cy="357.02" r="3.7"/><circle cx="1414.64" cy="344.51" r="3.7"/><circle cx="1494.99" cy="323.67" r="3.7"/><circle cx="1505.03" cy="292.54" r="3.7"/><circle cx="1521.77" cy="289.87" r="3.7"/><circle cx="1618.84" cy="289.24" r="3.7"/><circle cx="1525.11" cy="302.78" r="3.7"/><circle cx="1481.6" cy="330.72" r="3.7"/><circle cx="1454.82" cy="390.54" r="3.7"/><circle cx="1498.33" cy="317.99" r="3.7"/><circle cx="1438.08" cy="343.08" r="3.7"/><circle cx="1481.6" cy="294.26" r="3.7"/><circle cx="1528.46" cy="310.53" r="3.7"/><circle cx="1481.6" cy="392.76" r="3.7"/><circle cx="1565.28" cy="323.96" r="3.7"/><circle cx="1468.2" cy="342.96" r="3.7"/><circle cx="1558.59" cy="294.87" r="3.7"/><circle cx="1588.71" cy="334.28" r="3.7"/><circle cx="1672.4" cy="312.87" r="3.7"/><circle cx="1481.6" cy="318.26" r="3.7"/><circle cx="1464.86" cy="331.03" r="3.7"/><circle cx="1454.82" cy="411.23" r="3.7"/><circle cx="1508.38" cy="341.9" r="3.7"/><circle cx="1428.04" cy="415.78" r="3.7"/><circle cx="1441.42" cy="331.92" r="3.7"/><circle cx="1461.51" cy="330.99" r="3.7"/><circle cx="1468.2" cy="314.68" r="3.7"/><circle cx="1494.99" cy="266.43" r="3.7"/><circle cx="1662.36" cy="306.63" r="3.7"/><circle cx="1494.99" cy="343.67" r="3.7"/><circle cx="1484.94" cy="345.67" r="3.7"/><circle cx="1575.33" cy="330.85" r="3.7"/><circle cx="1511.72" cy="324.73" r="3.7"/><circle cx="1518.42" cy="366.53" r="3.7"/><circle cx="1454.82" cy="347.63" r="3.7"/><circle cx="1505.03" cy="322.4" r="3.7"/><circle cx="1448.12" cy="292.69" r="3.7"/><circle cx="1464.86" cy="340.75" r="3.7"/><circle cx="1535.15" cy="273.11" r="3.7"/><circle cx="1491.64" cy="367.09" r="3.7"/><circle cx="1454.82" cy="318.4" r="3.7"/><circle cx="1474.9" cy="319.87" r="3.7"/><circle cx="1565.28" cy="342.02" r="3.7"/><circle cx="1515.07" cy="300.93" r="3.7"/><circle cx="1561.93" cy="299.5" r="3.7"/><circle cx="1628.88" cy="316.74" r="3.7"/><circle cx="1421.34" cy="408.01" r="3.7"/><circle cx="1471.55" cy="304.53" r="3.7"/><circle cx="1431.38" cy="371.66" r="3.7"/><circle cx="1551.89" cy="333.95" r="3.7"/><circle cx="1531.81" cy="248.06" r="3.7"/><circle cx="1571.98" cy="351.46" r="3.7"/><circle cx="1494.99" cy="287.74" r="3.7"/><circle cx="1498.33" cy="308.26" r="3.7"/><circle cx="1551.89" cy="355.75" r="3.7"/><circle cx="1578.67" cy="292" r="3.7"/><circle cx="1451.47" cy="379.33" r="3.7"/><circle cx="1498.33" cy="328.85" r="3.7"/><circle cx="1538.5" cy="343.09" r="3.7"/><circle cx="1538.5" cy="314.68" r="3.7"/><circle cx="1494.99" cy="359.72" r="3.7"/><circle cx="1441.42" cy="330.24" r="3.7"/><circle cx="1474.9" cy="361.43" r="3.7"/><circle cx="1458.16" cy="351.15" r="3.7"/><circle cx="1484.94" cy="266.73" r="3.7"/><circle cx="1484.94" cy="370.16" r="3.7"/><circle cx="1501.68" cy="310.7" r="3.7"/><circle cx="1428.04" cy="366.71" r="3.7"/><circle cx="1511.72" cy="344.59" r="3.7"/><circle cx="1525.11" cy="349.46" r="3.7"/><circle cx="1551.89" cy="368.41" r="3.7"/><circle cx="1551.89" cy="302.94" r="3.7"/><circle cx="1508.38" cy="339.25" r="3.7"/><circle cx="1494.99" cy="315.56" r="3.7"/><circle cx="1518.42" cy="356.43" r="3.7"/><circle cx="1545.2" cy="295.99" r="3.7"/><circle cx="1474.9" cy="368.68" r="3.7"/><circle cx="1525.11" cy="368.17" r="3.7"/><circle cx="1474.9" cy="363.71" r="3.7"/><circle cx="1501.68" cy="297.98" r="3.7"/><circle cx="1488.29" cy="328.34" r="3.7"/><circle cx="1478.25" cy="340.49" r="3.7"/><circle cx="1488.29" cy="356.36" r="3.7"/><circle cx="1501.68" cy="269.36" r="3.7"/><circle cx="1421.34" cy="409.05" r="3.7"/><circle cx="1407.95" cy="344.55" r="3.7"/><circle cx="1484.94" cy="326.88" r="3.7"/><circle cx="1434.73" cy="320.87" r="3.7"/><circle cx="1428.04" cy="335.77" r="3.7"/><circle cx="1461.51" cy="319.5" r="3.7"/><circle cx="1528.46" cy="326.71" r="3.7"/><circle cx="1484.94" cy="362.25" r="3.7"/><circle cx="1484.94" cy="323.19" r="3.7"/><circle cx="1444.77" cy="326.11" r="3.7"/><circle cx="1575.33" cy="336.97" r="3.7"/><circle cx="1444.77" cy="370.65" r="3.7"/><circle cx="1528.46" cy="344.45" r="3.7"/><circle cx="1545.2" cy="333.13" r="3.7"/><circle cx="1391.21" cy="381.36" r="3.7"/><circle cx="1491.64" cy="362.07" r="3.7"/><circle cx="1464.86" cy="377.29" r="3.7"/><circle cx="1501.68" cy="342.64" r="3.7"/><circle cx="1588.71" cy="278.39" r="3.7"/><circle cx="1578.67" cy="279.44" r="3.7"/><circle cx="1578.67" cy="290.74" r="3.7"/><circle cx="1478.25" cy="334.84" r="3.7"/><circle cx="1431.38" cy="338.35" r="3.7"/><circle cx="1545.2" cy="368.89" r="3.7"/><circle cx="1685.79" cy="271.18" r="3.7"/><circle cx="1494.99" cy="338.91" r="3.7"/><circle cx="1538.5" cy="348.38" r="3.7"/><circle cx="1474.9" cy="312.39" r="3.7"/><circle cx="1511.72" cy="304.34" r="3.7"/><circle cx="1391.21" cy="374.14" r="3.7"/><circle cx="1515.07" cy="346.53" r="3.7"/><circle cx="1541.85" cy="338.01" r="3.7"/><circle cx="1468.2" cy="319.29" r="3.7"/><circle cx="1618.84" cy="275.31" r="3.7"/><circle cx="1511.72" cy="356.97" r="3.7"/><circle cx="1535.15" cy="323.22" r="3.7"/><circle cx="1595.41" cy="317.13" r="3.7"/><circle cx="1535.15" cy="307.55" r="3.7"/><circle cx="1481.6" cy="340.95" r="3.7"/><circle cx="1481.6" cy="297.59" r="3.7"/><circle cx="1528.46" cy="282.86" r="3.7"/><circle cx="1461.51" cy="389.58" r="3.7"/><circle cx="1498.33" cy="334.49" r="3.7"/><circle cx="1535.15" cy="273.42" r="3.7"/><circle cx="1598.76" cy="291.96" r="3.7"/><circle cx="1511.72" cy="293.5" r="3.7"/><circle cx="1478.25" cy="339.13" r="3.7"/><circle cx="1618.84" cy="294.68" r="3.7"/><circle cx="1511.72" cy="267.42" r="3.7"/><circle cx="1525.11" cy="314.43" r="3.7"/><circle cx="1571.98" cy="324.04" r="3.7"/><circle cx="1484.94" cy="360.01" r="3.7"/><circle cx="1595.41" cy="277.4" r="3.7"/><circle cx="1344.35" cy="366.87" r="3.7"/><circle cx="1508.38" cy="318.53" r="3.7"/><circle cx="1568.63" cy="356.4" r="3.7"/><circle cx="1518.42" cy="327.8" r="3.7"/><circle cx="1471.55" cy="288.8" r="3.7"/><circle cx="1585.37" cy="270.51" r="3.7"/><circle cx="1471.55" cy="368.29" r="3.7"/><circle cx="1575.33" cy="294.76" r="3.7"/><circle cx="1484.94" cy="306.34" r="3.7"/><circle cx="1438.08" cy="340.82" r="3.7"/><circle cx="1511.72" cy="277.37" r="3.7"/><circle cx="1428.04" cy="353" r="3.7"/><circle cx="1491.64" cy="303.49" r="3.7"/><circle cx="1484.94" cy="338.95" r="3.7"/><circle cx="1481.6" cy="356.69" r="3.7"/><circle cx="1508.38" cy="301.62" r="3.7"/><circle cx="1585.37" cy="269.74" r="3.7"/><circle cx="1528.46" cy="368.79" r="3.7"/><circle cx="1464.86" cy="349.86" r="3.7"/><circle cx="1501.68" cy="291.17" r="3.7"/><circle cx="1545.2" cy="337.38" r="3.7"/><circle cx="1471.55" cy="348.32" r="3.7"/><circle cx="1468.2" cy="314.75" r="3.7"/><circle cx="1478.25" cy="311.4" r="3.7"/><circle cx="1451.47" cy="296.26" r="3.7"/><circle cx="1561.93" cy="347.27" r="3.7"/><circle cx="1498.33" cy="346.59" r="3.7"/><circle cx="1505.03" cy="355.45" r="3.7"/><circle cx="1494.99" cy="346.84" r="3.7"/><circle cx="1518.42" cy="317.33" r="3.7"/><circle cx="1612.15" cy="296.92" r="3.7"/><circle cx="1491.64" cy="385.16" r="3.7"/><circle cx="1505.03" cy="334.45" r="3.7"/><circle cx="1458.16" cy="331.66" r="3.7"/><circle cx="1531.81" cy="345.4" r="3.7"/><circle cx="1538.5" cy="304" r="3.7"/><circle cx="1481.6" cy="330.57" r="3.7"/><circle cx="1571.98" cy="310.26" r="3.7"/><circle cx="1478.25" cy="406.99" r="3.7"/><circle cx="1401.26" cy="407.36" r="3.7"/><circle cx="1438.08" cy="385.68" r="3.7"/><circle cx="1582.02" cy="301.91" r="3.7"/><circle cx="1491.64" cy="357.73" r="3.7"/><circle cx="1528.46" cy="315.99" r="3.7"/><circle cx="1588.71" cy="288.35" r="3.7"/><circle cx="1538.5" cy="307.04" r="3.7"/><circle cx="1468.2" cy="376.1" r="3.7"/><circle cx="1505.03" cy="283.31" r="3.7"/><circle cx="1444.77" cy="338.33" r="3.7"/><circle cx="1571.98" cy="304.5" r="3.7"/><circle cx="1471.55" cy="349.45" r="3.7"/><circle cx="1525.11" cy="342.5" r="3.7"/><circle cx="1414.64" cy="332.41" r="3.7"/><circle cx="1377.82" cy="384.83" r="3.7"/><circle cx="1387.87" cy="406.22" r="3.7"/><circle cx="1464.86" cy="328.75" r="3.7"/><circle cx="1384.52" cy="343.43" r="3.7"/><circle cx="1478.25" cy="275.78" r="3.7"/><circle cx="1595.41" cy="304.32" r="3.7"/><circle cx="1605.45" cy="290.99" r="3.7"/><circle cx="1555.24" cy="377.34" r="3.7"/><circle cx="1501.68" cy="334.92" r="3.7"/><circle cx="1441.42" cy="340.9" r="3.7"/><circle cx="1414.64" cy="352.18" r="3.7"/><circle cx="1444.77" cy="385.39" r="3.7"/><circle cx="1407.95" cy="418.05" r="3.7"/><circle cx="1434.73" cy="321.23" r="3.7"/><circle cx="1498.33" cy="285.54" r="3.7"/><circle cx="1561.93" cy="336.11" r="3.7"/><circle cx="1458.16" cy="338.84" r="3.7"/><circle cx="1548.55" cy="330.23" r="3.7"/><circle cx="1464.86" cy="348.34" r="3.7"/><circle cx="1585.37" cy="334.8" r="3.7"/><circle cx="1407.95" cy="373.44" r="3.7"/><circle cx="1481.6" cy="324.91" r="3.7"/><circle cx="1538.5" cy="328.11" r="3.7"/><circle cx="1528.46" cy="367.58" r="3.7"/><circle cx="1498.33" cy="308.8" r="3.7"/><circle cx="1494.99" cy="310.18" r="3.7"/><circle cx="1397.91" cy="358.47" r="3.7"/><circle cx="1481.6" cy="323.41" r="3.7"/><circle cx="1541.85" cy="340.75" r="3.7"/><circle cx="1605.45" cy="330.03" r="3.7"/><circle cx="1568.63" cy="288.47" r="3.7"/><circle cx="1548.55" cy="319.18" r="3.7"/><circle cx="1458.16" cy="367.27" r="3.7"/><circle cx="1441.42" cy="413.33" r="3.7"/><circle cx="1394.56" cy="312.34" r="3.7"/><circle cx="1541.85" cy="352.77" r="3.7"/><circle cx="1407.95" cy="353.3" r="3.7"/><circle cx="1484.94" cy="384.08" r="3.7"/><circle cx="1481.6" cy="319.91" r="3.7"/><circle cx="1521.77" cy="330.85" r="3.7"/><circle cx="1481.6" cy="339.13" r="3.7"/><circle cx="1494.99" cy="373.74" r="3.7"/><circle cx="1501.68" cy="352.75" r="3.7"/><circle cx="1357.74" cy="350.47" r="3.7"/><circle cx="1525.11" cy="362.17" r="3.7"/><circle cx="1585.37" cy="316.4" r="3.7"/><circle cx="1491.64" cy="313.11" r="3.7"/><circle cx="1541.85" cy="361.11" r="3.7"/><circle cx="1541.85" cy="284.28" r="3.7"/><circle cx="1545.2" cy="269.41" r="3.7"/><circle cx="1488.29" cy="322.88" r="3.7"/><circle cx="1387.87" cy="324.9" r="3.7"/><circle cx="1515.07" cy="298.15" r="3.7"/><circle cx="1511.72" cy="298.22" r="3.7"/><circle cx="1531.81" cy="301.4" r="3.7"/><circle cx="1387.87" cy="326.6" r="3.7"/><circle cx="1531.81" cy="252.09" r="3.7"/><circle cx="1538.5" cy="351.21" r="3.7"/><circle cx="1484.94" cy="317.34" r="3.7"/><circle cx="1424.69" cy="354.34" r="3.7"/><circle cx="1498.33" cy="353.22" r="3.7"/><circle cx="1558.59" cy="328.51" r="3.7"/><circle cx="1464.86" cy="359.42" r="3.7"/><circle cx="1598.76" cy="288.28" r="3.7"/><circle cx="1414.64" cy="308.71" r="3.7"/><circle cx="1498.33" cy="316.96" r="3.7"/><circle cx="1498.33" cy="374.75" r="3.7"/><circle cx="1505.03" cy="340.09" r="3.7"/><circle cx="1461.51" cy="393.14" r="3.7"/><circle cx="1585.37" cy="323.78" r="3.7"/><circle cx="1414.64" cy="331.85" r="3.7"/><circle cx="1541.85" cy="255.6" r="3.7"/><circle cx="1411.3" cy="374.21" r="3.7"/><circle cx="1531.81" cy="295.64" r="3.7"/><circle cx="1438.08" cy="336.33" r="3.7"/><circle cx="1458.16" cy="380.33" r="3.7"/><circle cx="1454.82" cy="357.91" r="3.7"/><circle cx="1521.77" cy="376.88" r="3.7"/><circle cx="1451.47" cy="393.82" r="3.7"/><circle cx="1595.41" cy="342.71" r="3.7"/><circle cx="1531.81" cy="356.4" r="3.7"/><circle cx="1558.59" cy="274.73" r="3.7"/><circle cx="1461.51" cy="359.65" r="3.7"/><circle cx="1411.3" cy="402.72" r="3.7"/><circle cx="1505.03" cy="304.93" r="3.7"/><circle cx="1441.42" cy="316.8" r="3.7"/><circle cx="1612.15" cy="312.59" r="3.7"/><circle cx="1474.9" cy="306.15" r="3.7"/><circle cx="1518.42" cy="318.2" r="3.7"/><circle cx="1481.6" cy="317.94" r="3.7"/><circle cx="1521.77" cy="334.8" r="3.7"/><circle cx="1538.5" cy="303.02" r="3.7"/><circle cx="1595.41" cy="273.89" r="3.7"/><circle cx="1407.95" cy="317.57" r="3.7"/><circle cx="1515.07" cy="354.68" r="3.7"/><circle cx="1494.99" cy="363.53" r="3.7"/><circle cx="1431.38" cy="388.1" r="3.7"/><circle cx="1535.15" cy="306.01" r="3.7"/><circle cx="1608.8" cy="275.2" r="3.7"/><circle cx="1361.09" cy="377.92" r="3.7"/><circle cx="1494.99" cy="307.34" r="3.7"/><circle cx="1541.85" cy="321.44" r="3.7"/><circle cx="1434.73" cy="345.27" r="3.7"/><circle cx="1551.89" cy="293.83" r="3.7"/><circle cx="1585.37" cy="324.15" r="3.7"/><circle cx="1511.72" cy="315.81" r="3.7"/><circle cx="1538.5" cy="338.8" r="3.7"/><circle cx="1351.04" cy="328.31" r="3.7"/><circle cx="1454.82" cy="349.06" r="3.7"/><circle cx="1474.9" cy="276.2" r="3.7"/><circle cx="1505.03" cy="342.57" r="3.7"/><circle cx="1464.86" cy="319.68" r="3.7"/><circle cx="1565.28" cy="311.89" r="3.7"/><circle cx="1511.72" cy="364.04" r="3.7"/><circle cx="1592.06" cy="317.82" r="3.7"/><circle cx="1505.03" cy="295.99" r="3.7"/><circle cx="1488.29" cy="388.59" r="3.7"/><circle cx="1511.72" cy="293.14" r="3.7"/><circle cx="1541.85" cy="306.81" r="3.7"/><circle cx="1538.5" cy="273.39" r="3.7"/><circle cx="1448.12" cy="317.62" r="3.7"/><circle cx="1488.29" cy="374.12" r="3.7"/><circle cx="1565.28" cy="305.43" r="3.7"/><circle cx="1505.03" cy="351.89" r="3.7"/><circle cx="1675.75" cy="343.53" r="3.7"/><circle cx="1481.6" cy="332.67" r="3.7"/><circle cx="1474.9" cy="339.68" r="3.7"/><circle cx="1411.3" cy="413.14" r="3.7"/><circle cx="1471.55" cy="354.79" r="3.7"/><circle cx="1541.85" cy="329.51" r="3.7"/><circle cx="1471.55" cy="347.44" r="3.7"/><circle cx="1424.69" cy="350.63" r="3.7"/><circle cx="1481.6" cy="366.52" r="3.7"/><circle cx="1494.99" cy="339.9" r="3.7"/><circle cx="1428.04" cy="333.12" r="3.7"/><circle cx="1501.68" cy="283.09" r="3.7"/><circle cx="1464.86" cy="339.07" r="3.7"/><circle cx="1481.6" cy="341.16" r="3.7"/><circle cx="1538.5" cy="315.76" r="3.7"/><circle cx="1521.77" cy="375.55" r="3.7"/><circle cx="1494.99" cy="338.39" r="3.7"/><circle cx="1598.76" cy="311.26" r="3.7"/><circle cx="1538.5" cy="307.09" r="3.7"/><circle cx="1511.72" cy="278.79" r="3.7"/><circle cx="1414.64" cy="419.14" r="3.7"/><circle cx="1501.68" cy="322.56" r="3.7"/><circle cx="1618.84" cy="250.52" r="3.7"/><circle cx="1535.15" cy="263.86" r="3.7"/><circle cx="1468.2" cy="341.54" r="3.7"/><circle cx="1585.37" cy="282.06" r="3.7"/><circle cx="1438.08" cy="397.74" r="3.7"/><circle cx="1494.99" cy="326.07" r="3.7"/><circle cx="1474.9" cy="361.56" r="3.7"/><circle cx="1484.94" cy="282.89" r="3.7"/><circle cx="1501.68" cy="300.52" r="3.7"/><circle cx="1404.6" cy="339.29" r="3.7"/><circle cx="1555.24" cy="323.81" r="3.7"/><circle cx="1508.38" cy="352.34" r="3.7"/><circle cx="1481.6" cy="342.14" r="3.7"/><circle cx="1387.87" cy="355" r="3.7"/><circle cx="1528.46" cy="316.26" r="3.7"/><circle cx="1464.86" cy="290.08" r="3.7"/><circle cx="1659.01" cy="290.8" r="3.7"/><circle cx="1468.2" cy="379.18" r="3.7"/><circle cx="1441.42" cy="344.85" r="3.7"/><circle cx="1421.34" cy="418.15" r="3.7"/><circle cx="1531.81" cy="381.23" r="3.7"/><circle cx="1494.99" cy="337.32" r="3.7"/><circle cx="1531.81" cy="342.72" r="3.7"/><circle cx="1484.94" cy="356.03" r="3.7"/><circle cx="1468.2" cy="318.32" r="3.7"/><circle cx="1347.69" cy="364.61" r="3.7"/><circle cx="1585.37" cy="326.77" r="3.7"/><circle cx="1592.06" cy="306" r="3.7"/><circle cx="1498.33" cy="297" r="3.7"/><circle cx="1511.72" cy="260.27" r="3.7"/><circle cx="1451.47" cy="302.3" r="3.7"/><circle cx="1575.33" cy="341.82" r="3.7"/><circle cx="1582.02" cy="270.81" r="3.7"/><circle cx="1458.16" cy="366.32" r="3.7"/><circle cx="1528.46" cy="321.5" r="3.7"/><circle cx="1454.82" cy="377.79" r="3.7"/><circle cx="1391.21" cy="339.86" r="3.7"/><circle cx="1521.77" cy="322.75" r="3.7"/><circle cx="1468.2" cy="275.53" r="3.7"/><circle cx="1491.64" cy="282.54" r="3.7"/><circle cx="1525.11" cy="289.39" r="3.7"/><circle cx="1461.51" cy="390.96" r="3.7"/><circle cx="1498.33" cy="304.98" r="3.7"/><circle cx="1481.6" cy="354.31" r="3.7"/><circle cx="1575.33" cy="316.8" r="3.7"/><circle cx="1454.82" cy="381.34" r="3.7"/><circle cx="1488.29" cy="321.77" r="3.7"/><circle cx="1551.89" cy="308.36" r="3.7"/><circle cx="1548.55" cy="288.29" r="3.7"/><circle cx="1478.25" cy="358.59" r="3.7"/><circle cx="1508.38" cy="312.29" r="3.7"/><circle cx="1424.69" cy="336.25" r="3.7"/><circle cx="1491.64" cy="344.62" r="3.7"/><circle cx="1438.08" cy="306.66" r="3.7"/><circle cx="1515.07" cy="341.82" r="3.7"/><circle cx="1525.11" cy="362.02" r="3.7"/><circle cx="1535.15" cy="313.94" r="3.7"/><circle cx="1541.85" cy="275.04" r="3.7"/><circle cx="1478.25" cy="352.37" r="3.7"/><circle cx="1628.88" cy="249.81" r="3.7"/><circle cx="1454.82" cy="379.48" r="3.7"/><circle cx="1505.03" cy="324.07" r="3.7"/><circle cx="1595.41" cy="246.17" r="3.7"/><circle cx="1491.64" cy="347.54" r="3.7"/><circle cx="1494.99" cy="300.56" r="3.7"/><circle cx="1528.46" cy="302.68" r="3.7"/><circle cx="1484.94" cy="304.23" r="3.7"/><circle cx="1501.68" cy="307.53" r="3.7"/><circle cx="1454.82" cy="327.51" r="3.7"/><circle cx="1384.52" cy="369.15" r="3.7"/><circle cx="1441.42" cy="403.43" r="3.7"/><circle cx="1555.24" cy="304.39" r="3.7"/><circle cx="1411.3" cy="356.12" r="3.7"/><circle cx="1545.2" cy="288.53" r="3.7"/><circle cx="1505.03" cy="293.39" r="3.7"/><circle cx="1545.2" cy="300.14" r="3.7"/><circle cx="1561.93" cy="324.42" r="3.7"/><circle cx="1511.72" cy="273.86" r="3.7"/><circle cx="1595.41" cy="360.77" r="3.7"/><circle cx="1602.11" cy="255.56" r="3.7"/><circle cx="1498.33" cy="309.9" r="3.7"/><circle cx="1501.68" cy="314.98" r="3.7"/><circle cx="1551.89" cy="326.65" r="3.7"/><circle cx="1551.89" cy="295.83" r="3.7"/><circle cx="1518.42" cy="277.84" r="3.7"/><circle cx="1501.68" cy="323.29" r="3.7"/><circle cx="1484.94" cy="334.13" r="3.7"/><circle cx="1491.64" cy="369.04" r="3.7"/><circle cx="1417.99" cy="364.63" r="3.7"/><circle cx="1558.59" cy="266.15" r="3.7"/><circle cx="1488.29" cy="392.66" r="3.7"/><circle cx="1525.11" cy="329.97" r="3.7"/><circle cx="1397.91" cy="412.3" r="3.7"/><circle cx="1498.33" cy="320.5" r="3.7"/><circle cx="1521.77" cy="304.61" r="3.7"/><circle cx="1381.17" cy="417.81" r="3.7"/><circle cx="1491.64" cy="335.47" r="3.7"/><circle cx="1505.03" cy="291.46" r="3.7"/><circle cx="1558.59" cy="321.25" r="3.7"/><circle cx="1468.2" cy="355.21" r="3.7"/><circle cx="1454.82" cy="331.45" r="3.7"/><circle cx="1551.89" cy="306.74" r="3.7"/><circle cx="1498.33" cy="329.1" r="3.7"/><circle cx="1494.99" cy="296.15" r="3.7"/><circle cx="1488.29" cy="348.49" r="3.7"/><circle cx="1602.11" cy="248.96" r="3.7"/><circle cx="1541.85" cy="284.45" r="3.7"/><circle cx="1511.72" cy="330.59" r="3.7"/><circle cx="1535.15" cy="279.82" r="3.7"/><circle cx="1397.91" cy="339.43" r="3.7"/><circle cx="1588.71" cy="363.9" r="3.7"/><circle cx="1551.89" cy="322.19" r="3.7"/><circle cx="1518.42" cy="328.61" r="3.7"/><circle cx="1484.94" cy="308.97" r="3.7"/><circle cx="1538.5" cy="337.2" r="3.7"/><circle cx="1555.24" cy="355.66" r="3.7"/><circle cx="1468.2" cy="341.66" r="3.7"/><circle cx="1454.82" cy="381.08" r="3.7"/><circle cx="1615.49" cy="347.45" r="3.7"/><circle cx="1605.45" cy="271.79" r="3.7"/><circle cx="1531.81" cy="273.62" r="3.7"/><circle cx="1501.68" cy="298.22" r="3.7"/><circle cx="1488.29" cy="343.03" r="3.7"/><circle cx="1451.47" cy="372.96" r="3.7"/><circle cx="1498.33" cy="332.67" r="3.7"/><circle cx="1458.16" cy="388.65" r="3.7"/><circle cx="1501.68" cy="295.05" r="3.7"/><circle cx="1511.72" cy="293.41" r="3.7"/><circle cx="1531.81" cy="329.48" r="3.7"/><circle cx="1444.77" cy="316.94" r="3.7"/><circle cx="1525.11" cy="303.21" r="3.7"/><circle cx="1494.99" cy="321.62" r="3.7"/><circle cx="1448.12" cy="332.4" r="3.7"/><circle cx="1377.82" cy="419.22" r="3.7"/><circle cx="1441.42" cy="315.79" r="3.7"/><circle cx="1525.11" cy="287.48" r="3.7"/><circle cx="1481.6" cy="350.96" r="3.7"/><circle cx="1592.06" cy="316.37" r="3.7"/><circle cx="1444.77" cy="385.72" r="3.7"/><circle cx="1531.81" cy="320.64" r="3.7"/><circle cx="1481.6" cy="312.36" r="3.7"/><circle cx="1407.95" cy="405.2" r="3.7"/><circle cx="1464.86" cy="352.86" r="3.7"/><circle cx="1407.95" cy="380.49" r="3.7"/><circle cx="1501.68" cy="326.12" r="3.7"/><circle cx="1494.99" cy="332.4" r="3.7"/><circle cx="1488.29" cy="284.2" r="3.7"/><circle cx="1525.11" cy="317" r="3.7"/><circle cx="1528.46" cy="320.87" r="3.7"/><circle cx="1448.12" cy="353.98" r="3.7"/><circle cx="1451.47" cy="345.45" r="3.7"/><circle cx="1525.11" cy="309.65" r="3.7"/><circle cx="1434.73" cy="390.02" r="3.7"/><circle cx="1521.77" cy="367.88" r="3.7"/><circle cx="1461.51" cy="342.68" r="3.7"/><circle cx="1478.25" cy="339.63" r="3.7"/><circle cx="1478.25" cy="364.25" r="3.7"/><circle cx="1508.38" cy="270.65" r="3.7"/><circle cx="1558.59" cy="287.14" r="3.7"/><circle cx="1468.2" cy="393.84" r="3.7"/><circle cx="1498.33" cy="315.14" r="3.7"/><circle cx="1468.2" cy="347.08" r="3.7"/><circle cx="1471.55" cy="346.06" r="3.7"/><circle cx="1498.33" cy="304.94" r="3.7"/><circle cx="1407.95" cy="379.96" r="3.7"/><circle cx="1491.64" cy="352.44" r="3.7"/><circle cx="1441.42" cy="389.65" r="3.7"/><circle cx="1528.46" cy="329.61" r="3.7"/><circle cx="1474.9" cy="357.49" r="3.7"/><circle cx="1511.72" cy="271.65" r="3.7"/><circle cx="1464.86" cy="417.73" r="3.7"/><circle cx="1478.25" cy="311.12" r="3.7"/><circle cx="1568.63" cy="293.76" r="3.7"/><circle cx="1561.93" cy="298.12" r="3.7"/><circle cx="1602.11" cy="328.58" r="3.7"/><circle cx="1505.03" cy="311.53" r="3.7"/><circle cx="1444.77" cy="355.73" r="3.7"/><circle cx="1401.26" cy="382.41" r="3.7"/><circle cx="1548.55" cy="298.65" r="3.7"/><circle cx="1494.99" cy="284.29" r="3.7"/><circle cx="1468.2" cy="308.7" r="3.7"/><circle cx="1505.03" cy="355.48" r="3.7"/><circle cx="1615.49" cy="332.22" r="3.7"/><circle cx="1545.2" cy="291.43" r="3.7"/><circle cx="1494.99" cy="321.51" r="3.7"/><circle cx="1521.77" cy="328.72" r="3.7"/><circle cx="1461.51" cy="361.34" r="3.7"/><circle cx="1498.33" cy="381.23" r="3.7"/><circle cx="1545.2" cy="296.42" r="3.7"/><circle cx="1515.07" cy="324.76" r="3.7"/><circle cx="1501.68" cy="343.8" r="3.7"/><circle cx="1528.46" cy="309.73" r="3.7"/><circle cx="1515.07" cy="338.67" r="3.7"/><circle cx="1501.68" cy="359.54" r="3.7"/><circle cx="1528.46" cy="301.62" r="3.7"/><circle cx="1528.46" cy="301.67" r="3.7"/><circle cx="1592.06" cy="345.92" r="3.7"/><circle cx="1571.98" cy="318.87" r="3.7"/><circle cx="1407.95" cy="359.24" r="3.7"/><circle cx="1521.77" cy="305.43" r="3.7"/><circle cx="1578.67" cy="271.46" r="3.7"/><circle cx="1498.33" cy="305.09" r="3.7"/><circle cx="1528.46" cy="318.64" r="3.7"/><circle cx="1481.6" cy="317.71" r="3.7"/><circle cx="1478.25" cy="319.38" r="3.7"/><circle cx="1545.2" cy="367.18" r="3.7"/><circle cx="1592.06" cy="300.75" r="3.7"/><circle cx="1608.8" cy="345.94" r="3.7"/><circle cx="1558.59" cy="356.02" r="3.7"/><circle cx="1461.51" cy="321.52" r="3.7"/><circle cx="1478.25" cy="325.69" r="3.7"/><circle cx="1545.2" cy="329.11" r="3.7"/><circle cx="1568.63" cy="341.62" r="3.7"/><circle cx="1585.37" cy="332.09" r="3.7"/><circle cx="1484.94" cy="384.42" r="3.7"/><circle cx="1494.99" cy="285.07" r="3.7"/><circle cx="1511.72" cy="337.6" r="3.7"/><circle cx="1441.42" cy="304.83" r="3.7"/><circle cx="1558.59" cy="359.3" r="3.7"/><circle cx="1582.02" cy="250.4" r="3.7"/><circle cx="1461.51" cy="383.65" r="3.7"/><circle cx="1545.2" cy="340.27" r="3.7"/><circle cx="1444.77" cy="306.49" r="3.7"/><circle cx="1525.11" cy="334.36" r="3.7"/><circle cx="1498.33" cy="314.51" r="3.7"/><circle cx="1595.41" cy="294.69" r="3.7"/><circle cx="1515.07" cy="317.57" r="3.7"/><circle cx="1518.42" cy="288.92" r="3.7"/><circle cx="1541.85" cy="384.72" r="3.7"/><circle cx="1414.64" cy="414.58" r="3.7"/><circle cx="1571.98" cy="336.98" r="3.7"/><circle cx="1548.55" cy="340.05" r="3.7"/><circle cx="1404.6" cy="401.36" r="3.7"/><circle cx="1438.08" cy="351.92" r="3.7"/><circle cx="1478.25" cy="354" r="3.7"/><circle cx="1401.26" cy="314.13" r="3.7"/><circle cx="1585.37" cy="257.29" r="3.7"/><circle cx="1444.77" cy="369.48" r="3.7"/><circle cx="1474.9" cy="331.38" r="3.7"/><circle cx="1538.5" cy="362.8" r="3.7"/><circle cx="1511.72" cy="273.83" r="3.7"/><circle cx="1518.42" cy="258.97" r="3.7"/><circle cx="1444.77" cy="339.67" r="3.7"/><circle cx="1531.81" cy="325.17" r="3.7"/><circle cx="1451.47" cy="304.84" r="3.7"/><circle cx="1431.38" cy="368.85" r="3.7"/><circle cx="1401.26" cy="393.17" r="3.7"/><circle cx="1558.59" cy="330.62" r="3.7"/><circle cx="1531.81" cy="337.75" r="3.7"/><circle cx="1498.33" cy="322.18" r="3.7"/><circle cx="1595.41" cy="342.74" r="3.7"/><circle cx="1364.43" cy="393.2" r="3.7"/><circle cx="1545.2" cy="278.16" r="3.7"/><circle cx="1428.04" cy="340.84" r="3.7"/><circle cx="1488.29" cy="300.7" r="3.7"/><circle cx="1645.62" cy="324.76" r="3.7"/><circle cx="1571.98" cy="305.67" r="3.7"/><circle cx="1541.85" cy="293.91" r="3.7"/><circle cx="1565.28" cy="296.64" r="3.7"/><circle cx="1568.63" cy="308.39" r="3.7"/><circle cx="1407.95" cy="378.04" r="3.7"/><circle cx="1541.85" cy="302.74" r="3.7"/><circle cx="1508.38" cy="332.4" r="3.7"/><circle cx="1468.2" cy="408.99" r="3.7"/><circle cx="1344.35" cy="393.81" r="3.7"/><circle cx="1454.82" cy="330.29" r="3.7"/><circle cx="1545.2" cy="318.12" r="3.7"/><circle cx="1528.46" cy="300.32" r="3.7"/><circle cx="1515.07" cy="342.02" r="3.7"/><circle cx="1494.99" cy="406.4" r="3.7"/><circle cx="1551.89" cy="278.45" r="3.7"/><circle cx="1474.9" cy="351.53" r="3.7"/><circle cx="1478.25" cy="293.26" r="3.7"/><circle cx="1535.15" cy="338.7" r="3.7"/><circle cx="1528.46" cy="345.68" r="3.7"/><circle cx="1565.28" cy="273.44" r="3.7"/><circle cx="1501.68" cy="353.77" r="3.7"/><circle cx="1558.59" cy="336.46" r="3.7"/><circle cx="1531.81" cy="358.98" r="3.7"/><circle cx="1468.2" cy="324.12" r="3.7"/><circle cx="1488.29" cy="299.97" r="3.7"/><circle cx="1414.64" cy="378.86" r="3.7"/><circle cx="1451.47" cy="378.21" r="3.7"/><circle cx="1478.25" cy="286.99" r="3.7"/><circle cx="1578.67" cy="279.74" r="3.7"/><circle cx="1505.03" cy="355.29" r="3.7"/><circle cx="1498.33" cy="350.79" r="3.7"/><circle cx="1551.89" cy="333.39" r="3.7"/><circle cx="1448.12" cy="382.1" r="3.7"/><circle cx="1548.55" cy="313.54" r="3.7"/><circle cx="1551.89" cy="355.11" r="3.7"/><circle cx="1592.06" cy="308.61" r="3.7"/><circle cx="1548.55" cy="286.5" r="3.7"/><circle cx="1568.63" cy="304.4" r="3.7"/><circle cx="1515.07" cy="309.19" r="3.7"/><circle cx="1528.46" cy="321.94" r="3.7"/><circle cx="1421.34" cy="351.55" r="3.7"/><circle cx="1484.94" cy="351.88" r="3.7"/><circle cx="1511.72" cy="304.64" r="3.7"/><circle cx="1451.47" cy="312.79" r="3.7"/><circle cx="1428.04" cy="351.55" r="3.7"/><circle cx="1494.99" cy="325.27" r="3.7"/><circle cx="1505.03" cy="336.41" r="3.7"/><circle cx="1474.9" cy="319.5" r="3.7"/><circle cx="1568.63" cy="279.69" r="3.7"/><circle cx="1484.94" cy="361.48" r="3.7"/><circle cx="1518.42" cy="312.24" r="3.7"/><circle cx="1648.97" cy="303.58" r="3.7"/><circle cx="1461.51" cy="327.27" r="3.7"/><circle cx="1538.5" cy="278.81" r="3.7"/><circle cx="1521.77" cy="287.8" r="3.7"/><circle cx="1508.38" cy="354.82" r="3.7"/><circle cx="1468.2" cy="362.81" r="3.7"/><circle cx="1464.86" cy="285.15" r="3.7"/><circle cx="1458.16" cy="361.1" r="3.7"/><circle cx="1484.94" cy="368.4" r="3.7"/><circle cx="1665.71" cy="348.12" r="3.7"/><circle cx="1491.64" cy="331.36" r="3.7"/><circle cx="1424.69" cy="338.2" r="3.7"/><circle cx="1488.29" cy="363.42" r="3.7"/><circle cx="1622.19" cy="319.78" r="3.7"/><circle cx="1474.9" cy="309.93" r="3.7"/><circle cx="1578.67" cy="337.33" r="3.7"/><circle cx="1571.98" cy="392.18" r="3.7"/><circle cx="1458.16" cy="298.4" r="3.7"/><circle cx="1471.55" cy="350.36" r="3.7"/><circle cx="1451.47" cy="346.85" r="3.7"/><circle cx="1612.15" cy="265.83" r="3.7"/><circle cx="1555.24" cy="268.65" r="3.7"/><circle cx="1558.59" cy="332.29" r="3.7"/><circle cx="1518.42" cy="326.6" r="3.7"/><circle cx="1531.81" cy="301.52" r="3.7"/><circle cx="1538.5" cy="337.89" r="3.7"/><circle cx="1491.64" cy="281.48" r="3.7"/><circle cx="1551.89" cy="290.42" r="3.7"/><circle cx="1515.07" cy="278.93" r="3.7"/><circle cx="1407.95" cy="319.72" r="3.7"/><circle cx="1555.24" cy="310.86" r="3.7"/><circle cx="1531.81" cy="364.61" r="3.7"/><circle cx="1535.15" cy="338.63" r="3.7"/><circle cx="1468.2" cy="337.81" r="3.7"/><circle cx="1548.55" cy="275.05" r="3.7"/><circle cx="1568.63" cy="310.97" r="3.7"/><circle cx="1551.89" cy="278.98" r="3.7"/><circle cx="1498.33" cy="272.31" r="3.7"/><circle cx="1471.55" cy="337" r="3.7"/><circle cx="1508.38" cy="329.99" r="3.7"/><circle cx="1407.95" cy="360.34" r="3.7"/><circle cx="1424.69" cy="302.28" r="3.7"/><circle cx="1565.28" cy="266.12" r="3.7"/><circle cx="1521.77" cy="286.84" r="3.7"/><circle cx="1565.28" cy="248.16" r="3.7"/><circle cx="1505.03" cy="348.84" r="3.7"/><circle cx="1518.42" cy="255.65" r="3.7"/><circle cx="1592.06" cy="313.68" r="3.7"/><circle cx="1387.87" cy="390.97" r="3.7"/><circle cx="1598.76" cy="263.71" r="3.7"/><circle cx="1458.16" cy="391.43" r="3.7"/><circle cx="1394.56" cy="362.63" r="3.7"/><circle cx="1525.11" cy="327.24" r="3.7"/><circle cx="1441.42" cy="363.9" r="3.7"/><circle cx="1538.5" cy="287.72" r="3.7"/><circle cx="1491.64" cy="301.9" r="3.7"/><circle cx="1501.68" cy="368.18" r="3.7"/><circle cx="1538.5" cy="333.2" r="3.7"/><circle cx="1528.46" cy="319.55" r="3.7"/><circle cx="1551.89" cy="317.26" r="3.7"/><circle cx="1491.64" cy="324.25" r="3.7"/><circle cx="1528.46" cy="300" r="3.7"/><circle cx="1367.78" cy="415.84" r="3.7"/><circle cx="1407.95" cy="312.79" r="3.7"/><circle cx="1387.87" cy="394.98" r="3.7"/><circle cx="1448.12" cy="318.09" r="3.7"/><circle cx="1538.5" cy="318.35" r="3.7"/><circle cx="1505.03" cy="324.47" r="3.7"/><circle cx="1515.07" cy="287.42" r="3.7"/><circle cx="1541.85" cy="351.69" r="3.7"/><circle cx="1655.66" cy="340.3" r="3.7"/><circle cx="1494.99" cy="331.62" r="3.7"/><circle cx="1361.09" cy="353.69" r="3.7"/><circle cx="1488.29" cy="333.99" r="3.7"/><circle cx="1558.59" cy="333.38" r="3.7"/><circle cx="1535.15" cy="313.47" r="3.7"/><circle cx="1508.38" cy="337.28" r="3.7"/><circle cx="1484.94" cy="270.7" r="3.7"/><circle cx="1431.38" cy="286.88" r="3.7"/><circle cx="1488.29" cy="343.11" r="3.7"/><circle cx="1525.11" cy="320.58" r="3.7"/><circle cx="1491.64" cy="313.86" r="3.7"/><circle cx="1575.33" cy="308.74" r="3.7"/><circle cx="1545.2" cy="270.31" r="3.7"/><circle cx="1417.99" cy="313.94" r="3.7"/><circle cx="1518.42" cy="307.3" r="3.7"/><circle cx="1411.3" cy="397.23" r="3.7"/><circle cx="1421.34" cy="363.97" r="3.7"/><circle cx="1434.73" cy="336.72" r="3.7"/><circle cx="1551.89" cy="299.54" r="3.7"/><circle cx="1498.33" cy="351.41" r="3.7"/><circle cx="1498.33" cy="315.12" r="3.7"/><circle cx="1458.16" cy="327.33" r="3.7"/><circle cx="1511.72" cy="278.77" r="3.7"/><circle cx="1431.38" cy="347.74" r="3.7"/><circle cx="1468.2" cy="352.21" r="3.7"/><circle cx="1541.85" cy="299.13" r="3.7"/><circle cx="1461.51" cy="369.59" r="3.7"/><circle cx="1364.43" cy="393.87" r="3.7"/><circle cx="1525.11" cy="297.22" r="3.7"/><circle cx="1571.98" cy="333.31" r="3.7"/><circle cx="1505.03" cy="318.1" r="3.7"/><circle cx="1545.2" cy="348.39" r="3.7"/><circle cx="1481.6" cy="342.26" r="3.7"/><circle cx="1481.6" cy="322.48" r="3.7"/><circle cx="1481.6" cy="370.58" r="3.7"/><circle cx="1468.2" cy="369.02" r="3.7"/><circle cx="1689.14" cy="290.16" r="3.7"/><circle cx="1551.89" cy="271.19" r="3.7"/><circle cx="1541.85" cy="324.99" r="3.7"/><circle cx="1535.15" cy="309.85" r="3.7"/><circle cx="1551.89" cy="327.18" r="3.7"/><circle cx="1511.72" cy="413.98" r="3.7"/><circle cx="1451.47" cy="319.28" r="3.7"/><circle cx="1535.15" cy="299.44" r="3.7"/><circle cx="1575.33" cy="297.82" r="3.7"/><circle cx="1451.47" cy="334.89" r="3.7"/><circle cx="1438.08" cy="371.01" r="3.7"/><circle cx="1498.33" cy="341.67" r="3.7"/><circle cx="1424.69" cy="314.99" r="3.7"/><circle cx="1521.77" cy="299.55" r="3.7"/><circle cx="1528.46" cy="360.2" r="3.7"/><circle cx="1451.47" cy="358.43" r="3.7"/><circle cx="1444.77" cy="366.12" r="3.7"/><circle cx="1652.32" cy="284.7" r="3.7"/><circle cx="1498.33" cy="299.82" r="3.7"/><circle cx="1434.73" cy="322.95" r="3.7"/><circle cx="1431.38" cy="391.83" r="3.7"/><circle cx="1679.1" cy="288.64" r="3.7"/><circle cx="1632.23" cy="372.38" r="3.7"/><circle cx="1582.02" cy="335.03" r="3.7"/><circle cx="1565.28" cy="321.47" r="3.7"/><circle cx="1431.38" cy="362.51" r="3.7"/><circle cx="1448.12" cy="324.1" r="3.7"/><circle cx="1505.03" cy="301.83" r="3.7"/><circle cx="1438.08" cy="355.89" r="3.7"/><circle cx="1525.11" cy="284.13" r="3.7"/><circle cx="1508.38" cy="372.38" r="3.7"/><circle cx="1454.82" cy="349.49" r="3.7"/><circle cx="1441.42" cy="355.5" r="3.7"/><circle cx="1424.69" cy="333.83" r="3.7"/><circle cx="1404.6" cy="365.82" r="3.7"/><circle cx="1444.77" cy="343.28" r="3.7"/><circle cx="1434.73" cy="317.03" r="3.7"/><circle cx="1508.38" cy="303.37" r="3.7"/><circle cx="1448.12" cy="388.22" r="3.7"/><circle cx="1481.6" cy="357.67" r="3.7"/><circle cx="1488.29" cy="326.24" r="3.7"/><circle cx="1411.3" cy="375.23" r="3.7"/><circle cx="1511.72" cy="344.57" r="3.7"/><circle cx="1575.33" cy="272.57" r="3.7"/><circle cx="1441.42" cy="351.2" r="3.7"/><circle cx="1407.95" cy="365.9" r="3.7"/><circle cx="1561.93" cy="359.43" r="3.7"/><circle cx="1454.82" cy="334.32" r="3.7"/><circle cx="1511.72" cy="307.31" r="3.7"/><circle cx="1595.41" cy="331.8" r="3.7"/><circle cx="1568.63" cy="359.93" r="3.7"/><circle cx="1531.81" cy="267.05" r="3.7"/><circle cx="1585.37" cy="260.19" r="3.7"/><circle cx="1434.73" cy="331.98" r="3.7"/><circle cx="1551.89" cy="307.14" r="3.7"/><circle cx="1551.89" cy="308.95" r="3.7"/><circle cx="1454.82" cy="306.85" r="3.7"/><circle cx="1501.68" cy="321.63" r="3.7"/><circle cx="1461.51" cy="360.12" r="3.7"/><circle cx="1571.98" cy="360.56" r="3.7"/><circle cx="1431.38" cy="378.99" r="3.7"/><circle cx="1545.2" cy="305.98" r="3.7"/><circle cx="1441.42" cy="375.36" r="3.7"/><circle cx="1508.38" cy="299.19" r="3.7"/><circle cx="1417.99" cy="314.81" r="3.7"/><circle cx="1538.5" cy="315.88" r="3.7"/><circle cx="1498.33" cy="287.87" r="3.7"/><circle cx="1595.41" cy="290.66" r="3.7"/><circle cx="1484.94" cy="280.85" r="3.7"/><circle cx="1515.07" cy="323.34" r="3.7"/><circle cx="1508.38" cy="282.43" r="3.7"/><circle cx="1535.15" cy="347.51" r="3.7"/><circle cx="1505.03" cy="339.88" r="3.7"/><circle cx="1498.33" cy="361.64" r="3.7"/><circle cx="1548.55" cy="293.12" r="3.7"/><circle cx="1521.77" cy="319.87" r="3.7"/><circle cx="1454.82" cy="323.02" r="3.7"/><circle cx="1474.9" cy="290.92" r="3.7"/><circle cx="1531.81" cy="318.51" r="3.7"/><circle cx="1441.42" cy="352.31" r="3.7"/><circle cx="1525.11" cy="258.03" r="3.7"/><circle cx="1454.82" cy="310.58" r="3.7"/><circle cx="1491.64" cy="318.48" r="3.7"/><circle cx="1478.25" cy="324.9" r="3.7"/><circle cx="1448.12" cy="355.67" r="3.7"/><circle cx="1525.11" cy="341.88" r="3.7"/><circle cx="1548.55" cy="319.34" r="3.7"/><circle cx="1541.85" cy="274.27" r="3.7"/><circle cx="1441.42" cy="343.13" r="3.7"/><circle cx="1511.72" cy="356.55" r="3.7"/><circle cx="1431.38" cy="323.11" r="3.7"/><circle cx="1468.2" cy="372.53" r="3.7"/><circle cx="1508.38" cy="307.07" r="3.7"/><circle cx="1481.6" cy="356.99" r="3.7"/><circle cx="1548.55" cy="279.69" r="3.7"/><circle cx="1448.12" cy="351.81" r="3.7"/><circle cx="1541.85" cy="286.44" r="3.7"/><circle cx="1528.46" cy="297.88" r="3.7"/><circle cx="1421.34" cy="375.41" r="3.7"/><circle cx="1461.51" cy="353.13" r="3.7"/><circle cx="1531.81" cy="351.11" r="3.7"/><circle cx="1454.82" cy="321.74" r="3.7"/><circle cx="1531.81" cy="356.47" r="3.7"/><circle cx="1484.94" cy="338.65" r="3.7"/><circle cx="1588.71" cy="313.37" r="3.7"/><circle cx="1518.42" cy="337.06" r="3.7"/><circle cx="1484.94" cy="334.22" r="3.7"/><circle cx="1397.91" cy="352.95" r="3.7"/><circle cx="1384.52" cy="392.53" r="3.7"/><circle cx="1538.5" cy="330.53" r="3.7"/><circle cx="1484.94" cy="323.81" r="3.7"/><circle cx="1474.9" cy="348.12" r="3.7"/><circle cx="1484.94" cy="309.61" r="3.7"/><circle cx="1592.06" cy="338.84" r="3.7"/><circle cx="1401.26" cy="352.67" r="3.7"/><circle cx="1588.71" cy="329.65" r="3.7"/><circle cx="1501.68" cy="314.1" r="3.7"/><circle cx="1421.34" cy="376.85" r="3.7"/><circle cx="1551.89" cy="273.73" r="3.7"/><circle cx="1511.72" cy="356.68" r="3.7"/><circle cx="1541.85" cy="319.46" r="3.7"/><circle cx="1518.42" cy="341.46" r="3.7"/><circle cx="1464.86" cy="328.8" r="3.7"/><circle cx="1548.55" cy="319.94" r="3.7"/><circle cx="1484.94" cy="333.56" r="3.7"/><circle cx="1491.64" cy="393.66" r="3.7"/><circle cx="1508.38" cy="297.53" r="3.7"/><circle cx="1464.86" cy="368.27" r="3.7"/><circle cx="1568.63" cy="251.6" r="3.7"/><circle cx="1397.91" cy="376.49" r="3.7"/><circle cx="1488.29" cy="360.48" r="3.7"/><circle cx="1535.15" cy="301.4" r="3.7"/><circle cx="1441.42" cy="350.19" r="3.7"/><circle cx="1685.79" cy="288.61" r="3.7"/><circle cx="1454.82" cy="386.33" r="3.7"/><circle cx="1471.55" cy="301.35" r="3.7"/><circle cx="1565.28" cy="273.68" r="3.7"/><circle cx="1421.34" cy="350.19" r="3.7"/><circle cx="1441.42" cy="334.5" r="3.7"/><circle cx="1484.94" cy="364.64" r="3.7"/><circle cx="1531.81" cy="305.31" r="3.7"/><circle cx="1608.8" cy="289.74" r="3.7"/><circle cx="1525.11" cy="306.01" r="3.7"/><circle cx="1555.24" cy="344.14" r="3.7"/><circle cx="1521.77" cy="249.76" r="3.7"/><circle cx="1511.72" cy="272.87" r="3.7"/><circle cx="1518.42" cy="342.15" r="3.7"/><circle cx="1488.29" cy="349.42" r="3.7"/><circle cx="1582.02" cy="345.62" r="3.7"/><circle cx="1461.51" cy="354.87" r="3.7"/><circle cx="1498.33" cy="335" r="3.7"/><circle cx="1464.86" cy="343.57" r="3.7"/><circle cx="1471.55" cy="332.03" r="3.7"/><circle cx="1484.94" cy="313.3" r="3.7"/><circle cx="1518.42" cy="344.5" r="3.7"/><circle cx="1498.33" cy="357.3" r="3.7"/><circle cx="1508.38" cy="327.52" r="3.7"/><circle cx="1468.2" cy="313.08" r="3.7"/><circle cx="1498.33" cy="346.01" r="3.7"/><circle cx="1404.6" cy="369.12" r="3.7"/><circle cx="1511.72" cy="384" r="3.7"/><circle cx="1565.28" cy="313.28" r="3.7"/><circle cx="1518.42" cy="354.23" r="3.7"/><circle cx="1491.64" cy="324.33" r="3.7"/><circle cx="1391.21" cy="363.47" r="3.7"/><circle cx="1548.55" cy="349.29" r="3.7"/><circle cx="1541.85" cy="351.63" r="3.7"/><circle cx="1515.07" cy="379.87" r="3.7"/><circle cx="1454.82" cy="389.92" r="3.7"/><circle cx="1582.02" cy="262.97" r="3.7"/><circle cx="1501.68" cy="308.32" r="3.7"/><circle cx="1444.77" cy="366.88" r="3.7"/><circle cx="1582.02" cy="293.49" r="3.7"/><circle cx="1575.33" cy="310.54" r="3.7"/><circle cx="1488.29" cy="351.05" r="3.7"/><circle cx="1565.28" cy="277.08" r="3.7"/><circle cx="1558.59" cy="303.25" r="3.7"/><circle cx="1448.12" cy="344.79" r="3.7"/><circle cx="1471.55" cy="273.37" r="3.7"/><circle cx="1551.89" cy="315.78" r="3.7"/><circle cx="1441.42" cy="382.05" r="3.7"/><circle cx="1538.5" cy="287.14" r="3.7"/><circle cx="1545.2" cy="282.65" r="3.7"/><circle cx="1484.94" cy="322.41" r="3.7"/><circle cx="1645.62" cy="333.77" r="3.7"/><circle cx="1411.3" cy="367.33" r="3.7"/><circle cx="1451.47" cy="316.29" r="3.7"/><circle cx="1511.72" cy="314.11" r="3.7"/><circle cx="1555.24" cy="313.32" r="3.7"/><circle cx="1528.46" cy="382.19" r="3.7"/><circle cx="1558.59" cy="306.92" r="3.7"/><circle cx="1568.63" cy="275.67" r="3.7"/><circle cx="1508.38" cy="338.2" r="3.7"/><circle cx="1545.2" cy="327.62" r="3.7"/><circle cx="1582.02" cy="317.18" r="3.7"/><circle cx="1518.42" cy="303.82" r="3.7"/><circle cx="1498.33" cy="316.97" r="3.7"/><circle cx="1508.38" cy="341.48" r="3.7"/><circle cx="1491.64" cy="351.3" r="3.7"/><circle cx="1518.42" cy="316.21" r="3.7"/><circle cx="1481.6" cy="274.43" r="3.7"/><circle cx="1575.33" cy="357.01" r="3.7"/><circle cx="1431.38" cy="314.99" r="3.7"/><circle cx="1531.81" cy="320.86" r="3.7"/><circle cx="1451.47" cy="335.85" r="3.7"/><circle cx="1551.89" cy="333.19" r="3.7"/><circle cx="1471.55" cy="346.91" r="3.7"/><circle cx="1478.25" cy="358.04" r="3.7"/><circle cx="1498.33" cy="364.85" r="3.7"/><circle cx="1491.64" cy="353.25" r="3.7"/><circle cx="1538.5" cy="326.81" r="3.7"/><circle cx="1488.29" cy="315.7" r="3.7"/><circle cx="1424.69" cy="317.36" r="3.7"/><circle cx="1494.99" cy="341.5" r="3.7"/><circle cx="1488.29" cy="321.57" r="3.7"/><circle cx="1535.15" cy="303.39" r="3.7"/><circle cx="1555.24" cy="273.32" r="3.7"/><circle cx="1545.2" cy="356.01" r="3.7"/><circle cx="1508.38" cy="305.71" r="3.7"/><circle cx="1505.03" cy="351.14" r="3.7"/><circle cx="1535.15" cy="331.86" r="3.7"/><circle cx="1407.95" cy="402.33" r="3.7"/><circle cx="1538.5" cy="285.46" r="3.7"/><circle cx="1625.54" cy="283.63" r="3.7"/><circle cx="1320.91" cy="390.8" r="3.7"/><circle cx="1461.51" cy="359.51" r="3.7"/><circle cx="1364.43" cy="370.81" r="3.7"/><circle cx="1464.86" cy="368.28" r="3.7"/><circle cx="1505.03" cy="308.34" r="3.7"/><circle cx="1391.21" cy="386.2" r="3.7"/><circle cx="1464.86" cy="361.33" r="3.7"/><circle cx="1481.6" cy="320.51" r="3.7"/><circle cx="1515.07" cy="312.69" r="3.7"/><circle cx="1605.45" cy="286.73" r="3.7"/><circle cx="1458.16" cy="349.1" r="3.7"/><circle cx="1501.68" cy="330.95" r="3.7"/><circle cx="1501.68" cy="328.03" r="3.7"/><circle cx="1498.33" cy="325.45" r="3.7"/><circle cx="1538.5" cy="274.85" r="3.7"/><circle cx="1548.55" cy="334.61" r="3.7"/><circle cx="1494.99" cy="300.78" r="3.7"/><circle cx="1484.94" cy="321.53" r="3.7"/><circle cx="1478.25" cy="288.07" r="3.7"/><circle cx="1508.38" cy="337.95" r="3.7"/><circle cx="1428.04" cy="338.41" r="3.7"/><circle cx="1555.24" cy="326.53" r="3.7"/><circle cx="1518.42" cy="369.03" r="3.7"/><circle cx="1451.47" cy="404.8" r="3.7"/><circle cx="1421.34" cy="388.14" r="3.7"/><circle cx="1474.9" cy="346.99" r="3.7"/><circle cx="1515.07" cy="341.7" r="3.7"/><circle cx="1381.17" cy="413.66" r="3.7"/><circle cx="1518.42" cy="327.38" r="3.7"/><circle cx="1521.77" cy="311.67" r="3.7"/><circle cx="1458.16" cy="332.82" r="3.7"/><circle cx="1478.25" cy="363.58" r="3.7"/><circle cx="1498.33" cy="295.33" r="3.7"/><circle cx="1494.99" cy="342.64" r="3.7"/><circle cx="1471.55" cy="333.24" r="3.7"/><circle cx="1518.42" cy="286.4" r="3.7"/><circle cx="1505.03" cy="295.79" r="3.7"/><circle cx="1481.6" cy="327.16" r="3.7"/><circle cx="1421.34" cy="375.3" r="3.7"/><circle cx="1558.59" cy="332.05" r="3.7"/><circle cx="1377.82" cy="385.44" r="3.7"/><circle cx="1505.03" cy="295.96" r="3.7"/><circle cx="1518.42" cy="347.01" r="3.7"/><circle cx="1458.16" cy="363.09" r="3.7"/><circle cx="1525.11" cy="283.71" r="3.7"/><circle cx="1525.11" cy="350" r="3.7"/><circle cx="1498.33" cy="335" r="3.7"/><circle cx="1394.56" cy="344.7" r="3.7"/><circle cx="1548.55" cy="260.08" r="3.7"/><circle cx="1488.29" cy="299.53" r="3.7"/><circle cx="1438.08" cy="304.86" r="3.7"/><circle cx="1444.77" cy="351.22" r="3.7"/><circle cx="1571.98" cy="322.36" r="3.7"/><circle cx="1588.71" cy="323.59" r="3.7"/><circle cx="1558.59" cy="371.81" r="3.7"/><circle cx="1444.77" cy="344.4" r="3.7"/><circle cx="1494.99" cy="376.58" r="3.7"/><circle cx="1468.2" cy="365.41" r="3.7"/><circle cx="1451.47" cy="395.43" r="3.7"/><circle cx="1478.25" cy="309.11" r="3.7"/><circle cx="1501.68" cy="276.97" r="3.7"/><circle cx="1535.15" cy="348.01" r="3.7"/><circle cx="1414.64" cy="382.65" r="3.7"/><circle cx="1525.11" cy="359.96" r="3.7"/><circle cx="1481.6" cy="399.89" r="3.7"/><circle cx="1424.69" cy="339.59" r="3.7"/><circle cx="1484.94" cy="354.78" r="3.7"/><circle cx="1531.81" cy="298.59" r="3.7"/><circle cx="1561.93" cy="303.83" r="3.7"/><circle cx="1491.64" cy="402.94" r="3.7"/><circle cx="1501.68" cy="310.74" r="3.7"/><circle cx="1448.12" cy="340.17" r="3.7"/><circle cx="1488.29" cy="323.12" r="3.7"/><circle cx="1521.77" cy="332.36" r="3.7"/><circle cx="1424.69" cy="350.04" r="3.7"/><circle cx="1431.38" cy="334.02" r="3.7"/><circle cx="1401.26" cy="320.8" r="3.7"/><circle cx="1458.16" cy="283.72" r="3.7"/><circle cx="1498.33" cy="285.86" r="3.7"/><circle cx="1551.89" cy="349.67" r="3.7"/><circle cx="1417.99" cy="392.16" r="3.7"/><circle cx="1592.06" cy="322.23" r="3.7"/><circle cx="1575.33" cy="283.94" r="3.7"/><circle cx="1438.08" cy="355.51" r="3.7"/><circle cx="1568.63" cy="267.31" r="3.7"/><circle cx="1404.6" cy="386.18" r="3.7"/><circle cx="1414.64" cy="357.24" r="3.7"/><circle cx="1401.26" cy="352.37" r="3.7"/><circle cx="1525.11" cy="373.95" r="3.7"/><circle cx="1518.42" cy="299" r="3.7"/><circle cx="1528.46" cy="311.31" r="3.7"/><circle cx="1515.07" cy="284.28" r="3.7"/><circle cx="1541.85" cy="311.82" r="3.7"/><circle cx="1582.02" cy="334.06" r="3.7"/><circle cx="1531.81" cy="328.69" r="3.7"/><circle cx="1531.81" cy="328.35" r="3.7"/><circle cx="1397.91" cy="379.19" r="3.7"/><circle cx="1468.2" cy="347.09" r="3.7"/><circle cx="1541.85" cy="306.64" r="3.7"/><circle cx="1545.2" cy="283.43" r="3.7"/><circle cx="1434.73" cy="407.12" r="3.7"/><circle cx="1585.37" cy="342.98" r="3.7"/><circle cx="1518.42" cy="322.23" r="3.7"/><circle cx="1541.85" cy="365.15" r="3.7"/><circle cx="1494.99" cy="415.22" r="3.7"/><circle cx="1568.63" cy="351.49" r="3.7"/><circle cx="1568.63" cy="319.36" r="3.7"/><circle cx="1518.42" cy="325.46" r="3.7"/><circle cx="1367.78" cy="400.15" r="3.7"/><circle cx="1561.93" cy="341.78" r="3.7"/><circle cx="1518.42" cy="263.15" r="3.7"/><circle cx="1424.69" cy="345.28" r="3.7"/><circle cx="1488.29" cy="371.86" r="3.7"/><circle cx="1407.95" cy="362.9" r="3.7"/><circle cx="1494.99" cy="317.29" r="3.7"/><circle cx="1448.12" cy="338.62" r="3.7"/><circle cx="1588.71" cy="321.93" r="3.7"/><circle cx="1515.07" cy="324.08" r="3.7"/><circle cx="1471.55" cy="333.47" r="3.7"/><circle cx="1551.89" cy="368.14" r="3.7"/><circle cx="1441.42" cy="373.06" r="3.7"/><circle cx="1454.82" cy="313.29" r="3.7"/><circle cx="1525.11" cy="401.25" r="3.7"/><circle cx="1548.55" cy="330.49" r="3.7"/><circle cx="1545.2" cy="274.12" r="3.7"/><circle cx="1468.2" cy="361.21" r="3.7"/><circle cx="1515.07" cy="355.8" r="3.7"/><circle cx="1498.33" cy="347.87" r="3.7"/><circle cx="1481.6" cy="319.47" r="3.7"/><circle cx="1541.85" cy="295.44" r="3.7"/><circle cx="1468.2" cy="375.97" r="3.7"/><circle cx="1521.77" cy="309.11" r="3.7"/><circle cx="1501.68" cy="338.59" r="3.7"/><circle cx="1444.77" cy="340.79" r="3.7"/><circle cx="1451.47" cy="390.78" r="3.7"/><circle cx="1468.2" cy="306.35" r="3.7"/><circle cx="1515.07" cy="326.08" r="3.7"/><circle cx="1417.99" cy="385.93" r="3.7"/><circle cx="1511.72" cy="300.18" r="3.7"/><circle cx="1592.06" cy="310.25" r="3.7"/><circle cx="1444.77" cy="388.66" r="3.7"/><circle cx="1448.12" cy="368.67" r="3.7"/><circle cx="1481.6" cy="352.48" r="3.7"/><circle cx="1434.73" cy="334.38" r="3.7"/><circle cx="1528.46" cy="314.88" r="3.7"/><circle cx="1488.29" cy="295.98" r="3.7"/><circle cx="1424.69" cy="368.72" r="3.7"/><circle cx="1535.15" cy="329.95" r="3.7"/><circle cx="1582.02" cy="303.2" r="3.7"/><circle cx="1421.34" cy="333.48" r="3.7"/><circle cx="1491.64" cy="268.39" r="3.7"/><circle cx="1505.03" cy="355.34" r="3.7"/><circle cx="1481.6" cy="343.05" r="3.7"/><circle cx="1531.81" cy="365.29" r="3.7"/><circle cx="1468.2" cy="289.18" r="3.7"/><circle cx="1518.42" cy="322.28" r="3.7"/><circle cx="1498.33" cy="354.96" r="3.7"/><circle cx="1414.64" cy="413.19" r="3.7"/><circle cx="1528.46" cy="307.25" r="3.7"/><circle cx="1565.28" cy="311.43" r="3.7"/><circle cx="1458.16" cy="352.92" r="3.7"/><circle cx="1518.42" cy="326.43" r="3.7"/><circle cx="1421.34" cy="365.02" r="3.7"/><circle cx="1468.2" cy="332.16" r="3.7"/><circle cx="1518.42" cy="345.49" r="3.7"/><circle cx="1491.64" cy="307.89" r="3.7"/><circle cx="1478.25" cy="349.14" r="3.7"/><circle cx="1428.04" cy="287.07" r="3.7"/><circle cx="1451.47" cy="361.6" r="3.7"/><circle cx="1541.85" cy="372.05" r="3.7"/><circle cx="1548.55" cy="298.05" r="3.7"/><circle cx="1454.82" cy="327.21" r="3.7"/><circle cx="1471.55" cy="317.02" r="3.7"/><circle cx="1531.81" cy="306.44" r="3.7"/><circle cx="1535.15" cy="339.83" r="3.7"/><circle cx="1511.72" cy="316.29" r="3.7"/><circle cx="1407.95" cy="322.57" r="3.7"/><circle cx="1448.12" cy="377.31" r="3.7"/><circle cx="1505.03" cy="294.59" r="3.7"/><circle cx="1444.77" cy="294.71" r="3.7"/><circle cx="1441.42" cy="360.39" r="3.7"/><circle cx="1458.16" cy="330.95" r="3.7"/><circle cx="1451.47" cy="358.76" r="3.7"/><circle cx="1464.86" cy="419.82" r="3.7"/><circle cx="1568.63" cy="310.31" r="3.7"/><circle cx="1481.6" cy="321.87" r="3.7"/><circle cx="1518.42" cy="296.34" r="3.7"/><circle cx="1585.37" cy="348.9" r="3.7"/><circle cx="1417.99" cy="354.3" r="3.7"/><circle cx="1592.06" cy="278.81" r="3.7"/><circle cx="1474.9" cy="310.03" r="3.7"/><circle cx="1481.6" cy="318.86" r="3.7"/><circle cx="1471.55" cy="324.52" r="3.7"/><circle cx="1484.94" cy="325.78" r="3.7"/><circle cx="1404.6" cy="308.71" r="3.7"/><circle cx="1582.02" cy="295.59" r="3.7"/><circle cx="1407.95" cy="382.36" r="3.7"/><circle cx="1441.42" cy="284.75" r="3.7"/><circle cx="1531.81" cy="305.03" r="3.7"/><circle cx="1434.73" cy="368.9" r="3.7"/><circle cx="1565.28" cy="321.15" r="3.7"/><circle cx="1498.33" cy="342.84" r="3.7"/><circle cx="1441.42" cy="280.92" r="3.7"/><circle cx="1451.47" cy="362.65" r="3.7"/><circle cx="1407.95" cy="300.56" r="3.7"/><circle cx="1508.38" cy="371.5" r="3.7"/><circle cx="1438.08" cy="286.8" r="3.7"/><circle cx="1521.77" cy="303.99" r="3.7"/><circle cx="1505.03" cy="327.52" r="3.7"/><circle cx="1458.16" cy="309.05" r="3.7"/><circle cx="1444.77" cy="330.35" r="3.7"/><circle cx="1538.5" cy="282" r="3.7"/><circle cx="1498.33" cy="314.22" r="3.7"/><circle cx="1494.99" cy="302.88" r="3.7"/><circle cx="1417.99" cy="376.91" r="3.7"/><circle cx="1434.73" cy="334.26" r="3.7"/><circle cx="1551.89" cy="268.54" r="3.7"/><circle cx="1582.02" cy="308.16" r="3.7"/><circle cx="1538.5" cy="337.85" r="3.7"/><circle cx="1438.08" cy="391.77" r="3.7"/><circle cx="1491.64" cy="329.84" r="3.7"/><circle cx="1508.38" cy="331.04" r="3.7"/><circle cx="1525.11" cy="251.42" r="3.7"/><circle cx="1525.11" cy="284.52" r="3.7"/><circle cx="1434.73" cy="355.35" r="3.7"/><circle cx="1448.12" cy="339.59" r="3.7"/><circle cx="1565.28" cy="305.75" r="3.7"/><circle cx="1461.51" cy="318.78" r="3.7"/><circle cx="1404.6" cy="355.75" r="3.7"/><circle cx="1521.77" cy="328.39" r="3.7"/><circle cx="1404.6" cy="364.44" r="3.7"/><circle cx="1428.04" cy="321.03" r="3.7"/><circle cx="1458.16" cy="375.68" r="3.7"/><circle cx="1461.51" cy="358.16" r="3.7"/><circle cx="1484.94" cy="362.22" r="3.7"/><circle cx="1525.11" cy="338.55" r="3.7"/><circle cx="1538.5" cy="370.56" r="3.7"/><circle cx="1605.45" cy="253.14" r="3.7"/><circle cx="1505.03" cy="365.11" r="3.7"/><circle cx="1521.77" cy="319.69" r="3.7"/><circle cx="1505.03" cy="302.84" r="3.7"/><circle cx="1478.25" cy="340.71" r="3.7"/><circle cx="1515.07" cy="310.73" r="3.7"/><circle cx="1461.51" cy="361.2" r="3.7"/><circle cx="1401.26" cy="389.72" r="3.7"/><circle cx="1525.11" cy="279.2" r="3.7"/><circle cx="1404.6" cy="387.86" r="3.7"/><circle cx="1505.03" cy="327.49" r="3.7"/><circle cx="1474.9" cy="354.73" r="3.7"/><circle cx="1441.42" cy="314.78" r="3.7"/><circle cx="1464.86" cy="369.27" r="3.7"/><circle cx="1464.86" cy="297.34" r="3.7"/><circle cx="1458.16" cy="341.62" r="3.7"/><circle cx="1548.55" cy="326.51" r="3.7"/><circle cx="1551.89" cy="290.67" r="3.7"/><circle cx="1448.12" cy="361.9" r="3.7"/><circle cx="1478.25" cy="367.19" r="3.7"/><circle cx="1441.42" cy="338.05" r="3.7"/><circle cx="1501.68" cy="314.93" r="3.7"/><circle cx="1538.5" cy="284" r="3.7"/><circle cx="1458.16" cy="366.45" r="3.7"/><circle cx="1471.55" cy="325.5" r="3.7"/><circle cx="1535.15" cy="299.72" r="3.7"/><circle cx="1478.25" cy="321.57" r="3.7"/><circle cx="1525.11" cy="359.75" r="3.7"/><circle cx="1555.24" cy="340.86" r="3.7"/><circle cx="1505.03" cy="299.69" r="3.7"/><circle cx="1461.51" cy="344.04" r="3.7"/><circle cx="1652.32" cy="310.58" r="3.7"/><circle cx="1444.77" cy="309.71" r="3.7"/><circle cx="1585.37" cy="316.11" r="3.7"/><circle cx="1438.08" cy="349.99" r="3.7"/><circle cx="1531.81" cy="332.4" r="3.7"/><circle cx="1632.23" cy="331.27" r="3.7"/><circle cx="1535.15" cy="305.18" r="3.7"/><circle cx="1528.46" cy="352.36" r="3.7"/><circle cx="1498.33" cy="303.18" r="3.7"/><circle cx="1438.08" cy="310.53" r="3.7"/><circle cx="1458.16" cy="405.71" r="3.7"/><circle cx="1508.38" cy="318.89" r="3.7"/><circle cx="1491.64" cy="293.53" r="3.7"/><circle cx="1444.77" cy="368.52" r="3.7"/><circle cx="1592.06" cy="310.04" r="3.7"/><circle cx="1652.32" cy="273.39" r="3.7"/><circle cx="1511.72" cy="336.24" r="3.7"/><circle cx="1421.34" cy="312.84" r="3.7"/><circle cx="1528.46" cy="305.53" r="3.7"/><circle cx="1578.67" cy="312.34" r="3.7"/><circle cx="1488.29" cy="308.33" r="3.7"/><circle cx="1515.07" cy="323.37" r="3.7"/><circle cx="1474.9" cy="321.23" r="3.7"/><circle cx="1535.15" cy="324.91" r="3.7"/><circle cx="1438.08" cy="387.69" r="3.7"/><circle cx="1545.2" cy="255.74" r="3.7"/><circle cx="1515.07" cy="302.24" r="3.7"/><circle cx="1424.69" cy="355.87" r="3.7"/><circle cx="1548.55" cy="332.86" r="3.7"/><circle cx="1501.68" cy="332.56" r="3.7"/><circle cx="1545.2" cy="279.57" r="3.7"/><circle cx="1528.46" cy="299.08" r="3.7"/><circle cx="1484.94" cy="347.13" r="3.7"/><circle cx="1511.72" cy="353.94" r="3.7"/><circle cx="1468.2" cy="363.04" r="3.7"/><circle cx="1525.11" cy="292.08" r="3.7"/><circle cx="1441.42" cy="327.83" r="3.7"/><circle cx="1411.3" cy="336.88" r="3.7"/><circle cx="1431.38" cy="295.81" r="3.7"/><circle cx="1582.02" cy="330.78" r="3.7"/><circle cx="1515.07" cy="361.36" r="3.7"/><circle cx="1494.99" cy="315.97" r="3.7"/><circle cx="1471.55" cy="310.6" r="3.7"/><circle cx="1568.63" cy="279.75" r="3.7"/><circle cx="1531.81" cy="377" r="3.7"/><circle cx="1555.24" cy="269.33" r="3.7"/><circle cx="1461.51" cy="323.39" r="3.7"/><circle cx="1528.46" cy="347.26" r="3.7"/><circle cx="1471.55" cy="316" r="3.7"/><circle cx="1494.99" cy="393.28" r="3.7"/><circle cx="1474.9" cy="366.4" r="3.7"/><circle cx="1501.68" cy="366.34" r="3.7"/><circle cx="1478.25" cy="272.91" r="3.7"/><circle cx="1488.29" cy="320.15" r="3.7"/><circle cx="1511.72" cy="325.66" r="3.7"/><circle cx="1424.69" cy="368.67" r="3.7"/><circle cx="1434.73" cy="335.83" r="3.7"/><circle cx="1518.42" cy="328.17" r="3.7"/><circle cx="1458.16" cy="384.1" r="3.7"/><circle cx="1451.47" cy="414.86" r="3.7"/><circle cx="1538.5" cy="312.43" r="3.7"/><circle cx="1538.5" cy="283.05" r="3.7"/><circle cx="1535.15" cy="283.95" r="3.7"/><circle cx="1494.99" cy="360.71" r="3.7"/><circle cx="1471.55" cy="262.04" r="3.7"/><circle cx="1474.9" cy="360.83" r="3.7"/><circle cx="1394.56" cy="371.1" r="3.7"/><circle cx="1561.93" cy="340.84" r="3.7"/><circle cx="1401.26" cy="394" r="3.7"/><circle cx="1501.68" cy="328.3" r="3.7"/><circle cx="1481.6" cy="369.37" r="3.7"/><circle cx="1528.46" cy="295.22" r="3.7"/><circle cx="1521.77" cy="346.58" r="3.7"/><circle cx="1484.94" cy="341.01" r="3.7"/><circle cx="1561.93" cy="290.92" r="3.7"/><circle cx="1491.64" cy="297.74" r="3.7"/><circle cx="1588.71" cy="336.42" r="3.7"/><circle cx="1451.47" cy="339.58" r="3.7"/><circle cx="1407.95" cy="301.27" r="3.7"/><circle cx="1481.6" cy="391.44" r="3.7"/><circle cx="1535.15" cy="295.37" r="3.7"/><circle cx="1351.04" cy="351.67" r="3.7"/><circle cx="1535.15" cy="320.73" r="3.7"/><circle cx="1541.85" cy="309.13" r="3.7"/><circle cx="1448.12" cy="354.78" r="3.7"/><circle cx="1424.69" cy="377.11" r="3.7"/><circle cx="1488.29" cy="378.93" r="3.7"/><circle cx="1434.73" cy="350.56" r="3.7"/><circle cx="1558.59" cy="301.31" r="3.7"/><circle cx="1541.85" cy="256.76" r="3.7"/><circle cx="1558.59" cy="354.75" r="3.7"/><circle cx="1518.42" cy="299.5" r="3.7"/><circle cx="1638.93" cy="316.28" r="3.7"/><circle cx="1538.5" cy="268.98" r="3.7"/><circle cx="1568.63" cy="285.15" r="3.7"/><circle cx="1468.2" cy="304.67" r="3.7"/><circle cx="1628.88" cy="294.78" r="3.7"/><circle cx="1478.25" cy="345.32" r="3.7"/><circle cx="1334.31" cy="375.76" r="3.7"/><circle cx="1528.46" cy="392.65" r="3.7"/><circle cx="1464.86" cy="268.91" r="3.7"/><circle cx="1518.42" cy="348.19" r="3.7"/><circle cx="1478.25" cy="268.01" r="3.7"/><circle cx="1441.42" cy="355.89" r="3.7"/><circle cx="1602.11" cy="366.14" r="3.7"/><circle cx="1565.28" cy="335.91" r="3.7"/><circle cx="1551.89" cy="322.52" r="3.7"/><circle cx="1417.99" cy="354.54" r="3.7"/><circle cx="1484.94" cy="343.4" r="3.7"/><circle cx="1521.77" cy="265.09" r="3.7"/><circle cx="1494.99" cy="307.41" r="3.7"/><circle cx="1351.04" cy="417.66" r="3.7"/><circle cx="1488.29" cy="283" r="3.7"/><circle cx="1484.94" cy="316.18" r="3.7"/><circle cx="1448.12" cy="338.34" r="3.7"/><circle cx="1464.86" cy="304.48" r="3.7"/><circle cx="1508.38" cy="282.96" r="3.7"/><circle cx="1598.76" cy="290.49" r="3.7"/><circle cx="1551.89" cy="313.12" r="3.7"/><circle cx="1498.33" cy="332.35" r="3.7"/><circle cx="1468.2" cy="318.87" r="3.7"/><circle cx="1391.21" cy="375.69" r="3.7"/><circle cx="1501.68" cy="351.12" r="3.7"/><circle cx="1464.86" cy="362.56" r="3.7"/><circle cx="1515.07" cy="301.65" r="3.7"/><circle cx="1491.64" cy="336.06" r="3.7"/><circle cx="1558.59" cy="323.86" r="3.7"/><circle cx="1555.24" cy="349.33" r="3.7"/><circle cx="1548.55" cy="305.96" r="3.7"/><circle cx="1461.51" cy="367.18" r="3.7"/><circle cx="1451.47" cy="308.5" r="3.7"/><circle cx="1555.24" cy="321.46" r="3.7"/><circle cx="1518.42" cy="319.48" r="3.7"/><circle cx="1431.38" cy="374.89" r="3.7"/><circle cx="1424.69" cy="348.26" r="3.7"/><circle cx="1384.52" cy="390.37" r="3.7"/><circle cx="1531.81" cy="318.06" r="3.7"/><circle cx="1454.82" cy="316.4" r="3.7"/><circle cx="1494.99" cy="370.9" r="3.7"/><circle cx="1528.46" cy="309.45" r="3.7"/><circle cx="1545.2" cy="288.11" r="3.7"/><circle cx="1515.07" cy="323.9" r="3.7"/><circle cx="1417.99" cy="365.71" r="3.7"/><circle cx="1494.99" cy="298.11" r="3.7"/><circle cx="1511.72" cy="366.52" r="3.7"/><circle cx="1484.94" cy="313.91" r="3.7"/><circle cx="1451.47" cy="375.31" r="3.7"/><circle cx="1558.59" cy="314.22" r="3.7"/><circle cx="1642.28" cy="271.9" r="3.7"/><circle cx="1545.2" cy="336.52" r="3.7"/><circle cx="1471.55" cy="298.75" r="3.7"/><circle cx="1571.98" cy="273.86" r="3.7"/><circle cx="1438.08" cy="359.95" r="3.7"/><circle cx="1625.54" cy="304.17" r="3.7"/><circle cx="1488.29" cy="379.67" r="3.7"/><circle cx="1602.11" cy="289.75" r="3.7"/><circle cx="1461.51" cy="363.12" r="3.7"/><circle cx="1558.59" cy="327.89" r="3.7"/><circle cx="1468.2" cy="316.51" r="3.7"/><circle cx="1618.84" cy="309.67" r="3.7"/><circle cx="1555.24" cy="309.59" r="3.7"/><circle cx="1481.6" cy="389.9" r="3.7"/><circle cx="1505.03" cy="341.19" r="3.7"/><circle cx="1588.71" cy="272.27" r="3.7"/><circle cx="1454.82" cy="349.23" r="3.7"/><circle cx="1665.71" cy="265.59" r="3.7"/><circle cx="1491.64" cy="318.19" r="3.7"/><circle cx="1424.69" cy="350.88" r="3.7"/><circle cx="1367.78" cy="342.63" r="3.7"/><circle cx="1541.85" cy="325.38" r="3.7"/><circle cx="1541.85" cy="282.29" r="3.7"/><circle cx="1518.42" cy="285.39" r="3.7"/><circle cx="1494.99" cy="381.76" r="3.7"/><circle cx="1484.94" cy="376.83" r="3.7"/><circle cx="1545.2" cy="292.07" r="3.7"/><circle cx="1464.86" cy="345.28" r="3.7"/><circle cx="1421.34" cy="374.45" r="3.7"/><circle cx="1488.29" cy="338.19" r="3.7"/><circle cx="1525.11" cy="329.11" r="3.7"/><circle cx="1407.95" cy="356.37" r="3.7"/><circle cx="1585.37" cy="321.43" r="3.7"/><circle cx="1468.2" cy="359.59" r="3.7"/><circle cx="1525.11" cy="290.19" r="3.7"/><circle cx="1434.73" cy="345.45" r="3.7"/><circle cx="1535.15" cy="290.93" r="3.7"/><circle cx="1515.07" cy="389.27" r="3.7"/><circle cx="1511.72" cy="350.13" r="3.7"/><circle cx="1438.08" cy="355.83" r="3.7"/><circle cx="1498.33" cy="324.41" r="3.7"/><circle cx="1468.2" cy="332.65" r="3.7"/><circle cx="1578.67" cy="270.93" r="3.7"/><circle cx="1638.93" cy="269.07" r="3.7"/><circle cx="1498.33" cy="326.54" r="3.7"/><circle cx="1498.33" cy="301.5" r="3.7"/><circle cx="1464.86" cy="321.15" r="3.7"/><circle cx="1545.2" cy="354.98" r="3.7"/><circle cx="1538.5" cy="313.54" r="3.7"/><circle cx="1458.16" cy="339.81" r="3.7"/><circle cx="1518.42" cy="331.14" r="3.7"/><circle cx="1471.55" cy="344.55" r="3.7"/><circle cx="1434.73" cy="387.77" r="3.7"/><circle cx="1454.82" cy="367.44" r="3.7"/><circle cx="1605.45" cy="295.96" r="3.7"/><circle cx="1515.07" cy="329.35" r="3.7"/><circle cx="1521.77" cy="295.13" r="3.7"/><circle cx="1565.28" cy="352.4" r="3.7"/><circle cx="1397.91" cy="325.46" r="3.7"/><circle cx="1421.34" cy="383.87" r="3.7"/><circle cx="1478.25" cy="326.42" r="3.7"/><circle cx="1508.38" cy="309.76" r="3.7"/><circle cx="1444.77" cy="385.52" r="3.7"/><circle cx="1555.24" cy="351.19" r="3.7"/><circle cx="1461.51" cy="347.74" r="3.7"/><circle cx="1511.72" cy="313.94" r="3.7"/><circle cx="1558.59" cy="339.17" r="3.7"/><circle cx="1511.72" cy="283.48" r="3.7"/><circle cx="1521.77" cy="317.79" r="3.7"/><circle cx="1478.25" cy="343.4" r="3.7"/><circle cx="1501.68" cy="286.58" r="3.7"/><circle cx="1421.34" cy="300.68" r="3.7"/><circle cx="1434.73" cy="339.01" r="3.7"/><circle cx="1595.41" cy="307.66" r="3.7"/><circle cx="1478.25" cy="378.72" r="3.7"/><circle cx="1592.06" cy="313.66" r="3.7"/><circle cx="1441.42" cy="367.24" r="3.7"/><circle cx="1505.03" cy="347.42" r="3.7"/><circle cx="1438.08" cy="352.94" r="3.7"/><circle cx="1511.72" cy="346.55" r="3.7"/><circle cx="1361.09" cy="387.63" r="3.7"/><circle cx="1488.29" cy="326.8" r="3.7"/><circle cx="1448.12" cy="355.55" r="3.7"/><circle cx="1474.9" cy="336" r="3.7"/><circle cx="1448.12" cy="340.44" r="3.7"/><circle cx="1441.42" cy="359.2" r="3.7"/><circle cx="1568.63" cy="303.62" r="3.7"/></g>
<rect x="1275.7" y="58.6" width="501.9" height="488.9" fill="none" stroke="#000" stroke-width="4.1" stroke-linejoin="miter"/>
<line x1="1271.3" y1="483.92" x2="1275.7" y2="483.92" stroke="#000" stroke-width="3.6"/>
<text x="0" y="0" transform="translate(1267.6,495.62) scale(1,1.04)" font-size="30.5" text-anchor="end">80</text>
<line x1="1341" y1="547.5" x2="1341" y2="552.1" stroke="#000" stroke-width="3.6"/>
<text x="0" y="0" transform="translate(1341,578.3) scale(1,1.04)" font-size="30.5" text-anchor="middle">80</text>
<line x1="1271.3" y1="418.7" x2="1275.7" y2="418.7" stroke="#000" stroke-width="3.6"/>
<text x="0" y="0" transform="translate(1267.6,430.4) scale(1,1.04)" font-size="30.5" text-anchor="end">100</text>
<line x1="1407.95" y1="547.5" x2="1407.95" y2="552.1" stroke="#000" stroke-width="3.6"/>
<text x="0" y="0" transform="translate(1407.95,578.3) scale(1,1.04)" font-size="30.5" text-anchor="middle">100</text>
<line x1="1271.3" y1="353.48" x2="1275.7" y2="353.48" stroke="#000" stroke-width="3.6"/>
<text x="0" y="0" transform="translate(1267.6,365.18) scale(1,1.04)" font-size="30.5" text-anchor="end">120</text>
<line x1="1474.9" y1="547.5" x2="1474.9" y2="552.1" stroke="#000" stroke-width="3.6"/>
<text x="0" y="0" transform="translate(1474.9,578.3) scale(1,1.04)" font-size="30.5" text-anchor="middle">120</text>
<line x1="1271.3" y1="288.26" x2="1275.7" y2="288.26" stroke="#000" stroke-width="3.6"/>
<text x="0" y="0" transform="translate(1267.6,299.96) scale(1,1.04)" font-size="30.5" text-anchor="end">140</text>
<line x1="1541.85" y1="547.5" x2="1541.85" y2="552.1" stroke="#000" stroke-width="3.6"/>
<text x="0" y="0" transform="translate(1541.85,578.3) scale(1,1.04)" font-size="30.5" text-anchor="middle">140</text>
<line x1="1271.3" y1="223.04" x2="1275.7" y2="223.04" stroke="#000" stroke-width="3.6"/>
<text x="0" y="0" transform="translate(1267.6,234.74) scale(1,1.04)" font-size="30.5" text-anchor="end">160</text>
<line x1="1608.8" y1="547.5" x2="1608.8" y2="552.1" stroke="#000" stroke-width="3.6"/>
<text x="0" y="0" transform="translate(1608.8,578.3) scale(1,1.04)" font-size="30.5" text-anchor="middle">160</text>
<line x1="1271.3" y1="157.82" x2="1275.7" y2="157.82" stroke="#000" stroke-width="3.6"/>
<text x="0" y="0" transform="translate(1267.6,169.52) scale(1,1.04)" font-size="30.5" text-anchor="end">180</text>
<line x1="1675.75" y1="547.5" x2="1675.75" y2="552.1" stroke="#000" stroke-width="3.6"/>
<text x="0" y="0" transform="translate(1675.75,578.3) scale(1,1.04)" font-size="30.5" text-anchor="middle">180</text>
<line x1="1271.3" y1="92.6" x2="1275.7" y2="92.6" stroke="#000" stroke-width="3.6"/>
<text x="0" y="0" transform="translate(1267.6,104.3) scale(1,1.04)" font-size="30.5" text-anchor="end">200</text>
<line x1="1742.7" y1="547.5" x2="1742.7" y2="552.1" stroke="#000" stroke-width="3.6"/>
<text x="0" y="0" transform="translate(1742.7,578.3) scale(1,1.04)" font-size="30.5" text-anchor="middle">200</text>
<text x="0" y="0" transform="translate(1514.2,618.8) scale(1,1.04)" font-size="37.6" text-anchor="middle">True SBP [mmHg]</text>
<text x="0" y="0" transform="translate(1197.4,318) rotate(-90) scale(1,1.04)" font-size="37.6" text-anchor="middle">Predicted SBP [mmHg]</text>
<text x="0" y="0" transform="translate(1547,108.8) scale(1,1.04)" font-size="30">R<tspan font-size="16" dy="-10.5">2</tspan><tspan dy="10.5"> = 0.330</tspan></text>
<text x="0" y="0" transform="translate(1547,141.8) scale(1,1.04)" font-size="30">RMSE = 15.42</text>
<line x1="1296" y1="658.4" x2="1296" y2="1147.3" stroke="#b3b3b3" stroke-width="3"/>
<line x1="1361.29" y1="658.4" x2="1361.29" y2="1147.3" stroke="#b3b3b3" stroke-width="3"/>
<line x1="1426.58" y1="658.4" x2="1426.58" y2="1147.3" stroke="#b3b3b3" stroke-width="3"/>
<line x1="1491.87" y1="658.4" x2="1491.87" y2="1147.3" stroke="#b3b3b3" stroke-width="3"/>
<line x1="1557.16" y1="658.4" x2="1557.16" y2="1147.3" stroke="#b3b3b3" stroke-width="3"/>
<line x1="1622.45" y1="658.4" x2="1622.45" y2="1147.3" stroke="#b3b3b3" stroke-width="3"/>
<line x1="1687.74" y1="658.4" x2="1687.74" y2="1147.3" stroke="#b3b3b3" stroke-width="3"/>
<line x1="1753.03" y1="658.4" x2="1753.03" y2="1147.3" stroke="#b3b3b3" stroke-width="3"/>
<line x1="1273.6" y1="1095.11" x2="1775.6" y2="1095.11" stroke="#b3b3b3" stroke-width="3"/>
<line x1="1273.6" y1="1038.18" x2="1775.6" y2="1038.18" stroke="#b3b3b3" stroke-width="3"/>
<line x1="1273.6" y1="981.25" x2="1775.6" y2="981.25" stroke="#b3b3b3" stroke-width="3"/>
<line x1="1273.6" y1="924.32" x2="1775.6" y2="924.32" stroke="#b3b3b3" stroke-width="3"/>
<line x1="1273.6" y1="867.39" x2="1775.6" y2="867.39" stroke="#b3b3b3" stroke-width="3"/>
<line x1="1273.6" y1="810.46" x2="1775.6" y2="810.46" stroke="#b3b3b3" stroke-width="3"/>
<line x1="1273.6" y1="753.53" x2="1775.6" y2="753.53" stroke="#b3b3b3" stroke-width="3"/>
<line x1="1273.6" y1="696.6" x2="1775.6" y2="696.6" stroke="#b3b3b3" stroke-width="3"/>
<path d="M1296,675.88 L1361.29,1022.7 L1426.58,1021.67 L1491.87,1021.1 L1557.16,1124.2 L1622.45,1021.1 L1687.74,1124.2 L1753.03,1018.08" fill="none" stroke="#2272b1" stroke-width="9.5" stroke-linejoin="round" stroke-linecap="butt"/>
<rect x="1273.6" y="658.4" width="502" height="488.9" fill="none" stroke="#000" stroke-width="4.1" stroke-linejoin="miter"/>
<line x1="1269.2" y1="1095.11" x2="1273.6" y2="1095.11" stroke="#000" stroke-width="3.6"/>
<text x="0" y="0" transform="translate(1266,1106.81) scale(1,1.04)" font-size="30.7" text-anchor="end">67000</text>
<line x1="1269.2" y1="1038.18" x2="1273.6" y2="1038.18" stroke="#000" stroke-width="3.6"/>
<text x="0" y="0" transform="translate(1266,1049.88) scale(1,1.04)" font-size="30.7" text-anchor="end">68000</text>
<line x1="1269.2" y1="981.25" x2="1273.6" y2="981.25" stroke="#000" stroke-width="3.6"/>
<text x="0" y="0" transform="translate(1266,992.95) scale(1,1.04)" font-size="30.7" text-anchor="end">69000</text>
<line x1="1269.2" y1="924.32" x2="1273.6" y2="924.32" stroke="#000" stroke-width="3.6"/>
<text x="0" y="0" transform="translate(1266,936.02) scale(1,1.04)" font-size="30.7" text-anchor="end">70000</text>
<line x1="1269.2" y1="867.39" x2="1273.6" y2="867.39" stroke="#000" stroke-width="3.6"/>
<text x="0" y="0" transform="translate(1266,879.09) scale(1,1.04)" font-size="30.7" text-anchor="end">71000</text>
<line x1="1269.2" y1="810.46" x2="1273.6" y2="810.46" stroke="#000" stroke-width="3.6"/>
<text x="0" y="0" transform="translate(1266,822.16) scale(1,1.04)" font-size="30.7" text-anchor="end">72000</text>
<line x1="1269.2" y1="753.53" x2="1273.6" y2="753.53" stroke="#000" stroke-width="3.6"/>
<text x="0" y="0" transform="translate(1266,765.23) scale(1,1.04)" font-size="30.7" text-anchor="end">73000</text>
<line x1="1269.2" y1="696.6" x2="1273.6" y2="696.6" stroke="#000" stroke-width="3.6"/>
<text x="0" y="0" transform="translate(1266,708.3) scale(1,1.04)" font-size="30.7" text-anchor="end">74000</text>
<line x1="1296" y1="1147.3" x2="1296" y2="1151.7" stroke="#000" stroke-width="3.6"/>
<text x="0" y="0" transform="translate(1296,1178.3) scale(1,1.04)" font-size="30.7" text-anchor="middle">1</text>
<line x1="1361.29" y1="1147.3" x2="1361.29" y2="1151.7" stroke="#000" stroke-width="3.6"/>
<text x="0" y="0" transform="translate(1361.29,1178.3) scale(1,1.04)" font-size="30.7" text-anchor="middle">2</text>
<line x1="1426.58" y1="1147.3" x2="1426.58" y2="1151.7" stroke="#000" stroke-width="3.6"/>
<text x="0" y="0" transform="translate(1426.58,1178.3) scale(1,1.04)" font-size="30.7" text-anchor="middle">3</text>
<line x1="1491.87" y1="1147.3" x2="1491.87" y2="1151.7" stroke="#000" stroke-width="3.6"/>
<text x="0" y="0" transform="translate(1491.87,1178.3) scale(1,1.04)" font-size="30.7" text-anchor="middle">4</text>
<line x1="1557.16" y1="1147.3" x2="1557.16" y2="1151.7" stroke="#000" stroke-width="3.6"/>
<text x="0" y="0" transform="translate(1557.16,1178.3) scale(1,1.04)" font-size="30.7" text-anchor="middle">5</text>
<line x1="1622.45" y1="1147.3" x2="1622.45" y2="1151.7" stroke="#000" stroke-width="3.6"/>
<text x="0" y="0" transform="translate(1622.45,1178.3) scale(1,1.04)" font-size="30.7" text-anchor="middle">6</text>
<line x1="1687.74" y1="1147.3" x2="1687.74" y2="1151.7" stroke="#000" stroke-width="3.6"/>
<text x="0" y="0" transform="translate(1687.74,1178.3) scale(1,1.04)" font-size="30.7" text-anchor="middle">7</text>
<line x1="1753.03" y1="1147.3" x2="1753.03" y2="1151.7" stroke="#000" stroke-width="3.6"/>
<text x="0" y="0" transform="translate(1753.03,1178.3) scale(1,1.04)" font-size="30.7" text-anchor="middle">8</text>
<text x="0" y="0" transform="translate(1525.5,1222.9) scale(1,1.04)" font-size="37.6" text-anchor="middle">Number of mixture components</text>
<text x="0" y="0" transform="translate(1155.9,901.7) rotate(-90) scale(1,1.04)" font-size="41.6" text-anchor="middle">WBIC</text>
<rect x="111.7" y="1377.8" width="16.91" height="431.2" fill="#2272b1" stroke="#000" stroke-width="2"/>
<rect x="128.61" y="1529" width="16.91" height="280" fill="#2272b1" stroke="#000" stroke-width="2"/>
<rect x="145.52" y="1607.4" width="16.91" height="201.6" fill="#2272b1" stroke="#000" stroke-width="2"/>
<rect x="162.43" y="1730.6" width="16.91" height="78.4" fill="#2272b1" stroke="#000" stroke-width="2"/>
<rect x="179.34" y="1708.2" width="16.91" height="100.8" fill="#2272b1" stroke="#000" stroke-width="2"/>
<rect x="196.25" y="1719.4" width="16.91" height="89.6" fill="#2272b1" stroke="#000" stroke-width="2"/>
<rect x="213.17" y="1747.4" width="16.91" height="61.6" fill="#2272b1" stroke="#000" stroke-width="2"/>
<rect x="230.08" y="1753" width="16.91" height="56" fill="#2272b1" stroke="#000" stroke-width="2"/>
<rect x="246.99" y="1769.8" width="16.91" height="39.2" fill="#2272b1" stroke="#000" stroke-width="2"/>
<rect x="263.9" y="1769.8" width="16.91" height="39.2" fill="#2272b1" stroke="#000" stroke-width="2"/>
<rect x="280.81" y="1803.4" width="16.91" height="5.6" fill="#2272b1" stroke="#000" stroke-width="2"/>
<rect x="297.72" y="1797.8" width="16.91" height="11.2" fill="#2272b1" stroke="#000" stroke-width="2"/>
<rect x="314.63" y="1786.6" width="16.91" height="22.4" fill="#2272b1" stroke="#000" stroke-width="2"/>
<rect x="331.54" y="1797.8" width="16.91" height="11.2" fill="#2272b1" stroke="#000" stroke-width="2"/>
<rect x="365.36" y="1803.4" width="16.91" height="5.6" fill="#2272b1" stroke="#000" stroke-width="2"/>
<rect x="433.01" y="1803.4" width="16.91" height="5.6" fill="#2272b1" stroke="#000" stroke-width="2"/>
<rect x="517.56" y="1797.8" width="16.91" height="11.2" fill="#2272b1" stroke="#000" stroke-width="2"/>
<line x1="111.7" y1="1356.1" x2="111.7" y2="1809" stroke="#1e8a3a" stroke-width="2.4" stroke-dasharray="7.7 3.3"/>
<line x1="147.31" y1="1356.1" x2="147.31" y2="1809" stroke="#e8211e" stroke-width="2.4" stroke-dasharray="7.7 3.3"/>
<rect x="246.8" y="1370.2" width="294.4" height="129.4" rx="6" fill="#fff" stroke="#d3d3d3" stroke-width="3.8"/>
<line x1="257.5" y1="1392.4" x2="313.8" y2="1392.4" stroke="#1e8a3a" stroke-width="2.4" stroke-dasharray="7.7 3.3"/>
<line x1="257.5" y1="1433" x2="313.8" y2="1433" stroke="#e8211e" stroke-width="2.4" stroke-dasharray="7.7 3.3"/>
<text x="0" y="0" transform="translate(336.2,1402.8) scale(1,1.04)" font-size="28.2">Chance rate</text>
<text x="0" y="0" transform="translate(336.2,1443.5) scale(1,1.04)" font-size="28.2">Median = 0.76</text>
<text x="0" y="0" transform="translate(336.2,1483.8) scale(1,1.04)" font-size="28.2"><tspan font-style="italic">n</tspan> = 259</text>
<rect x="90.5" y="1356.1" width="465" height="452.9" fill="none" stroke="#000" stroke-width="4.1" stroke-linejoin="miter"/>
<line x1="86.1" y1="1809" x2="90.5" y2="1809" stroke="#000" stroke-width="3.6"/>
<text x="0" y="0" transform="translate(82.3,1819.2) scale(1,1.04)" font-size="28.2" text-anchor="end">0</text>
<line x1="86.1" y1="1753" x2="90.5" y2="1753" stroke="#000" stroke-width="3.6"/>
<text x="0" y="0" transform="translate(82.3,1763.2) scale(1,1.04)" font-size="28.2" text-anchor="end">10</text>
<line x1="86.1" y1="1697" x2="90.5" y2="1697" stroke="#000" stroke-width="3.6"/>
<text x="0" y="0" transform="translate(82.3,1707.2) scale(1,1.04)" font-size="28.2" text-anchor="end">20</text>
<line x1="86.1" y1="1641" x2="90.5" y2="1641" stroke="#000" stroke-width="3.6"/>
<text x="0" y="0" transform="translate(82.3,1651.2) scale(1,1.04)" font-size="28.2" text-anchor="end">30</text>
<line x1="86.1" y1="1585" x2="90.5" y2="1585" stroke="#000" stroke-width="3.6"/>
<text x="0" y="0" transform="translate(82.3,1595.2) scale(1,1.04)" font-size="28.2" text-anchor="end">40</text>
<line x1="86.1" y1="1529" x2="90.5" y2="1529" stroke="#000" stroke-width="3.6"/>
<text x="0" y="0" transform="translate(82.3,1539.2) scale(1,1.04)" font-size="28.2" text-anchor="end">50</text>
<line x1="86.1" y1="1473" x2="90.5" y2="1473" stroke="#000" stroke-width="3.6"/>
<text x="0" y="0" transform="translate(82.3,1483.2) scale(1,1.04)" font-size="28.2" text-anchor="end">60</text>
<line x1="86.1" y1="1417" x2="90.5" y2="1417" stroke="#000" stroke-width="3.6"/>
<text x="0" y="0" transform="translate(82.3,1427.2) scale(1,1.04)" font-size="28.2" text-anchor="end">70</text>
<line x1="86.1" y1="1361" x2="90.5" y2="1361" stroke="#000" stroke-width="3.6"/>
<text x="0" y="0" transform="translate(82.3,1371.2) scale(1,1.04)" font-size="28.2" text-anchor="end">80</text>
<line x1="111.7" y1="1809" x2="111.7" y2="1813.4" stroke="#000" stroke-width="3.6"/>
<text x="0" y="0" transform="translate(111.7,1837) scale(1,1.04)" font-size="28.2" text-anchor="middle">0</text>
<line x1="205.42" y1="1809" x2="205.42" y2="1813.4" stroke="#000" stroke-width="3.6"/>
<text x="0" y="0" transform="translate(205.42,1837) scale(1,1.04)" font-size="28.2" text-anchor="middle">2</text>
<line x1="299.14" y1="1809" x2="299.14" y2="1813.4" stroke="#000" stroke-width="3.6"/>
<text x="0" y="0" transform="translate(299.14,1837) scale(1,1.04)" font-size="28.2" text-anchor="middle">4</text>
<line x1="392.86" y1="1809" x2="392.86" y2="1813.4" stroke="#000" stroke-width="3.6"/>
<text x="0" y="0" transform="translate(392.86,1837) scale(1,1.04)" font-size="28.2" text-anchor="middle">6</text>
<line x1="486.58" y1="1809" x2="486.58" y2="1813.4" stroke="#000" stroke-width="3.6"/>
<text x="0" y="0" transform="translate(486.58,1837) scale(1,1.04)" font-size="28.2" text-anchor="middle">8</text>
<text x="0" y="0" transform="translate(36.4,1583) rotate(-90) scale(1,1.04)" font-size="37.8" text-anchor="middle">Number of Instances</text>
<text x="0" y="0" transform="translate(323.4,1874.5) scale(1,1.04)" font-size="37.6" text-anchor="middle">Actionability Score</text>
<rect x="717.8" y="1376.89" width="16.92" height="431.01" fill="#2272b1" stroke="#000" stroke-width="2"/>
<rect x="734.72" y="1499.12" width="16.92" height="308.78" fill="#2272b1" stroke="#000" stroke-width="2"/>
<rect x="751.65" y="1563.45" width="16.92" height="244.45" fill="#2272b1" stroke="#000" stroke-width="2"/>
<rect x="768.57" y="1666.37" width="16.92" height="141.53" fill="#2272b1" stroke="#000" stroke-width="2"/>
<rect x="785.49" y="1679.24" width="16.92" height="128.66" fill="#2272b1" stroke="#000" stroke-width="2"/>
<rect x="802.42" y="1647.08" width="16.92" height="160.82" fill="#2272b1" stroke="#000" stroke-width="2"/>
<rect x="819.34" y="1737.14" width="16.92" height="70.76" fill="#2272b1" stroke="#000" stroke-width="2"/>
<rect x="836.26" y="1743.57" width="16.92" height="64.33" fill="#2272b1" stroke="#000" stroke-width="2"/>
<rect x="853.19" y="1756.44" width="16.92" height="51.46" fill="#2272b1" stroke="#000" stroke-width="2"/>
<rect x="870.11" y="1782.17" width="16.92" height="25.73" fill="#2272b1" stroke="#000" stroke-width="2"/>
<rect x="887.04" y="1775.74" width="16.92" height="32.16" fill="#2272b1" stroke="#000" stroke-width="2"/>
<rect x="903.96" y="1756.44" width="16.92" height="51.46" fill="#2272b1" stroke="#000" stroke-width="2"/>
<rect x="920.88" y="1788.6" width="16.92" height="19.3" fill="#2272b1" stroke="#000" stroke-width="2"/>
<rect x="937.81" y="1782.17" width="16.92" height="25.73" fill="#2272b1" stroke="#000" stroke-width="2"/>
<rect x="954.73" y="1801.47" width="16.92" height="6.43" fill="#2272b1" stroke="#000" stroke-width="2"/>
<rect x="971.65" y="1788.6" width="16.92" height="19.3" fill="#2272b1" stroke="#000" stroke-width="2"/>
<rect x="988.58" y="1788.6" width="16.92" height="19.3" fill="#2272b1" stroke="#000" stroke-width="2"/>
<rect x="1005.5" y="1801.47" width="16.92" height="6.43" fill="#2272b1" stroke="#000" stroke-width="2"/>
<rect x="1056.27" y="1795.03" width="16.92" height="12.87" fill="#2272b1" stroke="#000" stroke-width="2"/>
<rect x="1123.96" y="1801.47" width="16.92" height="6.43" fill="#2272b1" stroke="#000" stroke-width="2"/>
<line x1="717.8" y1="1355.3" x2="717.8" y2="1807.9" stroke="#1e8a3a" stroke-width="2.4" stroke-dasharray="7.7 3.3"/>
<line x1="762.24" y1="1355.3" x2="762.24" y2="1807.9" stroke="#e8211e" stroke-width="2.4" stroke-dasharray="7.7 3.3"/>
<rect x="853" y="1369.1" width="295" height="129.7" rx="6" fill="#fff" stroke="#d3d3d3" stroke-width="3.8"/>
<line x1="863.7" y1="1391.3" x2="920" y2="1391.3" stroke="#1e8a3a" stroke-width="2.4" stroke-dasharray="7.7 3.3"/>
<line x1="863.7" y1="1431.9" x2="920" y2="1431.9" stroke="#e8211e" stroke-width="2.4" stroke-dasharray="7.7 3.3"/>
<text x="0" y="0" transform="translate(942.4,1401.7) scale(1,1.04)" font-size="28.2">Chance rate</text>
<text x="0" y="0" transform="translate(942.4,1442.4) scale(1,1.04)" font-size="28.2">Median = 1.54</text>
<text x="0" y="0" transform="translate(942.4,1482.7) scale(1,1.04)" font-size="28.2"><tspan font-style="italic">n</tspan> = 284</text>
<rect x="697.1" y="1355.3" width="464.9" height="452.6" fill="none" stroke="#000" stroke-width="4.1" stroke-linejoin="miter"/>
<line x1="692.7" y1="1807.9" x2="697.1" y2="1807.9" stroke="#000" stroke-width="3.6"/>
<text x="0" y="0" transform="translate(688.5,1818.1) scale(1,1.04)" font-size="28.2" text-anchor="end">0</text>
<line x1="692.7" y1="1743.57" x2="697.1" y2="1743.57" stroke="#000" stroke-width="3.6"/>
<text x="0" y="0" transform="translate(688.5,1753.77) scale(1,1.04)" font-size="28.2" text-anchor="end">10</text>
<line x1="692.7" y1="1679.24" x2="697.1" y2="1679.24" stroke="#000" stroke-width="3.6"/>
<text x="0" y="0" transform="translate(688.5,1689.44) scale(1,1.04)" font-size="28.2" text-anchor="end">20</text>
<line x1="692.7" y1="1614.91" x2="697.1" y2="1614.91" stroke="#000" stroke-width="3.6"/>
<text x="0" y="0" transform="translate(688.5,1625.11) scale(1,1.04)" font-size="28.2" text-anchor="end">30</text>
<line x1="692.7" y1="1550.58" x2="697.1" y2="1550.58" stroke="#000" stroke-width="3.6"/>
<text x="0" y="0" transform="translate(688.5,1560.78) scale(1,1.04)" font-size="28.2" text-anchor="end">40</text>
<line x1="692.7" y1="1486.25" x2="697.1" y2="1486.25" stroke="#000" stroke-width="3.6"/>
<text x="0" y="0" transform="translate(688.5,1496.45) scale(1,1.04)" font-size="28.2" text-anchor="end">50</text>
<line x1="692.7" y1="1421.92" x2="697.1" y2="1421.92" stroke="#000" stroke-width="3.6"/>
<text x="0" y="0" transform="translate(688.5,1432.12) scale(1,1.04)" font-size="28.2" text-anchor="end">60</text>
<line x1="692.7" y1="1357.59" x2="697.1" y2="1357.59" stroke="#000" stroke-width="3.6"/>
<text x="0" y="0" transform="translate(688.5,1367.79) scale(1,1.04)" font-size="28.2" text-anchor="end">70</text>
<line x1="717.8" y1="1807.9" x2="717.8" y2="1812.3" stroke="#000" stroke-width="3.6"/>
<text x="0" y="0" transform="translate(717.8,1837) scale(1,1.04)" font-size="28.2" text-anchor="middle">0</text>
<line x1="775.52" y1="1807.9" x2="775.52" y2="1812.3" stroke="#000" stroke-width="3.6"/>
<text x="0" y="0" transform="translate(775.52,1837) scale(1,1.04)" font-size="28.2" text-anchor="middle">2</text>
<line x1="833.24" y1="1807.9" x2="833.24" y2="1812.3" stroke="#000" stroke-width="3.6"/>
<text x="0" y="0" transform="translate(833.24,1837) scale(1,1.04)" font-size="28.2" text-anchor="middle">4</text>
<line x1="890.96" y1="1807.9" x2="890.96" y2="1812.3" stroke="#000" stroke-width="3.6"/>
<text x="0" y="0" transform="translate(890.96,1837) scale(1,1.04)" font-size="28.2" text-anchor="middle">6</text>
<line x1="948.68" y1="1807.9" x2="948.68" y2="1812.3" stroke="#000" stroke-width="3.6"/>
<text x="0" y="0" transform="translate(948.68,1837) scale(1,1.04)" font-size="28.2" text-anchor="middle">8</text>
<line x1="1006.4" y1="1807.9" x2="1006.4" y2="1812.3" stroke="#000" stroke-width="3.6"/>
<text x="0" y="0" transform="translate(1006.4,1837) scale(1,1.04)" font-size="28.2" text-anchor="middle">10</text>
<line x1="1064.12" y1="1807.9" x2="1064.12" y2="1812.3" stroke="#000" stroke-width="3.6"/>
<text x="0" y="0" transform="translate(1064.12,1837) scale(1,1.04)" font-size="28.2" text-anchor="middle">12</text>
<line x1="1121.84" y1="1807.9" x2="1121.84" y2="1812.3" stroke="#000" stroke-width="3.6"/>
<text x="0" y="0" transform="translate(1121.84,1837) scale(1,1.04)" font-size="28.2" text-anchor="middle">14</text>
<text x="0" y="0" transform="translate(643,1583) rotate(-90) scale(1,1.04)" font-size="37.8" text-anchor="middle">Number of Instances</text>
<text x="0" y="0" transform="translate(929.4,1874.5) scale(1,1.04)" font-size="37.6" text-anchor="middle">Actionability Score</text>
<rect x="1347.5" y="1650.19" width="122.1" height="51.92" fill="none" stroke="#999999" stroke-width="2.3"/>
<line x1="1347.5" y1="1670.09" x2="1469.6" y2="1670.09" stroke="#999999" stroke-width="2.3"/>
<line x1="1408.4" y1="1650.19" x2="1408.4" y2="1601.3" stroke="#999999" stroke-width="2.3"/>
<line x1="1408.4" y1="1702.11" x2="1408.4" y2="1738.03" stroke="#999999" stroke-width="2.3"/>
<line x1="1377.1" y1="1601.3" x2="1439.9" y2="1601.3" stroke="#999999" stroke-width="2.3"/>
<line x1="1377.1" y1="1738.03" x2="1439.9" y2="1738.03" stroke="#999999" stroke-width="2.3"/>
<rect x="1591.4" y="1470.7" width="122.4" height="50" fill="none" stroke="#999999" stroke-width="2.3"/>
<line x1="1591.4" y1="1493.9" x2="1713.8" y2="1493.9" stroke="#999999" stroke-width="2.3"/>
<line x1="1652.4" y1="1470.7" x2="1652.4" y2="1423.5" stroke="#999999" stroke-width="2.3"/>
<line x1="1652.4" y1="1520.7" x2="1652.4" y2="1573.5" stroke="#999999" stroke-width="2.3"/>
<line x1="1621.2" y1="1423.5" x2="1684" y2="1423.5" stroke="#999999" stroke-width="2.3"/>
<line x1="1621.2" y1="1573.5" x2="1684" y2="1573.5" stroke="#999999" stroke-width="2.3"/>
<circle cx="1408.4" cy="1601.1" r="3.8" fill="#1f77b4"/>
<circle cx="1408.4" cy="1628.2" r="3.8" fill="#1f77b4"/>
<circle cx="1408.4" cy="1647" r="3.8" fill="#1f77b4"/>
<circle cx="1401.1" cy="1659.1" r="3.8" fill="#1f77b4"/>
<circle cx="1408.4" cy="1661.2" r="3.8" fill="#1f77b4"/>
<circle cx="1402.1" cy="1679.3" r="3.8" fill="#1f77b4"/>
<circle cx="1408.4" cy="1682.7" r="3.8" fill="#1f77b4"/>
<circle cx="1400.9" cy="1708.1" r="3.8" fill="#1f77b4"/>
<circle cx="1408.4" cy="1709.6" r="3.8" fill="#1f77b4"/>
<circle cx="1408.4" cy="1737.7" r="3.8" fill="#1f77b4"/>
<circle cx="1652.44" cy="1369.16" r="3.7" fill="#9467bd"/>
<circle cx="1637.31" cy="1423.53" r="3.7" fill="#8c564b"/>
<circle cx="1644.87" cy="1423.53" r="3.7" fill="#d62728"/>
<circle cx="1652.44" cy="1423.53" r="3.7" fill="#ff7f0e"/>
<circle cx="1660.25" cy="1423.53" r="3.7" fill="#2ca02c"/>
<circle cx="1644.71" cy="1438.4" r="3.7" fill="#9467bd"/>
<circle cx="1652.44" cy="1438.4" r="3.7" fill="#2ca02c"/>
<circle cx="1652.44" cy="1450" r="3.7" fill="#d62728"/>
<circle cx="1640.84" cy="1464.57" r="3.7" fill="#8c564b"/>
<circle cx="1622.49" cy="1473.2" r="3.7" fill="#2ca02c"/>
<circle cx="1630.1" cy="1473.2" r="3.7" fill="#d62728"/>
<circle cx="1637.71" cy="1474.22" r="3.7" fill="#ff7f0e"/>
<circle cx="1644.76" cy="1476.8" r="3.7" fill="#8c564b"/>
<circle cx="1652.45" cy="1476.8" r="3.7" fill="#ff7f0e"/>
<circle cx="1644.76" cy="1469.9" r="3.7" fill="#2ca02c"/>
<circle cx="1652.45" cy="1469.51" r="3.7" fill="#ff7f0e"/>
<circle cx="1659.67" cy="1474.45" r="3.7" fill="#d62728"/>
<circle cx="1667.35" cy="1474.22" r="3.7" fill="#2ca02c"/>
<circle cx="1675.04" cy="1473.2" r="3.7" fill="#9467bd"/>
<circle cx="1661.47" cy="1468.33" r="3.7" fill="#9467bd"/>
<circle cx="1681.47" cy="1470.06" r="3.7" fill="#9467bd"/>
<circle cx="1644.76" cy="1489.67" r="3.7" fill="#ff7f0e"/>
<circle cx="1652.45" cy="1489.67" r="3.7" fill="#d62728"/>
<circle cx="1620.14" cy="1493.59" r="3.7" fill="#2ca02c"/>
<circle cx="1627.75" cy="1493.59" r="3.7" fill="#d62728"/>
<circle cx="1634.57" cy="1496.41" r="3.7" fill="#8c564b"/>
<circle cx="1642.25" cy="1496.57" r="3.7" fill="#2ca02c"/>
<circle cx="1649.47" cy="1499.08" r="3.7" fill="#8c564b"/>
<circle cx="1652.45" cy="1504.8" r="3.7" fill="#8c564b"/>
<circle cx="1656.53" cy="1496.57" r="3.7" fill="#9467bd"/>
<circle cx="1664.06" cy="1496.57" r="3.7" fill="#d62728"/>
<circle cx="1671.43" cy="1495.16" r="3.7" fill="#ff7f0e"/>
<circle cx="1678.96" cy="1493.59" r="3.7" fill="#9467bd"/>
<circle cx="1615.98" cy="1516.57" r="3.7" fill="#8c564b"/>
<circle cx="1621.86" cy="1520.73" r="3.7" fill="#ff7f0e"/>
<circle cx="1629.55" cy="1520.73" r="3.7" fill="#8c564b"/>
<circle cx="1637.16" cy="1520.73" r="3.7" fill="#2ca02c"/>
<circle cx="1644.76" cy="1520.73" r="3.7" fill="#d62728"/>
<circle cx="1652.45" cy="1520.73" r="3.7" fill="#9467bd"/>
<circle cx="1660.29" cy="1520.73" r="3.7" fill="#8c564b"/>
<circle cx="1667.75" cy="1520.73" r="3.7" fill="#ff7f0e"/>
<circle cx="1675.59" cy="1520.73" r="3.7" fill="#2ca02c"/>
<circle cx="1683.2" cy="1520.73" r="3.7" fill="#d62728"/>
<circle cx="1652.45" cy="1552.35" r="3.7" fill="#ff7f0e"/>
<circle cx="1644.76" cy="1573.53" r="3.7" fill="#9467bd"/>
<circle cx="1652.45" cy="1573.53" r="3.7" fill="#8c564b"/>
<circle cx="1644.76" cy="1625.06" r="3.7" fill="#9467bd"/>
<circle cx="1652.45" cy="1625.06" r="3.7" fill="#2ca02c"/>
<circle cx="1660.29" cy="1625.06" r="3.7" fill="#ff7f0e"/>
<circle cx="1652.45" cy="1650.78" r="3.7" fill="#d62728"/>
<path d="M1408.4,1750 L1408.4,1767.4 L1652.4,1767.4 L1652.4,1750" fill="none" stroke="#000" stroke-width="2.5"/>
<text x="0" y="0" transform="translate(1526,1803.7) scale(1,1.04)" font-size="28.4" text-anchor="middle"><tspan font-style="italic">p</tspan> &lt; 0.0001</text>
<rect x="1310.8" y="1373.6" width="229.8" height="197" rx="6" fill="#fff" stroke="#d3d3d3" stroke-width="4"/>
<circle cx="1341" cy="1392.6" r="8" fill="#1f77b4"/>
<text x="0" y="0" transform="translate(1380.4,1398.2) scale(1,1.04)" font-size="22">Framework</text>
<circle cx="1341" cy="1424.65" r="8" fill="#ff7f0e"/>
<text x="0" y="0" transform="translate(1380.4,1430.25) scale(1,1.04)" font-size="22">Cardiologist 1</text>
<circle cx="1341" cy="1456.7" r="8" fill="#2ca02c"/>
<text x="0" y="0" transform="translate(1380.4,1462.3) scale(1,1.04)" font-size="22">Cardiologist 2</text>
<circle cx="1341" cy="1488.75" r="8" fill="#d62728"/>
<text x="0" y="0" transform="translate(1380.4,1494.35) scale(1,1.04)" font-size="22">Cardiologist 3</text>
<circle cx="1341" cy="1520.8" r="8" fill="#9467bd"/>
<text x="0" y="0" transform="translate(1380.4,1526.4) scale(1,1.04)" font-size="22">Cardiologist 4</text>
<circle cx="1341" cy="1552.85" r="8" fill="#8c564b"/>
<text x="0" y="0" transform="translate(1380.4,1558.45) scale(1,1.04)" font-size="22">Cardiologist 5</text>
<rect x="1286.5" y="1352.3" width="488.1" height="475.2" fill="none" stroke="#000" stroke-width="4.1" stroke-linejoin="miter"/>
<line x1="1282.1" y1="1352.06" x2="1286.5" y2="1352.06" stroke="#000" stroke-width="3.6"/>
<text x="0" y="0" transform="translate(1273.2,1360.26) scale(1,1.04)" font-size="24.5" text-anchor="end">2</text>
<line x1="1282.1" y1="1438.6" x2="1286.5" y2="1438.6" stroke="#000" stroke-width="3.6"/>
<text x="0" y="0" transform="translate(1273.2,1446.8) scale(1,1.04)" font-size="24.5" text-anchor="end">0</text>
<line x1="1282.1" y1="1525.14" x2="1286.5" y2="1525.14" stroke="#000" stroke-width="3.6"/>
<text x="0" y="0" transform="translate(1273.2,1533.34) scale(1,1.04)" font-size="24.5" text-anchor="end">&#8722;2</text>
<line x1="1282.1" y1="1611.68" x2="1286.5" y2="1611.68" stroke="#000" stroke-width="3.6"/>
<text x="0" y="0" transform="translate(1273.2,1619.88) scale(1,1.04)" font-size="24.5" text-anchor="end">&#8722;4</text>
<line x1="1282.1" y1="1698.22" x2="1286.5" y2="1698.22" stroke="#000" stroke-width="3.6"/>
<text x="0" y="0" transform="translate(1273.2,1706.42) scale(1,1.04)" font-size="24.5" text-anchor="end">&#8722;6</text>
<line x1="1282.1" y1="1784.76" x2="1286.5" y2="1784.76" stroke="#000" stroke-width="3.6"/>
<text x="0" y="0" transform="translate(1273.2,1792.96) scale(1,1.04)" font-size="24.5" text-anchor="end">&#8722;8</text>
<line x1="1408.4" y1="1827.5" x2="1408.4" y2="1831.9" stroke="#000" stroke-width="3.6"/>
<line x1="1652.4" y1="1827.5" x2="1652.4" y2="1831.9" stroke="#000" stroke-width="3.6"/>
<text x="0" y="0" transform="translate(1412.6,1871.7) scale(1,1.04)" font-size="37.6" text-anchor="middle">Framework</text>
<text x="0" y="0" transform="translate(1660,1871.7) scale(1,1.04)" font-size="37.6" text-anchor="middle">Cardiologists</text>
<text x="0" y="0" transform="translate(1236.8,1576) rotate(-90) scale(1,1.04)" font-size="29.25" text-anchor="middle">Predicted change in SBP [mmHg]</text>
</svg></body></html>
